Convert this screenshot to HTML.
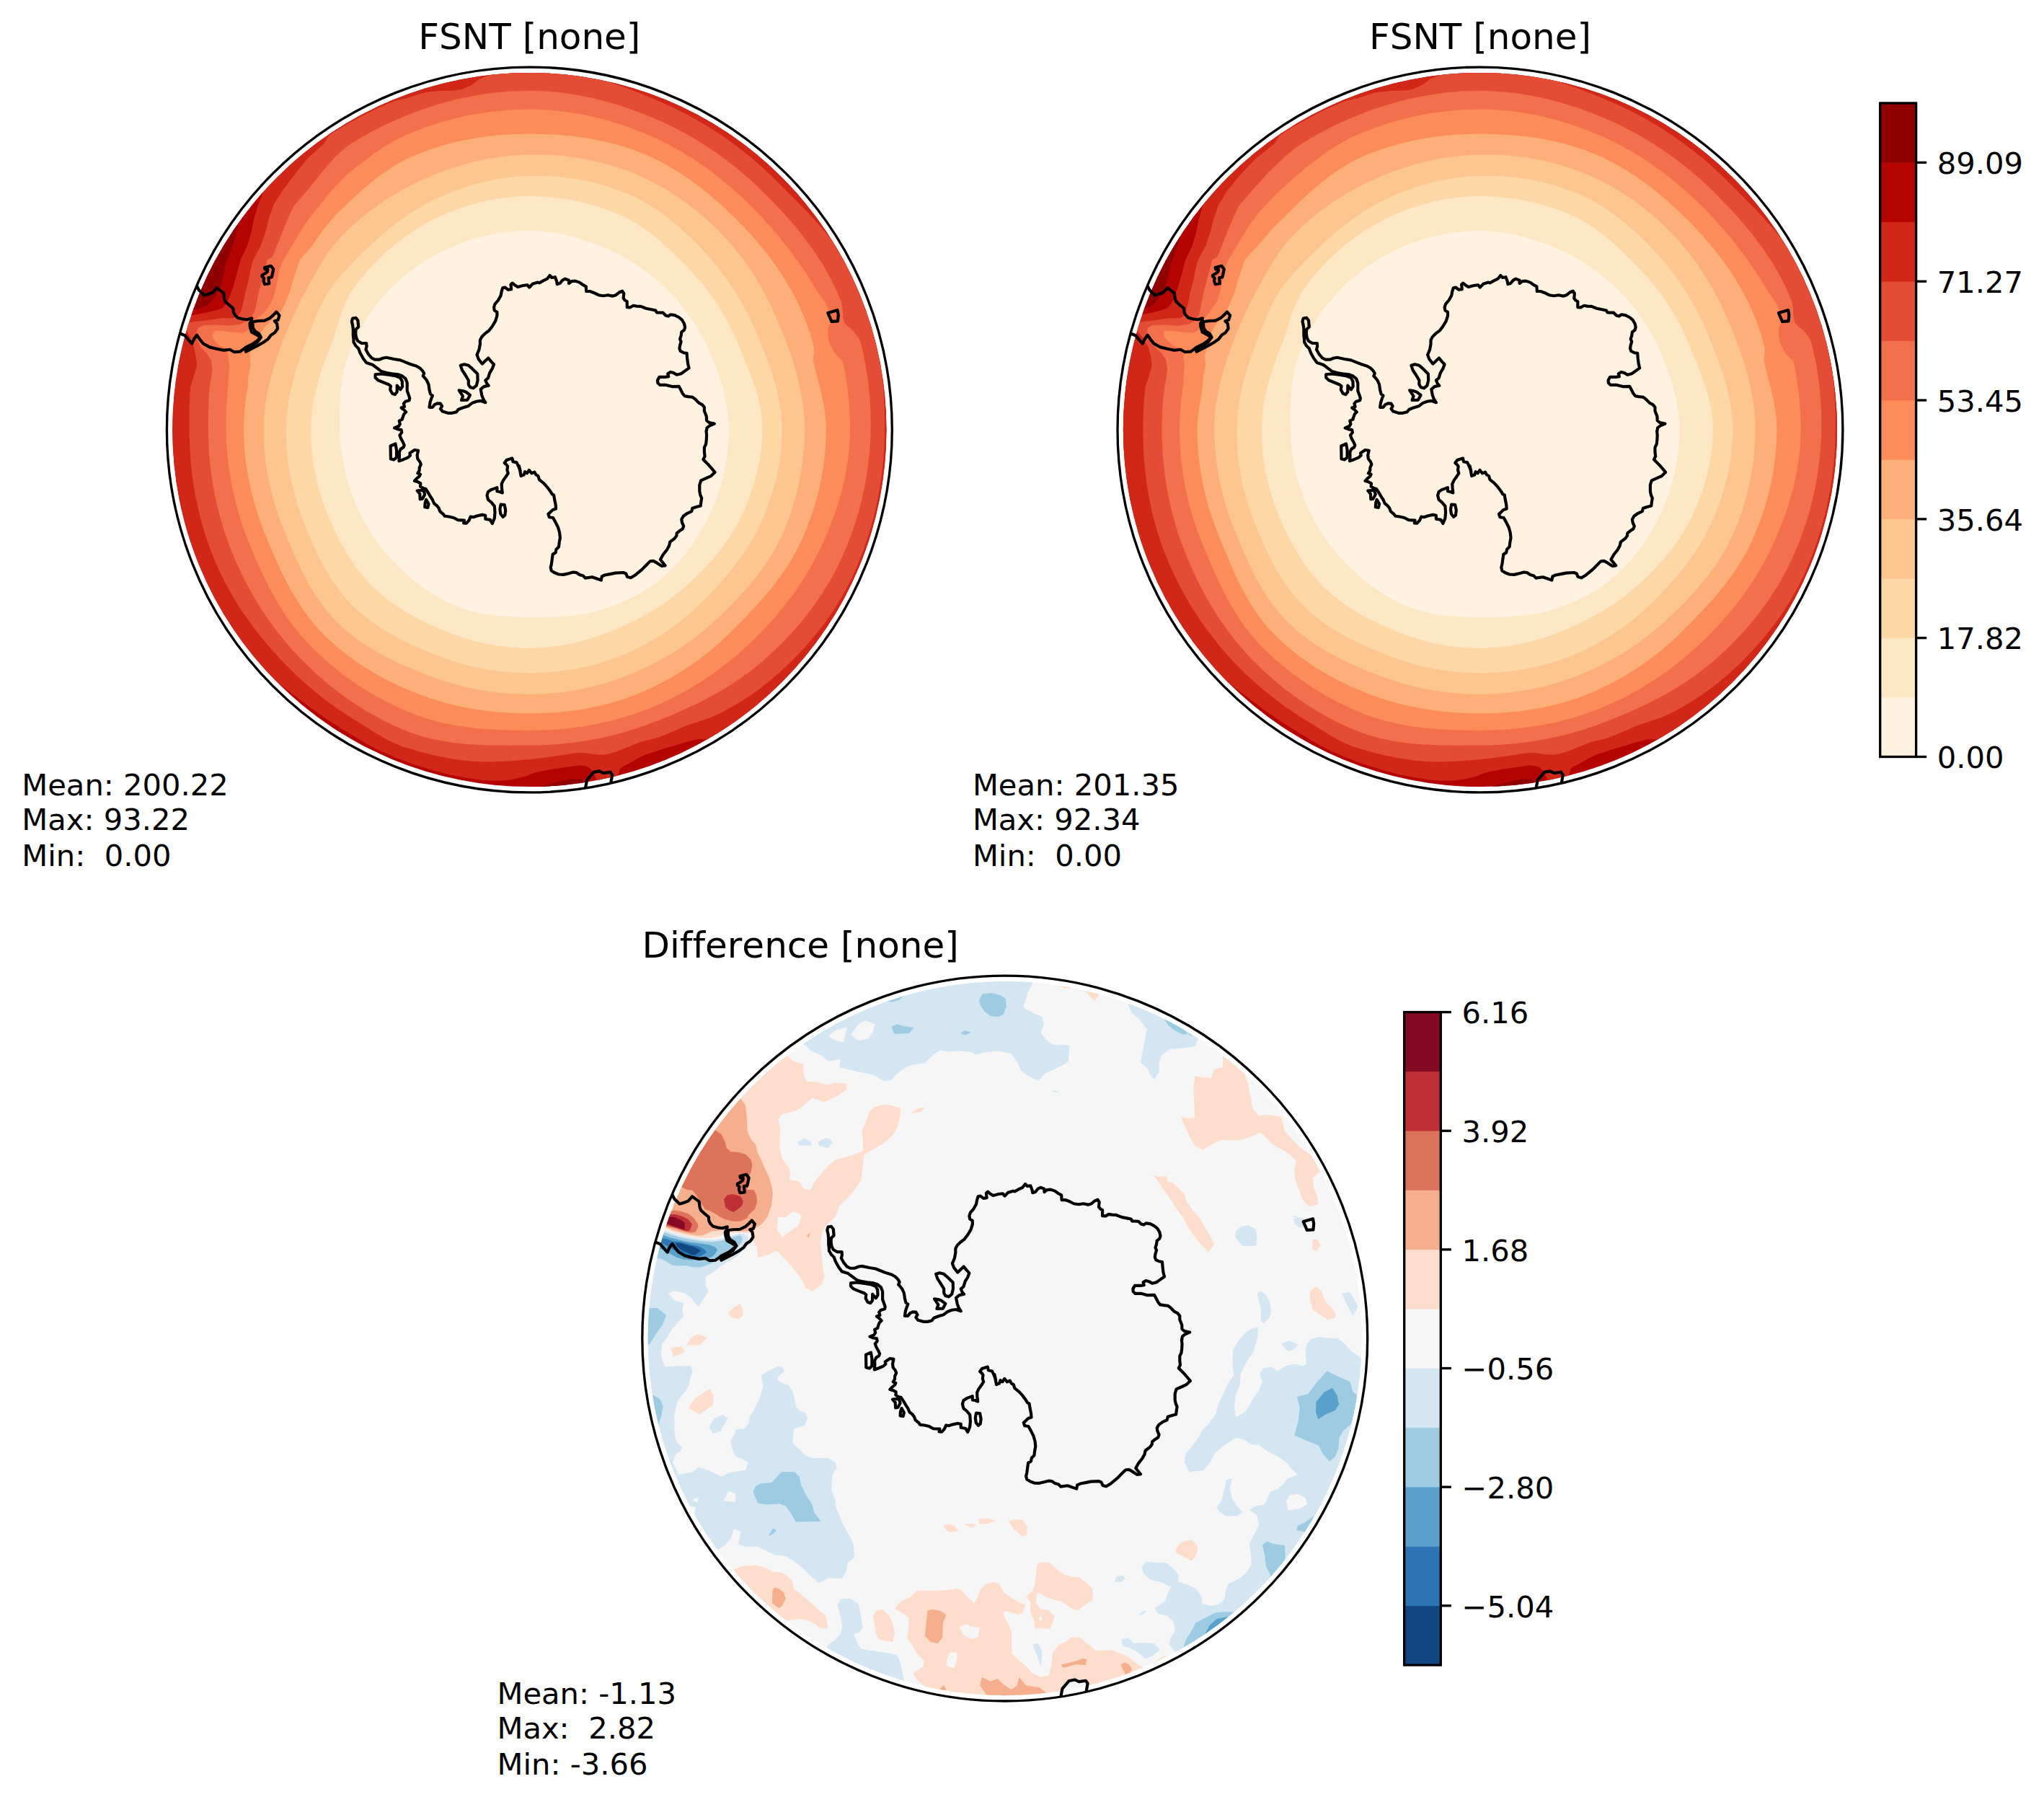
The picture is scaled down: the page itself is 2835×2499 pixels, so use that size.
<!DOCTYPE html>
<html><head><meta charset="utf-8"><title>FSNT polar</title>
<style>
html,body{margin:0;padding:0;background:#fff;}
svg{display:block}
text{font-family:"DejaVu Sans","Liberation Sans",sans-serif;fill:#000;font-variant-ligatures:none;font-feature-settings:"liga" 0,"clig" 0;font-kerning:none}
.t12{font-size:50px}
.t10{font-size:41.67px}
</style></head><body>
<svg width="2835" height="2499" viewBox="0 0 2835 2499">
<rect width="2835" height="2499" fill="#fff"/>
<defs>

<clipPath id="cp1"><circle cx="734.35" cy="596.0" r="502.95"/></clipPath>
<clipPath id="cd1"><circle cx="734.35" cy="596.0" r="495.1"/></clipPath>
<clipPath id="cp2"><circle cx="2052.95" cy="596.0" r="502.95"/></clipPath>
<clipPath id="cd2"><circle cx="2052.95" cy="596.0" r="495.1"/></clipPath>
<clipPath id="cp3"><circle cx="1393.75" cy="1856.05" r="502.95"/></clipPath>
<clipPath id="cd3"><circle cx="1393.75" cy="1856.05" r="495.1"/></clipPath>
<g id="coast" fill="none" stroke="#000" stroke-width="4.17" stroke-linejoin="round" stroke-linecap="round"><path d="M13.9,-203.0 L19.8,-206.2 L24.9,-208.6 L28.6,-213.3 L31.5,-210.3 L35.9,-211.1 L38.1,-205.2 L38.8,-201.2 L42.5,-202.3 L46.2,-206.7 L49.8,-208.6 L55.0,-206.7 L55.0,-202.3 L58.7,-205.2 L63.8,-205.7 L69.7,-203.7 L74.8,-200.1 L78.8,-197.9 L79.2,-191.3 L84.3,-191.3 L90.2,-189.1 L96.1,-186.1 L102.7,-185.1 L109.3,-186.1 L115.9,-184.7 L120.3,-186.1 L124.7,-189.8 L129.1,-191.6 L131.3,-188.3 L130.6,-181.7 L132.8,-178.8 L135.7,-177.3 L135.7,-169.2 L140.1,-169.0 L144.5,-171.5 L148.9,-170.7 L154.8,-170.4 L162.1,-167.5 L169.5,-166.0 L175.3,-164.8 L176.8,-161.9 L185.6,-161.6 L189.3,-157.8 L193.0,-156.8 L195.9,-159.0 L201.8,-158.2 L207.6,-155.3 L212.0,-151.6 L215.0,-146.5 L216.1,-141.4 L215.0,-137.7 L211.3,-134.8 L210.6,-129.6 L209.1,-125.2 L210.6,-121.5 L209.1,-116.4 L208.4,-112.0 L209.8,-108.3 L214.2,-106.1 L218.6,-105.4 L219.1,-98.8 L220.1,-90.7 L221.6,-84.9 L216.4,-81.2 L210.6,-77.1 L204.7,-75.6 L200.3,-78.2 L195.9,-79.4 L192.2,-77.1 L193.3,-73.1 L188.6,-72.4 L180.5,-72.4 L178.0,-68.0 L178.3,-64.3 L181.2,-61.4 L190.0,-61.4 L198.1,-59.2 L207.6,-59.5 L209.8,-55.5 L212.8,-49.6 L215.7,-46.0 L220.8,-45.2 L226.7,-44.5 L230.4,-41.6 L235.5,-36.4 L239.9,-34.2 L242.9,-30.5 L242.9,-25.4 L245.8,-18.1 L246.1,-12.2 L249.5,-9.3 L256.8,-7.8 L250.2,-4.9 L246.5,-1.9 L245.8,2.5 L245.5,2.3 L246.1,8.2 L245.8,14.8 L245.1,20.7 L242.9,25.1 L242.9,31.7 L243.6,37.5 L241.4,41.9 L244.3,44.9 L248.7,49.3 L253.1,54.4 L257.5,59.6 L251.7,65.1 L244.3,68.4 L238.2,71.0 L236.3,77.2 L236.3,86.0 L237.3,91.1 L239.2,95.5 L238.5,99.9 L237.7,106.2 L231.9,107.7 L226.4,109.5 L225.2,113.9 L219.4,116.5 L213.8,120.5 L211.3,124.9 L212.0,129.3 L214.2,134.4 L212.8,138.1 L208.4,141.0 L204.7,144.0 L204.4,147.6 L201.8,151.3 L195.2,156.4 L194.1,161.6 L190.8,167.4 L185.6,174.0 L181.9,180.6 L184.2,183.6 L188.6,189.0 L183.4,189.5 L176.8,185.1 L172.1,182.6 L167.7,183.1 L162.1,188.7 L156.3,194.6 L147.5,201.9 L140.9,206.0 L136.0,204.6 L134.2,200.2 L130.6,198.7 L119.6,199.3 L112.2,200.8 L104.9,202.2 L100.8,204.1 L99.8,209.3 L94.6,207.5 L87.3,204.9 L77.7,206.3 L74.8,203.1 L69.7,201.6 L65.3,198.7 L60.9,198.3 L55.7,199.7 L47.6,201.6 L41.0,201.2 L35.2,199.0 L30.8,196.1 L29.7,191.7 L30.8,187.3 L31.8,179.9 L32.7,173.3 L36.6,171.1 L37.4,166.7 L41.0,163.0 L41.8,156.4 L42.9,150.6 L42.1,143.2 L40.0,135.9 L35.9,127.8 L33.0,122.7 L27.8,121.9 L26.4,117.5 L29.3,115.0 L32.7,111.7 L37.1,110.2 L36.6,104.3 L35.2,97.7 L34.1,91.1 L31.8,90.1 L29.3,86.0 L24.9,80.1 L19.8,74.5 L13.9,69.8 L12.4,64.7 L9.5,63.2 L7.3,59.3 L3.3,61.0 L-0.1,56.6 L-3.0,61.0 L-5.9,58.8 L-7.4,63.2 L-11.4,64.7 L-14.0,50.8 L-12.3,58.1 L-14.5,52.2 L-17.4,46.1 L-22.5,44.9 L-23.6,40.2 L-31.4,42.7 L-34.3,46.6 L-32.1,48.5 L-29.9,51.5 L-30.6,56.6 L-29.2,61.0 L-32.1,65.4 L-35.8,70.6 L-38.3,75.7 L-38.0,81.6 L-37.2,88.2 L-40.9,86.7 L-44.6,86.0 L-44.6,80.8 L-52.6,83.8 L-57.0,86.7 L-58.5,91.8 L-57.0,97.7 L-52.6,101.4 L-48.2,106.5 L-47.5,115.3 L-48.2,123.4 L-51.2,130.7 L-54.1,125.6 L-60.7,124.4 L-60.7,119.4 L-65.1,118.6 L-71.7,120.0 L-77.6,121.9 L-81.3,121.2 L-83.5,126.3 L-87.1,130.3 L-90.8,130.0 L-90.1,126.3 L-98.9,125.9 L-104.7,122.7 L-111.4,121.2 L-117.2,120.5 L-119.4,117.5 L-123.8,113.9 L-125.3,109.5 L-128.2,105.8 L-131.9,102.9 L-134.1,97.7 L-137.0,93.3 L-140.0,88.2 L-143.6,82.7 L-147.3,81.6 L-151.0,79.4 L-150.7,75.0 L-154.7,72.8 L-159.1,71.6 L-156.1,68.4 L-152.4,65.4 L-151.0,62.5 L-154.7,61.0 L-152.4,57.4 L-152.2,53.0 L-150.2,48.5 L-151.7,44.9 L-154.7,41.2 L-155.4,36.1 L-153.9,29.5 L-159.1,28.7 L-165.7,33.1 L-164.9,36.1 L-167.9,39.0 L-174.5,41.9 L-180.6,44.1 L-180.0,37.5 L-180.3,31.7 L-178.1,27.3 L-174.5,25.1 L-173.3,22.1 L-175.2,17.7 L-178.1,12.6 L-179.6,8.2 L-176.7,4.5 L-177.4,0.8 L-181.8,0.1 L-186.9,-1.8 L-181.1,-4.3 L-179.2,-7.2 L-180.3,-11.6 L-175.9,-13.8 L-175.9,-15.1 L-173.7,-21.0 L-170.8,-23.9 L-173.7,-26.9 L-177.4,-29.8 L-173.0,-31.3 L-174.2,-35.7 L-171.5,-38.6 L-166.4,-40.1 L-165.7,-43.0 L-167.1,-47.4 L-169.3,-53.3 L-169.3,-64.3 L-171.5,-70.2 L-175.9,-73.8 L-181.8,-76.0 L-190.6,-77.1 L-197.9,-78.2 L-205.3,-80.4 L-211.2,-84.9 L-217.0,-89.3 L-225.8,-92.2 L-230.2,-98.1 L-234.6,-106.1 L-236.8,-112.0 L-240.5,-115.7 L-243.5,-120.8 L-243.5,-124.5 L-244.2,-129.6 L-244.2,-138.4 L-244.9,-144.3 L-246.1,-149.4 L-244.9,-153.8 L-240.5,-154.6 L-237.6,-150.9 L-236.8,-142.1 L-240.5,-138.4 L-240.8,-132.6 L-239.8,-126.7 L-237.6,-122.3 L-232.4,-119.3 L-225.8,-119.3 L-225.5,-114.9 L-226.6,-110.5 L-222.9,-103.9 L-218.5,-98.8 L-214.1,-96.6 L-208.2,-96.6 L-202.4,-98.8 L-197.9,-99.5 L-187.7,-97.3 L-178.9,-95.9 L-171.5,-92.9 L-164.2,-90.0 L-156.9,-87.8 L-151.7,-84.9 L-148.0,-81.2 L-145.8,-77.5 L-147.3,-73.8 L-145.8,-72.4 L-142.2,-68.0 L-139.5,-62.1 L-138.5,-54.8 L-137.0,-48.9 L-134.1,-46.7 L-135.6,-43.0 L-137.5,-37.1 L-138.5,-30.5 L-134.1,-30.5 L-131.2,-34.2 L-127.5,-36.0 L-123.1,-35.7 L-120.9,-32.0 L-123.1,-28.3 L-120.2,-24.7 L-112.8,-22.5 L-106.9,-22.5 L-101.1,-23.9 L-98.1,-27.6 L-92.3,-29.8 L-84.9,-32.0 L-79.1,-36.4 L-73.2,-38.6 L-67.3,-39.4 L-60.7,-37.1 L-63.6,-41.6 L-65.8,-47.4 L-67.3,-55.5 L-62.9,-59.2 L-56.3,-60.6 L-58.5,-62.8 L-60.7,-68.0 L-57.0,-70.9 L-54.8,-78.2 L-51.2,-84.1 L-49.0,-90.0 L-52.6,-93.7 L-56.7,-98.8 L-60.7,-95.1 L-65.1,-90.7 L-70.3,-97.3 L-72.5,-103.2 L-69.5,-110.5 L-68.1,-117.9 L-68.1,-123.7 L-65.8,-128.2 L-61.4,-132.6 L-55.6,-137.0 L-51.2,-142.8 L-46.8,-150.2 L-44.6,-157.5 L-44.6,-162.6 L-48.2,-164.8 L-49.0,-169.2 L-47.5,-173.7 L-43.1,-178.8 L-39.4,-185.4 L-38.3,-191.3 L-36.8,-196.0 L-33.6,-196.8 L-29.2,-193.5 L-24.8,-194.2 L-25.5,-200.8 L-23.3,-202.7 L-20.3,-200.1 L-15.9,-197.4 L-8.6,-199.3 L-2.7,-200.1 L0.2,-196.8 L4.6,-201.5 L11.9,-203.7Z"/>
<path d="M-213.4,-76.0 L-205.3,-76.8 L-193.5,-75.3 L-184.7,-73.8 L-178.9,-71.6 L-176.2,-66.5 L-175.9,-59.2 L-178.6,-55.1 L-181.5,-58.4 L-183.3,-60.6 L-183.3,-51.8 L-186.2,-48.2 L-189.9,-49.6 L-192.8,-54.8 L-192.1,-59.9 L-195.0,-62.1 L-202.4,-65.0 L-209.7,-68.0 L-213.4,-71.6Z"/>
<path d="M-95.2,-88.5 L-90.1,-90.0 L-84.2,-88.5 L-79.1,-84.1 L-71.7,-76.8 L-71.4,-68.0 L-73.2,-60.6 L-77.6,-57.0 L-82.0,-58.4 L-84.2,-62.1 L-84.2,-68.0 L-88.6,-75.3 L-93.0,-81.9Z"/>
<path d="M-97.4,-54.0 L-92.3,-53.3 L-87.9,-51.8 L-82.0,-47.4 L-85.7,-40.7 L-94.0,-40.4 L-92.0,-46.0Z"/>
<path d="M-192.4,23.2 L-185.5,20.2 L-184.0,28.7 L-184.0,39.0 L-187.7,42.2 L-192.1,41.2Z"/>
<path d="M-155.4,85.2 L-146.6,84.5 L-144.8,90.4 L-148.0,96.3 L-151.3,97.0 L-151.7,89.6Z"/>
<path d="M-142.9,97.7 L-139.5,103.6 L-140.7,108.7 L-144.8,108.0 L-144.4,102.1Z"/>
<path d="M-39.4,104.3 L-34.3,104.8 L-32.8,112.4 L-33.6,119.0 L-36.5,121.5 L-39.7,117.5 L-40.6,110.9Z"/>
<path d="M-367.0,-224.3 L-358.2,-226.5 L-354.8,-222.1 L-355.8,-216.7 L-357.2,-210.8 L-361.6,-210.3 L-360.7,-202.0 L-367.0,-201.1 L-368.5,-205.9 L-367.8,-209.4 L-370.7,-212.0 L-370.4,-213.8 L-366.0,-216.2 L-363.1,-218.7 L-362.6,-221.6 L-366.5,-221.9Z"/>
<path d="M414.3,-161.3 L427.6,-165.2 L428.8,-158.2 L428.0,-149.9 L419.4,-149.5Z"/>
<path d="M-461.9,-200.5 L-458.0,-192.7 L-450.7,-185.8 L-445.3,-187.3 L-438.9,-189.7 L-433.4,-196.1 L-428.7,-192.7 L-423.8,-189.0 L-422.8,-180.9 L-421.3,-177.0 L-415.9,-172.1 L-410.6,-167.7 L-410.1,-162.3 L-408.1,-158.4 L-404.2,-154.5 L-398.3,-153.0 L-391.5,-152.1 L-384.6,-154.0 L-385.6,-150.1 L-387.6,-146.7 L-387.1,-141.8 L-385.1,-134.9 L-378.8,-131.5 L-372.9,-127.6 L-376.8,-123.2 L-382.7,-118.8 L-388.5,-115.9 L-393.4,-113.4 L-396.4,-111.0 L-401.3,-107.6 L-409.1,-107.1 L-415.0,-110.5 L-423.8,-109.5 L-433.5,-111.5 L-443.3,-113.9 L-452.1,-118.8 L-456.5,-124.2 L-460.9,-130.5 L-464.9,-125.2 L-467.8,-118.8 L-472.7,-124.2 L-477.6,-130.1 L-484.9,-133.0"/>
<path d="M-384.6,-149.1 L-376.8,-150.1 L-367.0,-150.6 L-359.2,-154.5 L-354.3,-158.9 L-350.6,-162.8 L-346.5,-157.9 L-348.4,-151.6 L-353.3,-150.1 L-349.9,-146.7 L-348.9,-139.8 L-352.8,-134.0 L-358.2,-130.5 L-362.1,-125.2 L-369.0,-120.3 L-377.8,-115.4 L-386.6,-111.0 L-392.9,-107.6 L-393.4,-110.0"/>
<path d="M-383.6,-147.7 L-383.2,-140.8 L-380.7,-136.4 L-374.8,-132.5 L-371.9,-127.6 L-376.8,-121.2 L-384.6,-115.4 L-392.5,-109.5"/>
<path d="M77.7,499.5 L80.0,486.6 L89.4,475.6 L97.2,474.1 L103.1,476.8 L112.5,475.4 L115.2,479.1 L112.9,492.4"/></g>
</defs>
<g clip-path="url(#cd1)">
<g transform="translate(734.0,595.3)"><circle r="500" fill="#b50302"/>
<path d="M500.0,-0.0 L500.0,-4.4 L499.9,-8.7 L499.8,-13.1 L499.7,-17.4 L499.5,-21.8 L499.3,-26.2 L499.1,-30.5 L498.8,-34.9 L498.5,-39.2 L498.1,-43.6 L497.7,-47.9 L497.3,-52.3 L496.8,-56.6 L496.3,-60.9 L495.7,-65.3 L495.1,-69.6 L494.5,-73.9 L493.8,-78.2 L493.1,-82.5 L492.4,-86.8 L491.6,-91.1 L490.8,-95.4 L490.0,-99.7 L489.1,-104.0 L488.1,-108.2 L487.2,-112.5 L486.2,-116.7 L485.1,-121.0 L484.1,-125.2 L483.0,-129.4 L481.8,-133.6 L480.6,-137.8 L479.4,-142.0 L478.2,-146.2 L476.9,-150.4 L475.5,-154.5 L474.2,-158.7 L472.8,-162.8 L471.3,-166.9 L469.8,-171.0 L468.3,-175.1 L466.8,-179.2 L465.2,-183.3 L463.6,-187.3 L461.9,-191.3 L460.3,-195.4 L458.5,-199.4 L456.8,-203.4 L455.0,-207.3 L453.2,-211.3 L451.3,-215.3 L449.4,-219.2 L447.5,-223.1 L445.5,-227.0 L443.5,-230.9 L441.5,-234.7 L439.4,-238.6 L437.3,-242.4 L435.2,-246.2 L433.0,-250.0 L430.8,-253.8 L428.6,-257.5 L426.3,-261.2 L424.0,-265.0 L421.7,-268.6 L419.3,-272.3 L416.9,-276.0 L414.5,-279.6 L412.1,-283.2 L409.6,-286.8 L407.1,-290.4 L404.5,-293.9 L401.9,-297.4 L399.3,-300.9 L396.7,-304.4 L394.0,-307.8 L391.3,-311.3 L388.6,-314.7 L385.8,-318.0 L383.0,-321.4 L380.2,-324.7 L377.4,-328.0 L374.5,-331.3 L371.6,-334.6 L368.6,-337.8 L365.7,-341.0 L362.7,-344.2 L359.7,-347.3 L356.6,-350.5 L353.6,-353.6 L350.5,-356.6 L347.3,-359.7 L344.2,-362.7 L341.0,-365.7 L337.8,-368.6 L334.6,-371.6 L331.3,-374.5 L328.0,-377.4 L324.7,-380.2 L321.4,-383.0 L318.0,-385.8 L314.7,-388.6 L311.3,-391.3 L307.8,-394.0 L304.4,-396.7 L300.9,-399.3 L297.4,-401.9 L293.9,-404.5 L290.4,-407.1 L286.8,-409.6 L283.2,-412.1 L279.6,-414.5 L276.0,-416.9 L272.3,-419.3 L268.6,-421.7 L265.0,-424.0 L261.2,-426.3 L257.5,-428.6 L253.8,-430.8 L250.0,-433.0 L246.2,-435.2 L242.4,-437.3 L238.6,-439.4 L234.7,-441.5 L230.9,-443.5 L227.0,-445.5 L223.1,-447.5 L219.2,-449.4 L215.3,-451.3 L211.3,-453.2 L207.3,-455.0 L203.4,-456.8 L199.4,-458.5 L195.4,-460.3 L191.3,-461.9 L187.3,-463.6 L183.3,-465.2 L179.2,-466.8 L175.1,-468.3 L171.0,-469.8 L166.9,-471.3 L162.8,-472.8 L158.7,-474.2 L154.5,-475.5 L150.4,-476.9 L146.2,-478.2 L142.0,-479.4 L137.8,-480.6 L133.6,-481.8 L129.4,-483.0 L125.2,-484.1 L121.0,-485.1 L116.7,-486.2 L112.5,-487.2 L108.2,-488.1 L104.0,-489.1 L99.7,-490.0 L95.4,-490.8 L91.1,-491.6 L86.8,-492.4 L82.5,-493.1 L78.2,-493.8 L73.9,-494.5 L69.6,-495.1 L65.3,-495.7 L60.9,-496.3 L56.6,-496.8 L52.3,-497.3 L47.9,-497.7 L43.6,-498.1 L39.2,-498.5 L34.9,-498.8 L30.5,-499.1 L26.2,-499.3 L21.8,-499.5 L17.4,-499.7 L13.1,-499.8 L8.7,-499.9 L4.4,-500.0 L0.0,-500.0 L-4.4,-500.0 L-8.7,-499.9 L-13.1,-499.8 L-17.4,-499.7 L-21.8,-499.5 L-26.2,-499.3 L-30.5,-499.1 L-34.9,-498.8 L-39.2,-498.5 L-43.6,-498.1 L-47.9,-497.7 L-52.3,-497.3 L-56.6,-496.8 L-60.9,-496.3 L-65.3,-495.7 L-69.6,-495.1 L-73.9,-494.5 L-78.2,-493.8 L-82.5,-493.1 L-86.8,-492.4 L-91.1,-491.6 L-95.4,-490.8 L-99.7,-490.0 L-104.0,-489.1 L-108.2,-488.1 L-112.5,-487.2 L-116.7,-486.2 L-121.0,-485.1 L-125.2,-484.1 L-129.4,-483.0 L-133.6,-481.8 L-137.8,-480.6 L-142.0,-479.4 L-146.2,-478.2 L-150.4,-476.9 L-154.5,-475.5 L-158.7,-474.2 L-162.8,-472.8 L-166.9,-471.3 L-171.0,-469.8 L-175.1,-468.3 L-179.2,-466.8 L-183.3,-465.2 L-187.3,-463.6 L-191.3,-461.9 L-195.4,-460.3 L-199.4,-458.5 L-203.4,-456.8 L-207.3,-455.0 L-211.3,-453.2 L-215.3,-451.3 L-219.2,-449.4 L-223.1,-447.5 L-227.0,-445.5 L-230.9,-443.5 L-234.7,-441.5 L-238.6,-439.4 L-242.4,-437.3 L-246.2,-435.2 L-250.0,-433.0 L-253.8,-430.8 L-257.5,-428.6 L-261.2,-426.3 L-265.0,-424.0 L-268.6,-421.7 L-272.3,-419.3 L-276.0,-416.9 L-279.6,-414.5 L-283.2,-412.1 L-286.8,-409.6 L-290.4,-407.1 L-293.9,-404.5 L-297.4,-401.9 L-300.9,-399.3 L-304.4,-396.7 L-307.8,-394.0 L-311.3,-391.3 L-314.7,-388.6 L-318.0,-385.8 L-321.4,-383.0 L-324.7,-380.2 L-328.0,-377.4 L-331.3,-374.5 L-334.6,-371.6 L-337.8,-368.6 L-341.0,-365.7 L-344.2,-362.7 L-347.3,-359.7 L-350.5,-356.6 L-353.6,-353.6 L-356.6,-350.5 L-359.7,-347.3 L-362.7,-344.2 L-365.7,-341.0 L-368.6,-337.8 L-371.6,-334.6 L-374.5,-331.3 L-377.4,-328.0 L-380.2,-324.7 L-383.0,-321.4 L-385.8,-318.0 L-388.6,-314.7 L-391.3,-311.3 L-394.0,-307.8 L-396.7,-304.4 L-399.3,-300.9 L-401.9,-297.4 L-404.5,-293.9 L-407.1,-290.4 L-409.6,-286.8 L-412.1,-283.2 L-414.5,-279.6 L-416.9,-276.0 L-419.3,-272.3 L-421.7,-268.6 L-424.0,-265.0 L-426.3,-261.2 L-428.6,-257.5 L-430.8,-253.8 L-433.0,-250.0 L-435.2,-246.2 L-437.3,-242.4 L-439.4,-238.6 L-441.5,-234.7 L-443.5,-230.9 L-445.5,-227.0 L-447.5,-223.1 L-449.4,-219.2 L-451.3,-215.3 L-453.2,-211.3 L-455.0,-207.3 L-456.8,-203.4 L-458.5,-199.4 L-460.3,-195.4 L-461.9,-191.3 L-463.6,-187.3 L-465.2,-183.3 L-466.8,-179.2 L-468.3,-175.1 L-469.8,-171.0 L-471.3,-166.9 L-472.8,-162.8 L-474.2,-158.7 L-475.5,-154.5 L-476.9,-150.4 L-478.2,-146.2 L-479.4,-142.0 L-480.6,-137.8 L-481.8,-133.6 L-483.0,-129.4 L-484.1,-125.2 L-485.1,-121.0 L-486.2,-116.7 L-487.2,-112.5 L-488.1,-108.2 L-489.1,-104.0 L-490.0,-99.7 L-490.8,-95.4 L-491.6,-91.1 L-492.4,-86.8 L-493.1,-82.5 L-493.8,-78.2 L-494.5,-73.9 L-495.1,-69.6 L-495.7,-65.3 L-496.3,-60.9 L-496.8,-56.6 L-497.3,-52.3 L-497.7,-47.9 L-498.1,-43.6 L-498.5,-39.2 L-498.8,-34.9 L-499.1,-30.5 L-499.3,-26.2 L-499.5,-21.8 L-499.7,-17.4 L-499.8,-13.1 L-499.9,-8.7 L-500.0,-4.4 L-500.0,-0.0 L-500.0,4.4 L-499.9,8.7 L-499.8,13.1 L-499.7,17.4 L-499.5,21.8 L-499.3,26.2 L-499.1,30.5 L-498.8,34.9 L-498.5,39.2 L-498.1,43.6 L-497.7,47.9 L-497.3,52.3 L-496.8,56.6 L-496.3,60.9 L-495.7,65.3 L-495.1,69.6 L-494.5,73.9 L-493.8,78.2 L-493.1,82.5 L-492.4,86.8 L-491.6,91.1 L-490.8,95.4 L-490.0,99.7 L-489.1,104.0 L-488.1,108.2 L-487.2,112.5 L-486.2,116.7 L-485.1,121.0 L-484.1,125.2 L-483.0,129.4 L-481.8,133.6 L-480.6,137.8 L-479.4,142.0 L-478.2,146.2 L-476.9,150.4 L-475.5,154.5 L-474.2,158.7 L-472.8,162.8 L-471.3,166.9 L-469.8,171.0 L-468.3,175.1 L-466.8,179.2 L-465.2,183.2 L-463.6,187.3 L-461.9,191.3 L-460.2,195.3 L-458.5,199.3 L-456.7,203.3 L-454.9,207.3 L-453.0,211.2 L-451.1,215.2 L-449.2,219.1 L-447.2,223.0 L-445.2,226.8 L-443.2,230.7 L-441.1,234.5 L-439.0,238.3 L-436.8,242.1 L-434.7,245.9 L-432.4,249.7 L-430.2,253.4 L-427.9,257.1 L-425.6,260.8 L-423.2,264.5 L-420.8,268.1 L-418.4,271.7 L-416.0,275.3 L-413.5,278.9 L-410.9,282.4 L-408.4,286.0 L-405.8,289.5 L-403.2,292.9 L-400.5,296.4 L-397.8,299.8 L-395.1,303.2 L-392.4,306.6 L-389.6,309.9 L-386.8,313.2 L-384.0,316.5 L-381.1,319.8 L-378.2,323.0 L-375.3,326.2 L-372.3,329.4 L-369.3,332.6 L-366.3,335.7 L-363.2,338.7 L-360.0,341.6 L-356.8,344.5 L-353.5,347.4 L-350.1,350.1 L-346.8,352.9 L-343.3,355.5 L-339.9,358.2 L-336.5,360.8 L-333.0,363.5 L-329.6,366.1 L-326.2,368.7 L-322.7,371.3 L-319.3,373.9 L-315.9,376.5 L-312.5,379.1 L-309.1,381.8 L-305.7,384.3 L-302.3,386.9 L-298.8,389.4 L-295.3,391.9 L-291.8,394.4 L-288.3,396.8 L-284.8,399.3 L-281.3,401.7 L-277.7,404.0 L-274.1,406.4 L-270.5,408.7 L-266.9,411.0 L-263.3,413.3 L-259.7,415.6 L-256.0,417.8 L-252.4,420.0 L-248.7,422.2 L-245.1,424.5 L-241.4,426.7 L-237.8,428.9 L-234.1,431.1 L-230.4,433.3 L-226.7,435.5 L-223.0,437.6 L-219.2,439.7 L-215.4,441.7 L-211.6,443.6 L-207.7,445.5 L-203.8,447.2 L-199.9,449.0 L-196.0,450.7 L-192.0,452.4 L-188.1,454.1 L-184.1,455.7 L-180.1,457.3 L-176.1,458.9 L-172.1,460.4 L-168.1,461.9 L-164.1,463.3 L-160.0,464.7 L-156.0,466.1 L-151.9,467.4 L-147.8,468.8 L-143.7,470.0 L-139.6,471.3 L-135.5,472.5 L-131.3,473.6 L-127.2,474.8 L-123.1,475.8 L-118.9,476.9 L-114.7,477.9 L-110.6,478.9 L-106.4,479.8 L-102.2,480.7 L-98.0,481.5 L-93.8,482.3 L-89.5,483.1 L-85.3,483.8 L-81.1,484.5 L-76.8,485.1 L-72.6,485.7 L-68.3,486.2 L-64.1,486.7 L-59.8,487.0 L-55.5,487.2 L-51.2,487.3 L-46.9,487.4 L-42.6,487.3 L-38.3,487.2 L-34.0,486.9 L-29.8,486.5 L-25.5,485.9 L-21.2,485.1 L-16.9,484.3 L-12.7,483.3 L-8.4,482.2 L-4.2,481.0 L-0.0,479.3 L4.2,477.4 L8.3,476.2 L12.4,475.3 L16.6,474.3 L20.7,473.5 L24.8,472.7 L28.9,472.0 L33.0,471.3 L37.0,470.7 L41.1,470.1 L45.2,469.5 L49.3,468.9 L53.4,468.3 L57.4,467.7 L61.5,467.1 L65.6,466.5 L69.7,466.3 L73.9,466.6 L78.2,467.3 L82.7,468.9 L87.8,473.9 L94.8,487.9 L99.1,487.0 L103.3,486.1 L107.6,485.2 L111.8,484.3 L116.0,483.3 L120.2,482.2 L123.7,478.4 L126.1,470.5 L129.7,467.9 L133.6,465.9 L137.5,464.0 L141.2,461.9 L144.9,459.7 L148.6,457.5 L152.4,455.4 L156.1,453.5 L160.0,451.9 L164.0,450.5 L167.9,449.2 L171.9,447.9 L175.9,446.6 L179.9,445.3 L183.9,443.9 L187.9,442.7 L191.9,441.4 L196.0,440.2 L200.1,439.1 L204.2,437.9 L208.3,436.7 L212.4,435.5 L216.5,434.3 L220.7,433.1 L224.8,431.9 L229.1,430.8 L233.4,429.9 L238.3,429.8 L243.4,430.2 L248.0,429.5 L252.0,427.8 L255.9,425.9 L259.8,424.0 L263.7,422.0 L267.5,419.9 L271.4,417.8 L275.1,415.7 L278.9,413.5 L282.6,411.2 L286.3,408.9 L290.0,406.5 L293.6,404.1 L297.2,401.6 L300.7,399.1 L304.3,396.5 L307.8,393.9 L311.2,391.3 L314.6,388.6 L318.0,385.8 L321.4,383.0 L324.7,380.2 L328.0,377.4 L331.3,374.5 L334.6,371.6 L337.8,368.6 L341.0,365.7 L344.2,362.7 L347.3,359.7 L350.5,356.6 L353.6,353.6 L356.6,350.5 L359.7,347.3 L362.7,344.2 L365.7,341.0 L368.6,337.8 L371.6,334.6 L374.5,331.3 L377.4,328.0 L380.2,324.7 L383.0,321.4 L385.8,318.0 L388.6,314.7 L391.3,311.3 L394.0,307.8 L396.7,304.4 L399.3,300.9 L401.9,297.4 L404.5,293.9 L407.1,290.4 L409.6,286.8 L412.1,283.2 L414.5,279.6 L416.9,276.0 L419.3,272.3 L421.7,268.6 L424.0,265.0 L426.3,261.2 L428.6,257.5 L430.8,253.8 L433.0,250.0 L435.2,246.2 L437.3,242.4 L439.4,238.6 L441.5,234.7 L443.5,230.9 L445.5,227.0 L447.5,223.1 L449.4,219.2 L451.3,215.3 L453.2,211.3 L455.0,207.3 L456.8,203.4 L458.5,199.4 L460.3,195.4 L461.9,191.3 L463.6,187.3 L465.2,183.3 L466.8,179.2 L468.3,175.1 L469.8,171.0 L471.3,166.9 L472.8,162.8 L474.2,158.7 L475.5,154.5 L476.9,150.4 L478.2,146.2 L479.4,142.0 L480.6,137.8 L481.8,133.6 L483.0,129.4 L484.1,125.2 L485.1,121.0 L486.2,116.7 L487.2,112.5 L488.1,108.2 L489.1,104.0 L490.0,99.7 L490.8,95.4 L491.6,91.1 L492.4,86.8 L493.1,82.5 L493.8,78.2 L494.5,73.9 L495.1,69.6 L495.7,65.3 L496.3,60.9 L496.8,56.6 L497.3,52.3 L497.7,47.9 L498.1,43.6 L498.5,39.2 L498.8,34.9 L499.1,30.5 L499.3,26.2 L499.5,21.8 L499.7,17.4 L499.8,13.1 L499.9,8.7 L500.0,4.4Z" fill="#d12719"/>
<path d="M-469.8,-59.3 L-470.1,-55.2 L-470.4,-51.1 L-470.7,-46.9 L-470.8,-42.8 L-471.0,-38.7 L-471.1,-34.5 L-471.2,-30.4 L-471.3,-26.3 L-471.3,-22.2 L-471.3,-18.1 L-471.3,-13.9 L-471.3,-9.8 L-471.3,-5.7 L-471.3,-1.6 L-471.3,2.5 L-471.3,6.6 L-471.2,10.7 L-471.1,14.9 L-471.0,19.0 L-470.8,23.1 L-470.6,27.2 L-470.4,31.3 L-470.1,35.4 L-469.8,39.5 L-469.5,43.6 L-469.1,47.7 L-468.7,51.8 L-468.3,55.9 L-467.8,60.0 L-467.3,64.1 L-466.8,68.1 L-466.2,72.2 L-465.6,76.3 L-464.9,80.4 L-464.3,84.4 L-463.5,88.5 L-462.8,92.5 L-462.0,96.6 L-461.2,100.6 L-460.3,104.6 L-459.5,108.7 L-458.5,112.7 L-457.6,116.7 L-456.6,120.7 L-455.5,124.7 L-454.5,128.7 L-453.4,132.6 L-452.2,136.6 L-451.0,140.5 L-449.8,144.5 L-448.6,148.4 L-447.3,152.3 L-446.0,156.2 L-444.6,160.1 L-443.2,164.0 L-441.8,167.9 L-440.3,171.7 L-438.8,175.6 L-437.2,179.4 L-435.7,183.2 L-434.0,187.0 L-432.4,190.7 L-430.7,194.5 L-428.9,198.2 L-427.1,202.0 L-425.3,205.7 L-423.5,209.3 L-421.6,213.0 L-419.6,216.6 L-417.7,220.3 L-415.7,223.9 L-413.6,227.5 L-411.6,231.0 L-409.5,234.6 L-407.3,238.1 L-405.2,241.6 L-403.0,245.1 L-400.7,248.5 L-398.5,251.9 L-396.2,255.4 L-393.8,258.8 L-391.5,262.1 L-389.1,265.5 L-386.7,268.8 L-384.3,272.1 L-381.8,275.4 L-379.3,278.7 L-376.8,281.9 L-374.2,285.1 L-371.7,288.3 L-369.1,291.5 L-366.4,294.7 L-363.8,297.8 L-361.1,300.9 L-358.4,304.0 L-355.7,307.1 L-353.0,310.2 L-350.2,313.2 L-347.5,316.2 L-344.7,319.2 L-341.8,322.2 L-339.0,325.2 L-336.1,328.1 L-333.3,331.0 L-330.3,333.9 L-327.4,336.8 L-324.5,339.6 L-321.5,342.4 L-318.5,345.2 L-315.5,348.0 L-312.4,350.7 L-309.4,353.5 L-306.3,356.2 L-303.2,358.8 L-300.0,361.5 L-296.9,364.1 L-293.7,366.7 L-290.5,369.2 L-287.3,371.8 L-284.0,374.3 L-280.8,376.8 L-277.5,379.2 L-274.2,381.6 L-270.8,384.0 L-267.5,386.4 L-264.1,388.7 L-260.7,391.1 L-257.3,393.3 L-253.9,395.6 L-250.5,397.8 L-247.0,400.0 L-243.5,402.2 L-240.0,404.3 L-236.5,406.5 L-233.0,408.6 L-229.5,410.8 L-226.0,413.0 L-222.6,415.2 L-219.1,417.4 L-215.6,419.6 L-212.0,421.7 L-208.5,423.8 L-204.9,425.9 L-201.3,428.0 L-197.7,430.0 L-194.1,431.9 L-190.4,433.8 L-186.6,435.5 L-182.8,437.2 L-179.0,438.8 L-175.1,440.1 L-171.1,441.4 L-167.2,442.6 L-163.2,443.8 L-159.3,445.0 L-155.3,446.1 L-151.3,447.2 L-147.3,448.3 L-143.4,449.3 L-139.4,450.3 L-135.3,451.3 L-131.3,452.2 L-127.3,453.1 L-123.3,454.0 L-119.3,454.8 L-115.2,455.5 L-111.2,456.3 L-107.1,456.9 L-103.1,457.6 L-99.0,458.2 L-94.9,458.7 L-90.9,459.2 L-86.8,459.6 L-82.7,460.0 L-78.6,460.4 L-74.6,460.7 L-70.5,460.9 L-66.4,461.1 L-62.3,461.1 L-58.2,461.1 L-54.1,461.1 L-50.0,461.0 L-46.0,460.9 L-41.9,460.8 L-37.8,460.6 L-33.8,460.5 L-29.7,460.2 L-25.7,460.0 L-21.6,459.7 L-17.6,459.4 L-13.6,459.0 L-9.6,458.7 L-5.6,458.3 L-1.6,457.9 L2.4,457.6 L6.4,457.2 L10.4,456.8 L14.4,456.3 L18.4,455.8 L22.3,455.3 L26.3,454.7 L30.2,454.2 L34.2,453.6 L38.1,453.0 L42.0,452.4 L45.9,451.8 L49.9,451.2 L53.8,450.6 L57.7,450.0 L61.6,449.4 L65.5,448.9 L69.5,448.6 L73.5,448.7 L77.6,449.0 L81.7,449.5 L85.9,450.1 L90.1,450.7 L94.3,451.1 L98.5,451.4 L102.6,451.3 L106.6,450.9 L110.6,450.0 L114.5,448.9 L118.3,447.7 L122.2,446.4 L126.0,444.9 L129.7,443.5 L133.5,441.9 L137.2,440.4 L141.0,438.9 L144.7,437.4 L148.4,435.9 L152.2,434.5 L156.0,433.3 L159.9,432.2 L163.9,431.3 L167.9,430.5 L171.9,429.5 L175.8,428.4 L179.6,427.1 L183.4,425.7 L187.2,424.2 L190.9,422.7 L194.6,421.1 L198.4,419.5 L202.1,417.9 L205.8,416.3 L209.5,414.6 L213.2,413.0 L217.0,411.5 L220.9,410.1 L224.7,408.7 L228.7,407.4 L232.6,406.1 L236.6,404.8 L240.6,403.4 L244.5,402.1 L248.5,400.7 L252.4,399.2 L256.3,397.6 L260.1,395.9 L263.9,394.1 L267.6,392.2 L271.3,390.3 L275.0,388.3 L278.7,386.3 L282.3,384.3 L286.0,382.2 L289.6,380.0 L293.2,377.8 L296.7,375.6 L300.2,373.4 L303.8,371.0 L307.2,368.7 L310.7,366.3 L314.1,363.9 L317.6,361.4 L320.9,358.9 L324.3,356.3 L327.6,353.7 L330.9,351.1 L334.2,348.4 L337.4,345.7 L340.6,343.0 L343.8,340.2 L347.0,337.4 L350.1,334.5 L353.2,331.7 L356.3,328.8 L359.4,325.8 L362.5,322.9 L365.5,319.9 L368.5,316.9 L371.4,313.8 L374.4,310.8 L377.3,307.7 L380.2,304.5 L383.1,301.4 L385.9,298.2 L388.7,295.0 L391.5,291.7 L394.2,288.5 L396.9,285.2 L399.6,281.8 L402.3,278.5 L404.9,275.1 L407.5,271.7 L410.0,268.2 L412.5,264.8 L415.0,261.3 L417.5,257.8 L419.9,254.2 L422.2,250.6 L424.6,247.0 L426.9,243.4 L429.1,239.8 L431.3,236.1 L433.5,232.4 L435.7,228.7 L437.7,224.9 L439.8,221.1 L441.8,217.3 L443.8,213.5 L445.7,209.7 L447.6,205.8 L449.4,201.9 L451.2,198.0 L452.9,194.1 L454.6,190.1 L456.3,186.2 L457.9,182.2 L459.5,178.2 L461.0,174.2 L462.5,170.1 L464.0,166.1 L465.4,162.0 L466.9,158.0 L468.2,153.9 L469.5,149.8 L470.8,145.7 L472.1,141.6 L473.3,137.5 L474.5,133.3 L475.7,129.2 L476.8,125.0 L477.8,120.9 L478.9,116.7 L479.9,112.5 L480.8,108.3 L481.8,104.1 L482.7,99.9 L483.5,95.7 L484.3,91.5 L485.1,87.2 L485.9,83.0 L486.6,78.8 L487.2,74.5 L487.9,70.3 L488.5,66.0 L489.0,61.7 L489.6,57.5 L490.1,53.2 L490.5,48.9 L490.9,44.6 L491.3,40.3 L491.6,36.1 L491.9,31.8 L492.2,27.5 L492.4,23.2 L492.6,18.9 L492.8,14.6 L492.9,10.3 L493.0,6.0 L493.0,1.7 L493.0,-2.6 L493.0,-6.9 L493.0,-11.2 L492.9,-15.5 L492.8,-19.8 L492.7,-24.2 L492.6,-28.5 L492.5,-32.8 L492.3,-37.1 L492.1,-41.4 L491.9,-45.7 L491.7,-50.0 L491.4,-54.3 L491.1,-58.6 L490.8,-62.9 L490.4,-67.2 L490.0,-71.5 L489.6,-75.8 L489.1,-80.2 L488.6,-84.5 L488.1,-88.8 L487.5,-93.1 L486.9,-97.4 L486.3,-101.6 L485.6,-105.9 L484.9,-110.2 L484.1,-114.5 L483.3,-118.8 L482.5,-123.0 L481.6,-127.3 L480.7,-131.5 L479.7,-135.8 L478.7,-140.0 L477.6,-144.2 L476.5,-148.5 L475.3,-152.7 L474.1,-156.8 L472.8,-161.0 L471.5,-165.2 L470.2,-169.3 L468.8,-173.5 L467.3,-177.6 L465.8,-181.7 L464.2,-185.7 L462.6,-189.8 L460.9,-193.8 L459.2,-197.8 L457.3,-201.8 L455.5,-205.7 L453.5,-209.6 L451.5,-213.5 L449.4,-217.3 L447.3,-221.1 L445.1,-224.9 L442.8,-228.6 L440.5,-232.3 L438.2,-236.0 L435.8,-239.6 L433.4,-243.3 L430.9,-246.8 L428.4,-250.4 L425.8,-253.9 L423.2,-257.4 L420.6,-260.8 L417.9,-264.2 L415.2,-267.6 L412.4,-271.0 L409.7,-274.3 L406.9,-277.6 L404.1,-280.9 L401.2,-284.2 L398.4,-287.4 L395.5,-290.6 L392.6,-293.8 L389.7,-296.9 L386.8,-300.1 L383.8,-303.2 L380.9,-306.3 L377.9,-309.4 L374.9,-312.5 L372.0,-315.5 L369.0,-318.6 L366.0,-321.6 L363.0,-324.6 L360.0,-327.6 L357.0,-330.6 L354.0,-333.6 L351.0,-336.6 L348.0,-339.6 L345.0,-342.6 L342.0,-345.6 L338.9,-348.6 L335.9,-351.6 L332.8,-354.5 L329.7,-357.4 L326.6,-360.3 L323.5,-363.1 L320.3,-365.9 L317.1,-368.7 L313.9,-371.5 L310.7,-374.3 L307.4,-377.0 L304.1,-379.7 L300.8,-382.4 L297.5,-385.0 L294.2,-387.6 L290.8,-390.2 L287.4,-392.8 L284.0,-395.3 L280.6,-397.9 L277.2,-400.3 L273.7,-402.8 L270.2,-405.2 L266.7,-407.6 L263.2,-410.0 L259.6,-412.3 L256.0,-414.7 L252.5,-416.9 L248.8,-419.2 L245.2,-421.4 L241.6,-423.6 L237.9,-425.8 L234.2,-427.9 L230.5,-430.0 L226.8,-432.1 L223.1,-434.1 L219.3,-436.2 L215.5,-438.1 L211.7,-440.1 L207.9,-442.0 L204.1,-443.9 L200.3,-445.7 L196.4,-447.6 L192.5,-449.4 L188.6,-451.1 L184.7,-452.8 L180.8,-454.5 L176.9,-456.2 L173.0,-457.9 L169.0,-459.6 L165.1,-461.2 L161.1,-462.9 L157.2,-464.5 L153.2,-466.1 L149.2,-467.7 L145.2,-469.2 L141.2,-470.7 L137.1,-472.2 L133.1,-473.7 L129.0,-475.2 L125.0,-476.6 L120.9,-478.0 L116.8,-479.4 L112.7,-480.7 L108.6,-482.0 L104.4,-483.3 L100.3,-484.5 L96.1,-485.7 L91.9,-486.8 L87.7,-487.9 L83.5,-489.0 L79.3,-490.1 L75.1,-491.0 L70.8,-492.0 L66.6,-492.9 L62.3,-493.7 L58.0,-494.5 L53.8,-495.3 L49.5,-496.0 L45.1,-496.6 L40.8,-497.2 L36.5,-497.8 L32.2,-498.3 L27.8,-498.7 L23.5,-499.1 L19.1,-499.4 L14.8,-499.6 L10.4,-499.8 L6.1,-499.9 L1.7,-500.0 L-2.7,-500.0 L-7.0,-499.9 L-11.4,-499.6 L-15.7,-499.3 L-20.1,-498.8 L-24.4,-498.2 L-28.7,-497.5 L-33.0,-496.7 L-37.3,-495.8 L-41.6,-494.8 L-45.9,-493.7 L-50.1,-492.5 L-54.3,-491.2 L-58.5,-489.8 L-62.6,-488.3 L-66.7,-486.6 L-70.8,-484.8 L-74.6,-481.4 L-78.4,-478.5 L-82.3,-476.4 L-86.3,-474.4 L-90.2,-472.7 L-94.2,-471.4 L-98.3,-470.5 L-102.5,-469.9 L-106.7,-469.6 L-111.0,-469.5 L-115.4,-469.4 L-119.7,-469.4 L-124.0,-469.2 L-128.3,-468.9 L-132.6,-468.5 L-136.9,-468.1 L-141.2,-467.5 L-145.4,-466.7 L-149.5,-465.6 L-153.6,-464.3 L-157.7,-463.0 L-161.7,-461.6 L-165.8,-460.2 L-169.8,-459.0 L-174.1,-458.1 L-178.3,-457.2 L-182.6,-456.3 L-186.7,-455.1 L-190.7,-453.6 L-194.7,-451.9 L-198.7,-450.3 L-202.6,-448.6 L-206.5,-446.8 L-210.4,-445.0 L-214.3,-443.2 L-218.2,-441.3 L-222.0,-439.4 L-225.9,-437.5 L-229.7,-435.5 L-233.5,-433.5 L-237.3,-431.5 L-241.0,-429.4 L-244.8,-427.3 L-248.5,-425.2 L-252.3,-423.1 L-256.0,-421.0 L-259.8,-418.8 L-263.5,-416.7 L-267.1,-414.4 L-270.8,-412.2 L-274.4,-409.8 L-277.8,-407.1 L-280.3,-403.3 L-282.7,-399.1 L-285.4,-395.6 L-285.7,-395.3 L-307.2,-375.7 L-326.8,-351.3 L-341.5,-331.7 L-354.2,-312.1 L-361.0,-292.6 L-365.9,-273.0 L-372.8,-253.4 L-382.7,-235.3 L-386.6,-220.6 L-389.5,-205.9 L-393.4,-191.3 L-396.4,-176.6 L-399.3,-164.8 L-403.2,-158.0 L-411.0,-154.1 L-425.7,-154.1 L-440.4,-152.1 L-453.1,-150.2 L-462.9,-149.2 L-470.2,-148.2 L-489.0,-145.3 L-491.0,-137.3 L-475.6,-137.5 L-474.6,-135.5 L-469.8,-127.7 L-464.9,-113.0 L-461.9,-98.3 L-460.9,-88.5 L-464.9,-73.9 L-469.8,-59.3Z" fill="#e44d35"/>
<path d="M-443.3,-59.3 L-443.6,-55.4 L-443.9,-51.5 L-444.2,-47.6 L-444.4,-43.7 L-444.6,-39.8 L-444.7,-35.9 L-444.8,-32.0 L-444.9,-28.1 L-445.0,-24.2 L-445.0,-20.4 L-445.1,-16.5 L-445.1,-12.6 L-445.1,-8.7 L-445.1,-4.8 L-445.1,-0.9 L-445.1,3.0 L-445.0,6.8 L-445.0,10.7 L-444.9,14.6 L-444.7,18.5 L-444.6,22.4 L-444.4,26.3 L-444.1,30.1 L-443.9,34.0 L-443.6,37.9 L-443.2,41.7 L-442.9,45.6 L-442.5,49.5 L-442.0,53.3 L-441.6,57.2 L-441.1,61.1 L-440.5,64.9 L-440.0,68.7 L-439.4,72.6 L-438.7,76.4 L-438.1,80.3 L-437.4,84.1 L-436.7,87.9 L-435.9,91.7 L-435.1,95.5 L-434.3,99.3 L-433.4,103.1 L-432.5,106.9 L-431.6,110.7 L-430.7,114.4 L-429.7,118.2 L-428.7,122.0 L-427.6,125.7 L-426.5,129.4 L-425.4,133.2 L-424.3,136.9 L-423.1,140.6 L-421.9,144.3 L-420.6,148.0 L-419.3,151.6 L-418.0,155.3 L-416.7,159.0 L-415.3,162.6 L-413.9,166.2 L-412.5,169.9 L-411.0,173.5 L-409.5,177.1 L-408.0,180.6 L-406.5,184.2 L-404.9,187.8 L-403.3,191.3 L-401.6,194.8 L-400.0,198.4 L-398.3,201.9 L-396.5,205.4 L-394.8,208.9 L-393.0,212.3 L-391.2,215.8 L-389.3,219.2 L-387.5,222.6 L-385.6,226.0 L-383.6,229.4 L-381.7,232.8 L-379.7,236.2 L-377.7,239.5 L-375.6,242.8 L-373.6,246.1 L-371.5,249.4 L-369.3,252.7 L-367.2,256.0 L-365.0,259.2 L-362.8,262.4 L-360.6,265.6 L-358.3,268.8 L-356.0,272.0 L-353.7,275.1 L-351.3,278.2 L-348.9,281.4 L-346.5,284.4 L-344.1,287.5 L-341.6,290.5 L-339.1,293.6 L-336.6,296.6 L-334.1,299.5 L-331.5,302.5 L-328.9,305.4 L-326.3,308.3 L-323.6,311.2 L-320.9,314.1 L-318.2,316.9 L-315.5,319.7 L-312.7,322.5 L-309.9,325.3 L-307.1,328.0 L-304.3,330.7 L-301.5,333.4 L-298.6,336.1 L-295.7,338.7 L-292.8,341.4 L-289.8,344.0 L-286.9,346.5 L-283.9,349.1 L-280.9,351.6 L-277.9,354.1 L-274.8,356.6 L-271.7,359.0 L-268.6,361.5 L-265.5,363.9 L-262.4,366.2 L-259.2,368.6 L-256.0,370.9 L-252.8,373.2 L-249.6,375.4 L-246.4,377.6 L-243.1,379.8 L-239.8,382.0 L-236.5,384.1 L-233.2,386.2 L-229.8,388.3 L-226.5,390.4 L-223.1,392.4 L-219.7,394.4 L-216.2,396.3 L-212.8,398.2 L-209.3,400.1 L-205.9,402.0 L-202.4,403.8 L-198.8,405.5 L-195.3,407.3 L-191.8,409.0 L-188.2,410.7 L-184.6,412.3 L-181.0,413.9 L-177.4,415.5 L-173.8,417.0 L-170.1,418.5 L-166.4,420.0 L-162.7,421.3 L-159.0,422.6 L-155.3,423.8 L-151.5,425.0 L-147.7,426.1 L-143.9,427.1 L-140.1,428.1 L-136.3,429.1 L-132.4,429.9 L-128.6,430.7 L-124.7,431.5 L-120.8,432.2 L-117.0,432.9 L-113.1,433.5 L-109.2,434.1 L-105.3,434.6 L-101.4,435.1 L-97.5,435.5 L-93.6,435.9 L-89.7,436.3 L-85.8,436.6 L-81.9,436.9 L-78.0,437.1 L-74.1,437.4 L-70.2,437.6 L-66.3,437.7 L-62.5,437.9 L-58.6,438.0 L-54.7,438.1 L-50.8,438.2 L-47.0,438.2 L-43.1,438.3 L-39.3,438.3 L-35.4,438.3 L-31.6,438.4 L-27.7,438.4 L-23.9,438.4 L-20.1,438.3 L-16.2,438.3 L-12.4,438.3 L-8.6,438.3 L-4.7,438.3 L-0.9,438.3 L2.9,438.3 L6.7,438.3 L10.6,438.2 L14.4,438.1 L18.2,438.0 L22.0,437.8 L25.9,437.6 L29.7,437.4 L33.5,437.2 L37.3,436.9 L41.1,436.6 L44.9,436.2 L48.7,435.9 L52.6,435.5 L56.4,435.1 L60.2,434.6 L64.0,434.1 L67.8,433.6 L71.5,433.1 L75.3,432.5 L79.1,431.9 L82.9,431.2 L86.7,430.6 L90.4,429.9 L94.2,429.1 L98.0,428.4 L101.7,427.6 L105.5,426.8 L109.2,425.9 L112.9,425.0 L116.7,424.1 L120.4,423.2 L124.1,422.2 L127.8,421.2 L131.5,420.1 L135.2,419.1 L138.9,418.0 L142.6,416.8 L146.2,415.7 L149.9,414.5 L153.5,413.2 L157.2,412.0 L160.8,410.7 L164.4,409.4 L168.0,408.0 L171.6,406.7 L175.2,405.3 L178.8,403.9 L182.4,402.5 L186.0,401.0 L189.6,399.6 L193.1,398.1 L196.7,396.6 L200.3,395.1 L203.9,393.6 L207.4,392.1 L211.0,390.5 L214.5,388.9 L218.1,387.3 L221.6,385.7 L225.1,384.0 L228.7,382.4 L232.2,380.7 L235.7,378.9 L239.2,377.2 L242.7,375.4 L246.2,373.6 L249.6,371.7 L253.1,369.9 L256.5,368.0 L260.0,366.1 L263.4,364.1 L266.8,362.1 L270.2,360.1 L273.6,358.1 L276.9,356.0 L280.3,353.9 L283.6,351.7 L286.9,349.5 L290.2,347.3 L293.5,345.1 L296.7,342.8 L299.9,340.5 L303.2,338.1 L306.3,335.7 L309.5,333.3 L312.6,330.8 L315.7,328.3 L318.8,325.8 L321.9,323.2 L324.9,320.6 L327.9,318.0 L330.9,315.3 L333.8,312.6 L336.8,309.9 L339.7,307.2 L342.6,304.4 L345.5,301.6 L348.4,298.8 L351.2,295.9 L354.0,293.1 L356.8,290.2 L359.6,287.2 L362.3,284.3 L365.0,281.3 L367.7,278.3 L370.4,275.3 L373.0,272.2 L375.7,269.1 L378.2,266.0 L380.8,262.9 L383.3,259.7 L385.8,256.5 L388.3,253.3 L390.8,250.1 L393.2,246.8 L395.6,243.5 L397.9,240.2 L400.2,236.9 L402.5,233.5 L404.8,230.1 L407.0,226.7 L409.2,223.3 L411.3,219.8 L413.5,216.3 L415.5,212.8 L417.6,209.3 L419.6,205.7 L421.6,202.2 L423.5,198.6 L425.4,194.9 L427.3,191.3 L429.1,187.6 L430.9,184.0 L432.6,180.2 L434.3,176.5 L436.0,172.8 L437.6,169.0 L439.2,165.3 L440.8,161.5 L442.3,157.7 L443.8,153.8 L445.3,150.0 L446.7,146.2 L448.1,142.3 L449.4,138.4 L450.7,134.5 L452.0,130.6 L453.3,126.7 L454.5,122.8 L455.6,118.8 L456.8,114.9 L457.9,110.9 L458.9,107.0 L460.0,103.0 L461.0,99.0 L461.9,95.0 L462.8,91.0 L463.7,86.9 L464.5,82.9 L465.4,78.9 L466.1,74.8 L466.9,70.8 L467.6,66.7 L468.2,62.6 L468.8,58.6 L469.4,54.5 L470.0,50.4 L470.5,46.3 L470.9,42.2 L471.4,38.1 L471.8,34.0 L472.1,29.9 L472.4,25.7 L472.7,21.6 L473.0,17.5 L473.2,13.4 L473.4,9.2 L473.5,5.1 L473.6,1.0 L473.6,-3.1 L473.7,-7.3 L473.7,-11.4 L473.6,-15.6 L473.5,-19.7 L473.4,-23.8 L473.2,-28.0 L473.1,-32.1 L472.8,-36.2 L472.6,-40.4 L472.3,-44.5 L471.9,-48.6 L471.5,-52.7 L471.1,-56.9 L470.7,-61.0 L470.2,-65.1 L469.6,-69.2 L469.1,-73.3 L468.5,-77.4 L467.8,-81.5 L467.1,-85.6 L466.4,-89.7 L465.6,-93.7 L464.8,-97.8 L464.0,-101.9 L463.1,-105.9 L462.2,-109.9 L461.2,-114.0 L460.2,-118.0 L459.2,-122.0 L457.4,-125.8 L455.0,-129.4 L452.1,-132.9 L449.3,-136.3 L445.8,-139.5 L441.9,-142.6 L438.5,-145.7 L436.5,-149.3 L435.5,-153.2 L435.0,-157.3 L434.7,-161.5 L434.4,-165.7 L434.0,-169.9 L433.4,-174.0 L432.3,-178.0 L430.7,-181.8 L429.2,-185.5 L427.6,-189.3 L425.9,-193.0 L424.2,-196.7 L422.4,-200.4 L420.6,-204.1 L418.8,-207.7 L416.9,-211.3 L414.9,-214.9 L413.0,-218.5 L410.9,-222.0 L408.9,-225.5 L406.8,-229.0 L404.6,-232.5 L402.4,-235.9 L400.2,-239.3 L397.9,-242.7 L395.7,-246.1 L393.3,-249.4 L391.0,-252.8 L388.6,-256.1 L386.2,-259.3 L383.7,-262.6 L381.3,-265.8 L378.8,-269.0 L376.3,-272.2 L373.7,-275.3 L371.1,-278.5 L368.5,-281.6 L365.9,-284.7 L363.3,-287.7 L360.6,-290.8 L358.0,-293.8 L355.3,-296.8 L352.5,-299.8 L349.8,-302.8 L347.1,-305.8 L344.3,-308.7 L341.5,-311.6 L338.7,-314.6 L335.9,-317.5 L333.1,-320.3 L330.3,-323.2 L327.4,-326.1 L324.6,-328.9 L321.7,-331.7 L318.8,-334.5 L315.9,-337.3 L312.9,-340.1 L310.0,-342.8 L307.0,-345.5 L304.0,-348.2 L300.9,-350.9 L297.9,-353.5 L294.8,-356.1 L291.7,-358.7 L288.6,-361.3 L285.5,-363.8 L282.3,-366.3 L279.1,-368.8 L275.9,-371.3 L272.7,-373.7 L269.5,-376.1 L266.2,-378.5 L262.9,-380.9 L259.6,-383.2 L256.3,-385.5 L253.0,-387.8 L249.6,-390.0 L246.3,-392.3 L242.9,-394.5 L239.4,-396.6 L236.0,-398.8 L232.6,-400.9 L229.1,-403.0 L225.6,-405.0 L222.1,-407.0 L218.6,-409.0 L215.0,-411.0 L211.5,-412.9 L207.9,-414.8 L204.3,-416.7 L200.7,-418.5 L197.1,-420.3 L193.4,-422.1 L189.8,-423.8 L186.1,-425.5 L182.4,-427.2 L178.7,-428.8 L175.0,-430.5 L171.2,-432.0 L167.5,-433.6 L163.7,-435.1 L160.0,-436.7 L156.2,-438.1 L152.4,-439.6 L148.6,-441.0 L144.8,-442.4 L140.9,-443.8 L137.1,-445.1 L133.2,-446.4 L129.4,-447.7 L125.5,-448.9 L121.6,-450.2 L117.7,-451.3 L113.8,-452.5 L109.9,-453.6 L106.0,-454.7 L102.0,-455.7 L98.1,-456.8 L94.1,-457.7 L90.1,-458.7 L86.2,-459.6 L82.2,-460.5 L78.2,-461.3 L74.2,-462.1 L70.2,-462.8 L66.1,-463.6 L62.1,-464.2 L58.1,-464.9 L54.0,-465.5 L50.0,-466.0 L45.9,-466.6 L41.8,-467.0 L37.8,-467.5 L33.7,-467.9 L29.6,-468.2 L25.5,-468.5 L21.4,-468.8 L17.4,-469.0 L13.3,-469.2 L9.2,-469.3 L5.1,-469.4 L1.0,-469.4 L-3.1,-469.4 L-7.2,-469.3 L-11.3,-469.2 L-15.4,-469.1 L-19.5,-468.9 L-23.6,-468.7 L-27.7,-468.5 L-31.8,-468.2 L-35.8,-467.9 L-39.9,-467.5 L-44.0,-467.1 L-48.1,-466.6 L-52.1,-466.2 L-56.2,-465.6 L-60.2,-465.1 L-64.3,-464.5 L-68.3,-463.8 L-72.4,-463.2 L-76.4,-462.5 L-80.4,-461.7 L-84.4,-460.9 L-88.4,-460.1 L-92.4,-459.3 L-96.4,-458.4 L-100.4,-457.5 L-104.4,-456.5 L-108.4,-455.5 L-112.3,-454.5 L-116.3,-453.4 L-120.2,-452.3 L-124.1,-451.2 L-128.0,-450.0 L-131.9,-448.8 L-135.8,-447.6 L-139.7,-446.3 L-143.6,-445.1 L-147.4,-443.7 L-151.3,-442.4 L-155.1,-441.0 L-159.0,-439.6 L-162.8,-438.1 L-166.6,-436.6 L-170.4,-435.1 L-174.1,-433.6 L-177.9,-432.0 L-181.6,-430.4 L-185.4,-428.8 L-189.1,-427.1 L-192.8,-425.4 L-196.5,-423.7 L-200.2,-422.0 L-203.8,-420.2 L-207.5,-418.4 L-211.1,-416.5 L-214.7,-414.6 L-218.3,-412.7 L-221.9,-410.8 L-225.5,-408.8 L-229.0,-406.8 L-232.6,-404.8 L-236.1,-402.7 L-239.6,-400.6 L-243.0,-398.4 L-246.5,-396.3 L-249.9,-394.1 L-253.3,-391.9 L-254.0,-391.4 L-268.1,-378.7 L-287.7,-356.2 L-307.2,-331.7 L-326.8,-309.2 L-336.6,-287.7 L-346.4,-263.2 L-356.2,-238.7 L-363.1,-235.3 L-367.0,-220.6 L-370.9,-205.9 L-374.8,-191.3 L-377.8,-176.6 L-379.7,-166.8 L-383.6,-158.0 L-391.5,-150.2 L-401.3,-145.3 L-415.9,-143.8 L-435.5,-144.8 L-451.2,-144.3 L-458.0,-141.4 L-460.9,-136.5 L-461.9,-129.6 L-460.0,-122.8 L-455.1,-113.0 L-447.2,-105.2 L-441.4,-96.4 L-439.4,-83.6 L-441.4,-69.0 L-443.3,-59.3Z" fill="#f2704c"/>
<path d="M-417.9,-59.3 L-418.3,-55.6 L-418.6,-52.0 L-419.0,-48.3 L-419.3,-44.6 L-419.5,-41.0 L-419.7,-37.3 L-419.9,-33.6 L-420.1,-29.9 L-420.2,-26.3 L-420.4,-22.6 L-420.4,-18.9 L-420.5,-15.2 L-420.5,-11.6 L-420.5,-7.9 L-420.5,-4.2 L-420.5,-0.6 L-420.5,3.1 L-420.4,6.8 L-420.2,10.4 L-420.1,14.1 L-419.9,17.8 L-419.7,21.4 L-419.5,25.1 L-419.2,28.8 L-418.9,32.4 L-418.6,36.1 L-418.2,39.7 L-417.8,43.3 L-417.4,47.0 L-416.9,50.6 L-416.4,54.3 L-415.9,57.9 L-415.3,61.5 L-414.8,65.1 L-414.1,68.7 L-413.5,72.3 L-412.8,75.9 L-412.1,79.5 L-411.4,83.1 L-410.6,86.7 L-409.8,90.3 L-409.0,93.9 L-408.1,97.4 L-407.3,101.0 L-406.3,104.5 L-405.4,108.0 L-404.4,111.6 L-403.4,115.1 L-402.4,118.6 L-401.3,122.1 L-400.2,125.6 L-399.1,129.1 L-397.9,132.6 L-396.8,136.0 L-395.6,139.5 L-394.3,142.9 L-393.0,146.4 L-391.7,149.8 L-390.4,153.2 L-389.1,156.6 L-387.7,160.0 L-386.3,163.4 L-384.9,166.7 L-383.4,170.1 L-382.0,173.5 L-380.6,176.8 L-379.1,180.2 L-377.6,183.6 L-376.1,186.9 L-374.6,190.3 L-373.1,193.6 L-371.6,196.9 L-370.0,200.3 L-368.4,203.6 L-366.8,206.9 L-365.2,210.2 L-363.5,213.5 L-361.9,216.8 L-360.2,220.1 L-358.4,223.3 L-356.7,226.6 L-354.9,229.8 L-353.1,233.0 L-351.3,236.3 L-349.4,239.5 L-347.5,242.6 L-345.6,245.8 L-343.6,249.0 L-341.7,252.1 L-339.6,255.2 L-337.6,258.3 L-335.5,261.4 L-333.4,264.4 L-331.2,267.5 L-329.0,270.5 L-326.8,273.5 L-324.5,276.4 L-322.2,279.3 L-319.9,282.2 L-317.5,285.1 L-315.1,287.9 L-312.6,290.7 L-310.1,293.5 L-307.6,296.2 L-305.0,298.9 L-302.4,301.6 L-299.8,304.2 L-297.1,306.8 L-294.4,309.4 L-291.7,312.0 L-289.0,314.5 L-286.2,317.0 L-283.4,319.5 L-280.6,321.9 L-277.8,324.4 L-274.9,326.8 L-272.1,329.2 L-269.2,331.5 L-266.3,333.8 L-263.3,336.1 L-260.4,338.4 L-257.4,340.7 L-254.4,342.9 L-251.4,345.1 L-248.4,347.2 L-245.3,349.4 L-242.3,351.5 L-239.2,353.6 L-236.1,355.6 L-232.9,357.7 L-229.8,359.7 L-226.6,361.6 L-223.5,363.6 L-220.3,365.5 L-217.1,367.4 L-213.8,369.2 L-210.6,371.1 L-207.3,372.9 L-204.1,374.6 L-200.8,376.4 L-197.5,378.1 L-194.1,379.8 L-190.8,381.4 L-187.5,383.0 L-184.1,384.6 L-180.7,386.2 L-177.3,387.7 L-173.9,389.2 L-170.5,390.7 L-167.1,392.1 L-163.6,393.5 L-160.2,394.9 L-156.7,396.2 L-153.2,397.5 L-149.7,398.7 L-146.2,399.9 L-142.6,401.0 L-139.1,402.1 L-135.5,403.2 L-131.9,404.1 L-128.3,405.1 L-124.7,406.0 L-121.1,406.9 L-117.5,407.7 L-113.9,408.4 L-110.2,409.2 L-106.6,409.9 L-102.9,410.5 L-99.3,411.2 L-95.6,411.7 L-92.0,412.3 L-88.3,412.8 L-84.7,413.3 L-81.0,413.7 L-77.3,414.2 L-73.7,414.6 L-70.0,414.9 L-66.3,415.2 L-62.7,415.6 L-59.0,415.8 L-55.3,416.1 L-51.7,416.3 L-48.0,416.5 L-44.4,416.7 L-40.7,416.9 L-37.0,417.0 L-33.4,417.1 L-29.7,417.2 L-26.1,417.3 L-22.4,417.4 L-18.8,417.5 L-15.1,417.5 L-11.5,417.6 L-7.8,417.6 L-4.2,417.6 L-0.6,417.6 L3.1,417.6 L6.7,417.6 L10.4,417.5 L14.0,417.4 L17.7,417.3 L21.3,417.2 L24.9,417.0 L28.6,416.8 L32.2,416.6 L35.9,416.4 L39.5,416.1 L43.1,415.8 L46.8,415.5 L50.4,415.1 L54.0,414.7 L57.7,414.3 L61.3,413.9 L64.9,413.4 L68.5,412.9 L72.2,412.4 L75.8,411.9 L79.4,411.3 L83.0,410.7 L86.6,410.0 L90.2,409.4 L93.8,408.7 L97.4,407.9 L100.9,407.2 L104.5,406.4 L108.1,405.5 L111.7,404.7 L115.2,403.8 L118.8,402.9 L122.3,401.9 L125.8,401.0 L129.4,400.0 L132.9,398.9 L136.4,397.8 L139.9,396.7 L143.4,395.6 L146.9,394.4 L150.3,393.2 L153.8,392.0 L157.3,390.7 L160.7,389.4 L164.1,388.1 L167.5,386.7 L171.0,385.3 L174.3,383.9 L177.7,382.5 L181.1,381.0 L184.5,379.5 L187.8,377.9 L191.1,376.4 L194.5,374.8 L197.8,373.1 L201.1,371.5 L204.3,369.8 L207.6,368.1 L210.8,366.3 L214.1,364.5 L217.3,362.7 L220.5,360.9 L223.7,359.1 L226.9,357.2 L230.0,355.3 L233.2,353.3 L236.3,351.4 L239.4,349.4 L242.5,347.4 L245.6,345.3 L248.7,343.2 L251.7,341.1 L254.8,339.0 L257.8,336.9 L260.8,334.7 L263.8,332.5 L266.7,330.3 L269.7,328.0 L272.6,325.7 L275.5,323.4 L278.4,321.1 L281.3,318.8 L284.1,316.4 L287.0,314.0 L289.8,311.6 L292.6,309.2 L295.4,306.7 L298.1,304.2 L300.9,301.7 L303.6,299.2 L306.3,296.6 L309.0,294.0 L311.7,291.4 L314.4,288.8 L317.0,286.2 L319.6,283.5 L322.2,280.9 L324.8,278.2 L327.4,275.5 L330.0,272.7 L332.5,270.0 L335.0,267.2 L337.5,264.4 L340.0,261.6 L342.4,258.8 L344.9,255.9 L347.3,253.0 L349.7,250.1 L352.1,247.2 L354.4,244.3 L356.7,241.3 L359.0,238.3 L361.3,235.3 L363.6,232.3 L365.8,229.2 L368.0,226.2 L370.2,223.1 L372.3,220.0 L374.4,216.9 L376.5,213.7 L378.6,210.5 L380.7,207.3 L382.7,204.1 L384.7,200.9 L386.6,197.6 L388.5,194.4 L390.4,191.1 L392.3,187.8 L394.1,184.4 L395.9,181.1 L397.7,177.7 L399.5,174.3 L401.2,170.9 L402.8,167.5 L404.5,164.0 L406.1,160.6 L407.7,157.1 L409.3,153.6 L410.8,150.1 L412.3,146.6 L413.8,143.1 L415.3,139.6 L416.7,136.0 L418.1,132.5 L419.5,128.9 L420.9,125.3 L422.2,121.7 L423.5,118.1 L424.8,114.4 L426.0,110.8 L427.2,107.1 L428.4,103.4 L429.5,99.8 L430.6,96.1 L431.7,92.4 L432.7,88.6 L433.7,84.9 L434.6,81.2 L435.5,77.4 L436.4,73.6 L437.3,69.9 L438.1,66.1 L438.8,62.3 L439.5,58.5 L440.2,54.6 L440.9,50.8 L441.4,47.0 L442.0,43.2 L442.5,39.3 L443.0,35.5 L443.4,31.6 L443.7,27.7 L444.1,23.9 L444.3,20.0 L444.6,16.1 L444.8,12.2 L444.9,8.4 L445.0,4.5 L445.0,0.6 L445.0,-3.3 L444.9,-7.2 L444.9,-11.1 L444.7,-14.9 L444.6,-18.8 L444.4,-22.7 L444.2,-26.6 L444.0,-30.5 L443.7,-34.3 L443.4,-38.2 L443.0,-42.1 L442.6,-45.9 L442.2,-49.8 L441.8,-53.6 L441.3,-57.5 L440.8,-61.3 L440.2,-65.2 L439.6,-69.0 L439.0,-72.9 L438.3,-76.7 L437.7,-80.5 L436.9,-84.3 L436.2,-88.1 L435.4,-91.9 L433.7,-95.5 L430.3,-98.7 L426.7,-101.8 L424.2,-105.2 L422.2,-108.6 L420.2,-112.0 L418.5,-115.5 L417.0,-119.0 L415.8,-122.6 L415.0,-126.3 L414.6,-130.1 L414.4,-134.0 L414.5,-138.1 L414.9,-142.2 L417.9,-147.4 L418.3,-151.6 L417.6,-155.5 L416.8,-159.4 L415.7,-163.1 L414.5,-166.8 L413.1,-170.5 L411.5,-174.0 L409.5,-177.4 L407.2,-180.6 L404.8,-183.8 L402.4,-187.0 L400.1,-190.2 L398.1,-193.5 L396.1,-196.8 L394.1,-200.1 L392.1,-203.4 L390.0,-206.7 L388.0,-210.0 L385.9,-213.2 L383.8,-216.5 L381.7,-219.7 L379.5,-222.9 L377.4,-226.1 L375.2,-229.2 L373.0,-232.4 L370.8,-235.5 L368.5,-238.6 L366.2,-241.7 L364.0,-244.8 L361.7,-247.8 L359.3,-250.9 L357.0,-253.9 L354.6,-256.9 L352.2,-259.9 L349.8,-262.9 L347.4,-265.9 L345.0,-268.8 L342.5,-271.7 L340.1,-274.6 L337.6,-277.5 L335.0,-280.4 L332.5,-283.2 L330.0,-286.1 L327.4,-288.9 L324.8,-291.7 L322.2,-294.5 L319.6,-297.3 L317.0,-300.0 L314.3,-302.7 L311.7,-305.5 L309.0,-308.2 L306.3,-310.9 L303.6,-313.5 L300.8,-316.2 L298.1,-318.8 L295.3,-321.4 L292.5,-324.0 L289.7,-326.6 L286.9,-329.1 L284.0,-331.7 L281.2,-334.2 L278.3,-336.7 L275.4,-339.1 L272.5,-341.6 L269.5,-344.0 L266.6,-346.4 L263.6,-348.8 L260.6,-351.2 L257.6,-353.5 L254.5,-355.8 L251.5,-358.1 L248.4,-360.4 L245.3,-362.6 L242.2,-364.8 L239.0,-367.0 L235.9,-369.2 L232.7,-371.3 L229.5,-373.4 L226.3,-375.5 L223.1,-377.6 L219.8,-379.6 L216.6,-381.6 L213.3,-383.6 L210.0,-385.5 L206.7,-387.4 L203.3,-389.3 L200.0,-391.2 L196.6,-393.0 L193.2,-394.8 L189.8,-396.6 L186.4,-398.3 L182.9,-400.0 L179.5,-401.7 L176.0,-403.3 L172.5,-404.9 L169.0,-406.5 L165.5,-408.0 L161.9,-409.5 L158.4,-411.0 L154.8,-412.4 L151.3,-413.8 L147.7,-415.2 L144.1,-416.6 L140.5,-417.9 L136.8,-419.2 L133.2,-420.5 L129.6,-421.7 L125.9,-423.0 L122.2,-424.1 L118.6,-425.3 L114.9,-426.4 L111.2,-427.5 L107.5,-428.5 L103.7,-429.6 L100.0,-430.5 L96.3,-431.5 L92.5,-432.4 L88.8,-433.3 L85.0,-434.1 L81.2,-435.0 L77.4,-435.7 L73.6,-436.5 L69.8,-437.2 L66.0,-437.9 L62.2,-438.5 L58.4,-439.1 L54.6,-439.7 L50.7,-440.2 L46.9,-440.7 L43.1,-441.1 L39.2,-441.6 L35.4,-441.9 L31.5,-442.3 L27.7,-442.6 L23.8,-442.8 L19.9,-443.1 L16.1,-443.3 L12.2,-443.4 L8.3,-443.5 L4.5,-443.6 L0.6,-443.6 L-3.3,-443.6 L-7.2,-443.5 L-11.0,-443.5 L-14.9,-443.3 L-18.8,-443.2 L-22.6,-443.0 L-26.5,-442.8 L-30.4,-442.5 L-34.2,-442.2 L-38.1,-441.9 L-41.9,-441.5 L-45.8,-441.1 L-49.6,-440.7 L-53.5,-440.3 L-57.3,-439.8 L-61.1,-439.2 L-65.0,-438.6 L-68.8,-438.0 L-72.6,-437.4 L-76.4,-436.7 L-80.2,-436.0 L-84.0,-435.3 L-87.8,-434.5 L-91.6,-433.7 L-95.4,-432.9 L-99.1,-432.0 L-102.9,-431.1 L-106.6,-430.1 L-110.4,-429.1 L-114.1,-428.1 L-117.8,-427.1 L-121.5,-426.0 L-125.2,-424.9 L-128.9,-423.7 L-132.6,-422.6 L-136.3,-421.3 L-139.9,-420.1 L-143.6,-418.8 L-147.2,-417.5 L-150.8,-416.2 L-154.5,-414.8 L-158.0,-413.4 L-161.6,-411.9 L-165.2,-410.5 L-168.8,-409.0 L-172.3,-407.4 L-175.8,-405.8 L-179.3,-404.1 L-182.7,-402.3 L-186.1,-400.5 L-189.5,-398.7 L-192.8,-396.7 L-196.2,-394.8 L-199.4,-392.7 L-202.7,-390.7 L-205.9,-388.6 L-209.1,-386.4 L-212.3,-384.2 L-215.5,-382.0 L-218.6,-379.8 L-221.7,-377.5 L-224.8,-375.2 L-227.8,-372.9 L-230.9,-370.6 L-233.9,-368.2 L-236.9,-365.9 L-239.9,-363.5 L-242.9,-361.1 L-245.9,-358.7 L-248.8,-356.4 L-251.8,-354.0 L-254.0,-352.2 L-277.9,-326.8 L-297.4,-302.3 L-312.1,-282.8 L-326.8,-258.3 L-341.5,-233.9 L-346.5,-220.6 L-349.4,-205.9 L-352.3,-191.3 L-357.2,-176.6 L-363.1,-167.8 L-369.0,-160.9 L-376.8,-154.1 L-381.7,-150.2 L-388.5,-138.4 L-396.4,-133.5 L-411.0,-134.5 L-425.7,-136.5 L-436.5,-136.5 L-439.4,-131.6 L-439.4,-127.7 L-435.5,-121.8 L-429.6,-115.9 L-419.9,-112.0 L-417.9,-103.2 L-415.9,-88.5 L-416.9,-73.9 L-417.9,-59.3Z" fill="#fc8c59"/>
<path d="M-390.5,-59.3 L-391.0,-55.9 L-391.5,-52.5 L-392.0,-49.1 L-392.5,-45.7 L-392.9,-42.2 L-393.4,-38.8 L-393.8,-35.4 L-394.1,-32.0 L-394.5,-28.5 L-394.8,-25.1 L-395.1,-21.6 L-395.4,-18.2 L-395.6,-14.7 L-395.7,-11.3 L-395.9,-7.8 L-396.0,-4.4 L-396.0,-0.9 L-396.0,2.5 L-395.9,6.0 L-395.9,9.4 L-395.8,12.9 L-395.6,16.3 L-395.4,19.8 L-395.2,23.2 L-395.0,26.7 L-394.7,30.1 L-394.4,33.6 L-394.0,37.0 L-393.6,40.4 L-393.2,43.9 L-392.8,47.3 L-392.3,50.7 L-391.8,54.1 L-391.2,57.5 L-390.7,60.9 L-390.1,64.3 L-389.4,67.7 L-388.8,71.1 L-388.1,74.5 L-387.3,77.9 L-386.6,81.2 L-385.8,84.6 L-385.0,87.9 L-384.2,91.3 L-383.3,94.6 L-382.4,97.9 L-381.5,101.3 L-380.5,104.6 L-379.5,107.9 L-378.5,111.2 L-377.5,114.4 L-376.5,117.7 L-375.4,121.0 L-374.3,124.3 L-373.1,127.5 L-372.0,130.7 L-370.8,134.0 L-369.6,137.2 L-368.4,140.4 L-367.1,143.6 L-365.8,146.8 L-364.5,150.0 L-363.2,153.2 L-361.9,156.4 L-360.6,159.5 L-359.2,162.7 L-357.9,165.9 L-356.5,169.0 L-355.2,172.2 L-353.8,175.4 L-352.4,178.5 L-351.0,181.7 L-349.6,184.8 L-348.1,188.0 L-346.7,191.1 L-345.2,194.2 L-343.7,197.4 L-342.2,200.5 L-340.7,203.6 L-339.1,206.7 L-337.5,209.8 L-335.9,212.9 L-334.3,216.0 L-332.6,219.0 L-330.9,222.1 L-329.2,225.1 L-327.5,228.2 L-325.7,231.2 L-323.9,234.2 L-322.1,237.2 L-320.2,240.1 L-318.3,243.1 L-316.4,246.0 L-314.4,248.9 L-312.4,251.8 L-310.4,254.6 L-308.3,257.5 L-306.2,260.3 L-304.0,263.0 L-301.9,265.8 L-299.6,268.5 L-297.4,271.2 L-295.1,273.9 L-292.7,276.5 L-290.4,279.1 L-287.9,281.6 L-285.5,284.2 L-283.0,286.6 L-280.5,289.1 L-277.9,291.5 L-275.4,293.9 L-272.8,296.3 L-270.1,298.6 L-267.5,300.9 L-264.8,303.2 L-262.1,305.4 L-259.4,307.6 L-256.6,309.8 L-253.9,312.0 L-251.1,314.1 L-248.2,316.2 L-245.4,318.3 L-242.6,320.3 L-239.7,322.3 L-236.8,324.3 L-233.9,326.3 L-231.0,328.2 L-228.0,330.1 L-225.0,332.0 L-222.1,333.8 L-219.1,335.6 L-216.1,337.4 L-213.0,339.1 L-210.0,340.9 L-206.9,342.6 L-203.9,344.2 L-200.8,345.9 L-197.7,347.5 L-194.6,349.1 L-191.5,350.6 L-188.3,352.2 L-185.2,353.7 L-182.0,355.2 L-178.9,356.6 L-175.7,358.1 L-172.5,359.5 L-169.3,360.8 L-166.1,362.2 L-162.9,363.5 L-159.7,364.8 L-156.4,366.1 L-153.2,367.4 L-149.9,368.6 L-146.7,369.8 L-143.4,371.0 L-140.1,372.1 L-136.8,373.2 L-133.5,374.3 L-130.2,375.3 L-126.9,376.4 L-123.6,377.3 L-120.3,378.3 L-116.9,379.2 L-113.6,380.1 L-110.2,381.0 L-106.8,381.8 L-103.5,382.6 L-100.1,383.4 L-96.7,384.1 L-93.3,384.8 L-90.0,385.5 L-86.6,386.2 L-83.2,386.8 L-79.8,387.4 L-76.4,388.0 L-73.0,388.5 L-69.5,389.1 L-66.1,389.5 L-62.7,390.0 L-59.3,390.4 L-55.9,390.9 L-52.4,391.2 L-49.0,391.6 L-45.6,391.9 L-42.2,392.2 L-38.7,392.5 L-35.3,392.8 L-31.9,393.0 L-28.4,393.2 L-25.0,393.4 L-21.6,393.5 L-18.1,393.7 L-14.7,393.8 L-11.2,393.9 L-7.8,393.9 L-4.4,394.0 L-0.9,394.0 L2.5,394.0 L5.9,394.0 L9.4,393.9 L12.8,393.8 L16.3,393.7 L19.7,393.6 L23.1,393.5 L26.6,393.3 L30.0,393.1 L33.4,392.9 L36.9,392.6 L40.3,392.4 L43.7,392.1 L47.2,391.7 L50.6,391.4 L54.0,391.0 L57.4,390.6 L60.9,390.2 L64.3,389.7 L67.7,389.2 L71.1,388.7 L74.5,388.1 L77.9,387.6 L81.3,387.0 L84.7,386.3 L88.1,385.6 L91.5,384.9 L94.8,384.2 L98.2,383.5 L101.6,382.7 L104.9,381.8 L108.3,381.0 L111.6,380.1 L114.9,379.2 L118.3,378.2 L121.6,377.2 L124.9,376.2 L128.2,375.1 L131.5,374.0 L134.7,372.9 L138.0,371.7 L141.2,370.6 L144.5,369.3 L147.7,368.1 L150.9,366.8 L154.1,365.4 L157.3,364.1 L160.5,362.7 L163.6,361.3 L166.8,359.8 L169.9,358.4 L173.0,356.9 L176.1,355.3 L179.2,353.8 L182.3,352.2 L185.4,350.6 L188.4,349.0 L191.5,347.3 L194.5,345.6 L197.5,343.9 L200.5,342.2 L203.5,340.4 L206.4,338.6 L209.4,336.8 L212.3,335.0 L215.2,333.1 L218.1,331.2 L221.0,329.3 L223.9,327.4 L226.7,325.4 L229.5,323.4 L232.4,321.4 L235.2,319.4 L237.9,317.3 L240.7,315.2 L243.4,313.1 L246.2,311.0 L248.9,308.8 L251.5,306.6 L254.2,304.4 L256.9,302.2 L259.5,299.9 L262.1,297.7 L264.7,295.4 L267.3,293.0 L269.8,290.7 L272.3,288.3 L274.8,285.9 L277.3,283.5 L279.8,281.1 L282.2,278.7 L284.7,276.2 L287.1,273.7 L289.5,271.3 L292.0,268.8 L294.4,266.3 L296.8,263.9 L299.3,261.4 L301.7,258.9 L304.1,256.4 L306.5,253.8 L308.9,251.3 L311.2,248.8 L313.6,246.2 L316.0,243.6 L318.3,241.0 L320.6,238.4 L323.0,235.8 L325.3,233.2 L327.6,230.5 L329.8,227.8 L332.1,225.1 L334.3,222.4 L336.5,219.7 L338.7,216.9 L340.9,214.1 L343.0,211.3 L345.2,208.5 L347.3,205.7 L349.3,202.8 L351.4,199.9 L353.4,197.0 L355.4,194.0 L357.3,191.1 L359.3,188.1 L361.1,185.1 L363.0,182.0 L364.8,179.0 L366.6,175.9 L368.3,172.8 L370.0,169.7 L371.7,166.5 L373.3,163.3 L374.8,160.2 L376.4,156.9 L377.8,153.7 L379.3,150.4 L380.7,147.2 L382.1,143.9 L383.5,140.6 L384.8,137.3 L386.1,134.0 L387.4,130.6 L388.6,127.3 L389.8,123.9 L391.0,120.6 L392.2,117.2 L393.3,113.8 L394.4,110.4 L395.5,107.0 L396.5,103.5 L397.5,100.1 L398.5,96.7 L399.4,93.2 L400.3,89.7 L401.2,86.3 L402.0,82.8 L402.8,79.3 L403.6,75.8 L404.3,72.3 L405.1,68.8 L405.7,65.2 L406.4,61.7 L407.0,58.2 L407.5,54.6 L408.1,51.1 L408.6,47.5 L409.0,44.0 L409.5,40.4 L409.9,36.8 L410.2,33.3 L410.5,29.7 L410.8,26.1 L411.1,22.5 L411.3,18.9 L411.5,15.3 L411.6,11.7 L411.7,8.2 L411.8,4.6 L411.8,1.0 L411.8,-2.6 L411.7,-6.2 L411.5,-9.8 L411.2,-13.4 L410.9,-17.0 L410.5,-20.5 L410.0,-24.1 L409.5,-27.7 L408.9,-31.2 L408.3,-34.8 L407.6,-38.3 L406.9,-41.8 L406.2,-45.3 L405.4,-48.8 L404.6,-52.3 L403.7,-55.8 L402.9,-59.2 L402.0,-62.7 L401.1,-66.2 L400.2,-69.6 L399.4,-73.0 L398.5,-76.5 L397.6,-79.9 L396.7,-83.4 L395.9,-86.8 L395.0,-90.2 L394.3,-93.7 L394.0,-97.3 L394.3,-101.0 L394.7,-104.8 L395.1,-108.6 L395.1,-112.3 L394.5,-115.8 L393.5,-119.3 L392.6,-122.8 L391.6,-126.2 L390.5,-129.7 L389.5,-133.1 L388.3,-136.5 L387.2,-139.9 L386.0,-143.3 L384.8,-146.7 L383.5,-150.0 L382.2,-153.4 L380.8,-156.7 L379.4,-160.0 L378.0,-163.3 L376.6,-166.6 L375.1,-169.9 L373.5,-173.1 L372.0,-176.4 L370.4,-179.6 L368.8,-182.8 L367.1,-186.0 L365.4,-189.1 L363.7,-192.3 L361.9,-195.4 L360.1,-198.5 L358.3,-201.6 L356.5,-204.7 L354.6,-207.8 L352.7,-210.8 L350.8,-213.8 L348.8,-216.8 L346.8,-219.8 L344.8,-222.8 L342.8,-225.7 L340.7,-228.7 L338.6,-231.6 L336.5,-234.5 L334.4,-237.3 L332.2,-240.2 L330.0,-243.0 L327.8,-245.8 L325.6,-248.6 L323.4,-251.4 L321.1,-254.2 L318.8,-256.9 L316.5,-259.6 L314.1,-262.3 L311.8,-265.0 L309.4,-267.7 L307.0,-270.4 L304.6,-273.0 L302.2,-275.6 L299.8,-278.2 L297.3,-280.8 L294.8,-283.4 L292.3,-285.9 L289.8,-288.5 L287.3,-291.0 L284.8,-293.5 L282.2,-296.0 L279.6,-298.5 L277.1,-300.9 L274.5,-303.4 L271.9,-305.8 L269.2,-308.2 L266.6,-310.7 L263.9,-313.0 L261.3,-315.4 L258.6,-317.8 L255.9,-320.1 L253.1,-322.4 L250.4,-324.8 L247.6,-327.0 L244.9,-329.3 L242.1,-331.5 L239.3,-333.8 L236.4,-336.0 L233.6,-338.1 L230.7,-340.3 L227.8,-342.4 L224.9,-344.5 L222.0,-346.6 L219.0,-348.7 L216.0,-350.7 L213.1,-352.7 L210.0,-354.7 L207.0,-356.6 L204.0,-358.5 L200.9,-360.4 L197.8,-362.3 L194.7,-364.1 L191.6,-365.9 L188.4,-367.6 L185.2,-369.3 L182.0,-371.0 L178.8,-372.7 L175.6,-374.3 L172.4,-375.8 L169.1,-377.4 L165.8,-378.9 L162.5,-380.3 L159.2,-381.7 L155.8,-383.1 L152.5,-384.4 L149.1,-385.7 L145.7,-387.0 L142.3,-388.2 L138.9,-389.4 L135.5,-390.5 L132.1,-391.6 L128.6,-392.7 L125.2,-393.7 L121.7,-394.7 L118.2,-395.6 L114.7,-396.6 L111.2,-397.4 L107.7,-398.3 L104.2,-399.1 L100.7,-399.9 L97.2,-400.6 L93.6,-401.3 L90.1,-402.0 L86.6,-402.6 L83.0,-403.2 L79.5,-403.8 L75.9,-404.4 L72.4,-404.9 L68.8,-405.4 L65.3,-405.8 L61.7,-406.3 L58.1,-406.7 L54.6,-407.0 L51.0,-407.4 L47.4,-407.7 L43.9,-408.0 L40.3,-408.2 L36.7,-408.5 L33.1,-408.7 L29.6,-408.9 L26.0,-409.1 L22.4,-409.2 L18.8,-409.3 L15.3,-409.4 L11.7,-409.5 L8.1,-409.5 L4.5,-409.6 L1.0,-409.6 L-2.6,-409.6 L-6.2,-409.6 L-9.8,-409.5 L-13.3,-409.4 L-16.9,-409.3 L-20.5,-409.2 L-24.1,-409.0 L-27.6,-408.8 L-31.2,-408.6 L-34.8,-408.4 L-38.3,-408.1 L-41.9,-407.8 L-45.5,-407.5 L-49.0,-407.1 L-52.6,-406.7 L-56.1,-406.3 L-59.7,-405.9 L-63.2,-405.4 L-66.8,-404.9 L-70.3,-404.4 L-73.9,-403.8 L-77.4,-403.2 L-80.9,-402.6 L-84.5,-402.0 L-88.0,-401.3 L-91.5,-400.6 L-95.0,-399.8 L-98.5,-399.0 L-102.0,-398.2 L-105.5,-397.4 L-109.0,-396.5 L-112.4,-395.6 L-115.9,-394.7 L-119.3,-393.7 L-122.8,-392.7 L-126.2,-391.6 L-129.7,-390.6 L-133.1,-389.4 L-136.5,-388.3 L-139.9,-387.1 L-143.3,-385.9 L-146.6,-384.7 L-150.0,-383.4 L-153.3,-382.1 L-156.7,-380.7 L-160.0,-379.3 L-163.3,-377.9 L-166.5,-376.4 L-169.7,-374.8 L-172.9,-373.2 L-176.1,-371.5 L-179.3,-369.8 L-182.4,-368.0 L-185.5,-366.2 L-188.5,-364.3 L-191.6,-362.4 L-194.6,-360.4 L-197.6,-358.4 L-200.5,-356.4 L-203.4,-354.3 L-206.3,-352.2 L-209.2,-350.0 L-212.0,-347.9 L-214.9,-345.7 L-217.7,-343.4 L-220.4,-341.2 L-223.2,-338.9 L-225.9,-336.6 L-228.6,-334.3 L-231.3,-332.0 L-233.9,-329.6 L-236.6,-327.3 L-239.2,-324.9 L-241.8,-322.5 L-244.4,-320.1 L-247.0,-317.7 L-249.6,-315.3 L-252.1,-312.9 L-254.7,-310.4 L-257.2,-308.0 L-259.7,-305.6 L-262.3,-303.1 L-264.8,-300.7 L-267.3,-298.3 L-268.1,-297.5 L-285.0,-277.9 L-302.0,-253.4 L-318.1,-235.3 L-323.0,-220.6 L-327.9,-205.9 L-331.8,-191.3 L-337.7,-176.6 L-343.5,-164.8 L-351.4,-158.0 L-359.2,-149.2 L-367.0,-141.4 L-372.9,-133.5 L-373.9,-125.7 L-378.8,-117.9 L-385.6,-110.1 L-387.6,-103.2 L-386.6,-88.5 L-389.5,-73.9 L-390.5,-59.3Z" fill="#fdaf79"/>
<path d="M381.9,-0.0 L381.9,-3.3 L381.8,-6.7 L381.7,-10.0 L381.5,-13.3 L381.3,-16.6 L381.1,-20.0 L380.8,-23.3 L380.5,-26.6 L380.1,-29.9 L379.7,-33.2 L379.2,-36.5 L378.8,-39.8 L378.2,-43.1 L377.7,-46.4 L377.1,-49.6 L376.5,-52.9 L375.8,-56.2 L375.1,-59.4 L374.4,-62.7 L373.6,-65.9 L372.8,-69.1 L372.0,-72.3 L371.2,-75.5 L370.3,-78.7 L369.4,-81.9 L368.5,-85.1 L367.6,-88.2 L366.6,-91.4 L365.6,-94.6 L364.6,-97.7 L363.6,-100.8 L362.5,-103.9 L361.4,-107.1 L360.3,-110.2 L359.2,-113.3 L358.1,-116.4 L357.0,-119.4 L355.8,-122.5 L354.6,-125.6 L353.4,-128.6 L352.2,-131.7 L351.0,-134.7 L349.8,-137.8 L348.5,-140.8 L347.3,-143.9 L346.0,-146.9 L344.7,-149.9 L343.4,-152.9 L342.1,-155.9 L340.8,-158.9 L339.4,-161.9 L338.0,-164.9 L336.6,-167.8 L335.2,-170.8 L333.8,-173.8 L332.3,-176.7 L330.8,-179.6 L329.3,-182.6 L327.8,-185.5 L326.3,-188.4 L324.7,-191.3 L323.1,-194.1 L321.5,-197.0 L319.9,-199.9 L318.2,-202.7 L316.5,-205.6 L314.8,-208.4 L313.1,-211.2 L311.3,-214.0 L309.6,-216.8 L307.8,-219.5 L305.9,-222.3 L304.1,-225.0 L302.2,-227.7 L300.3,-230.4 L298.4,-233.1 L296.5,-235.8 L294.5,-238.5 L292.5,-241.1 L290.5,-243.7 L288.4,-246.3 L286.3,-248.9 L284.2,-251.5 L282.1,-254.0 L280.0,-256.5 L277.8,-259.0 L275.6,-261.5 L273.4,-264.0 L271.1,-266.4 L268.8,-268.8 L266.5,-271.2 L264.2,-273.6 L261.9,-276.0 L259.5,-278.3 L257.1,-280.6 L254.7,-282.9 L252.3,-285.2 L249.9,-287.5 L247.4,-289.7 L245.0,-291.9 L242.5,-294.1 L239.9,-296.3 L237.4,-298.4 L234.8,-300.6 L232.3,-302.7 L229.7,-304.8 L227.1,-306.8 L224.4,-308.9 L221.8,-310.9 L219.1,-312.9 L216.4,-314.9 L213.7,-316.8 L211.0,-318.7 L208.2,-320.6 L205.5,-322.5 L202.7,-324.4 L199.9,-326.2 L197.1,-328.0 L194.2,-329.7 L191.4,-331.5 L188.5,-333.2 L185.6,-334.9 L182.7,-336.5 L179.8,-338.2 L176.9,-339.8 L173.9,-341.3 L171.0,-342.9 L168.0,-344.4 L165.0,-345.9 L162.0,-347.3 L158.9,-348.7 L155.9,-350.1 L152.8,-351.5 L149.8,-352.8 L146.7,-354.1 L143.6,-355.4 L140.5,-356.6 L137.4,-357.8 L134.2,-359.0 L131.1,-360.1 L127.9,-361.2 L124.8,-362.3 L121.6,-363.4 L118.4,-364.4 L115.2,-365.4 L112.0,-366.3 L108.8,-367.3 L105.6,-368.1 L102.3,-369.0 L99.1,-369.8 L95.9,-370.6 L92.6,-371.4 L89.3,-372.2 L86.1,-372.9 L82.8,-373.5 L79.5,-374.2 L76.3,-374.8 L73.0,-375.4 L69.7,-375.9 L66.4,-376.5 L63.1,-377.0 L59.8,-377.4 L56.5,-377.9 L53.2,-378.3 L49.9,-378.7 L46.5,-379.0 L43.2,-379.3 L39.9,-379.6 L36.6,-379.9 L33.3,-380.1 L29.9,-380.3 L26.6,-380.5 L23.3,-380.6 L20.0,-380.7 L16.6,-380.8 L13.3,-380.9 L10.0,-380.9 L6.6,-380.9 L3.3,-380.9 L0.0,-380.8 L-3.3,-380.7 L-6.6,-380.6 L-10.0,-380.4 L-13.3,-380.3 L-16.6,-380.0 L-19.9,-379.8 L-23.2,-379.5 L-26.5,-379.2 L-29.8,-378.9 L-33.1,-378.5 L-36.4,-378.1 L-39.7,-377.7 L-43.0,-377.2 L-46.3,-376.7 L-49.5,-376.2 L-52.8,-375.7 L-56.1,-375.1 L-59.3,-374.5 L-62.6,-373.9 L-65.8,-373.2 L-69.0,-372.5 L-72.3,-371.8 L-75.5,-371.0 L-78.7,-370.2 L-81.9,-369.4 L-85.1,-368.6 L-88.3,-367.7 L-91.5,-366.9 L-94.6,-365.9 L-97.8,-365.0 L-101.0,-364.0 L-104.1,-363.0 L-107.2,-362.0 L-110.4,-361.0 L-113.5,-359.9 L-116.6,-358.8 L-119.7,-357.7 L-122.8,-356.5 L-125.8,-355.3 L-128.9,-354.1 L-131.9,-352.9 L-135.0,-351.6 L-138.0,-350.4 L-141.0,-349.1 L-144.0,-347.7 L-147.0,-346.4 L-150.0,-345.0 L-153.0,-343.6 L-156.0,-342.2 L-158.9,-340.8 L-161.8,-339.3 L-164.8,-337.8 L-167.7,-336.3 L-170.6,-334.8 L-173.5,-333.2 L-176.3,-331.7 L-179.2,-330.0 L-182.0,-328.4 L-184.9,-326.8 L-187.7,-325.1 L-190.5,-323.4 L-193.3,-321.7 L-196.0,-319.9 L-198.8,-318.1 L-201.5,-316.4 L-204.3,-314.5 L-207.0,-312.7 L-209.7,-310.8 L-212.3,-308.9 L-215.0,-307.0 L-217.6,-305.1 L-220.2,-303.1 L-222.8,-301.1 L-225.4,-299.1 L-228.0,-297.1 L-230.5,-295.0 L-233.0,-292.9 L-235.5,-290.8 L-238.0,-288.7 L-240.4,-286.6 L-242.9,-284.4 L-245.3,-282.2 L-247.7,-280.0 L-250.0,-277.7 L-252.4,-275.4 L-254.7,-273.1 L-257.0,-270.8 L-259.3,-268.5 L-261.5,-266.1 L-263.8,-263.8 L-265.9,-261.3 L-268.1,-258.9 L-270.2,-256.4 L-272.2,-253.8 L-274.2,-251.2 L-276.1,-248.6 L-278.0,-246.0 L-279.9,-243.3 L-281.7,-240.6 L-283.5,-237.9 L-285.3,-235.2 L-287.0,-232.4 L-288.7,-229.6 L-290.4,-226.9 L-292.0,-224.1 L-293.6,-221.3 L-295.2,-218.5 L-296.8,-215.6 L-298.4,-212.8 L-299.9,-210.0 L-301.5,-207.2 L-303.0,-204.4 L-304.6,-201.6 L-306.1,-198.8 L-307.6,-196.0 L-309.2,-193.2 L-310.7,-190.4 L-312.3,-187.6 L-313.8,-184.8 L-315.2,-182.0 L-316.7,-179.2 L-318.1,-176.3 L-319.5,-173.5 L-320.9,-170.6 L-322.2,-167.8 L-323.6,-164.9 L-324.9,-162.0 L-326.2,-159.1 L-327.5,-156.2 L-328.8,-153.3 L-330.1,-150.4 L-331.3,-147.5 L-332.6,-144.6 L-333.8,-141.7 L-335.0,-138.8 L-336.2,-135.8 L-337.4,-132.9 L-338.6,-130.0 L-339.8,-127.0 L-340.9,-124.1 L-342.1,-121.1 L-343.2,-118.2 L-344.3,-115.2 L-345.4,-112.2 L-346.5,-109.3 L-347.6,-106.3 L-348.6,-103.3 L-349.7,-100.3 L-350.7,-97.3 L-351.7,-94.2 L-352.6,-91.2 L-353.6,-88.2 L-354.5,-85.1 L-355.4,-82.1 L-356.3,-79.0 L-357.2,-75.9 L-358.0,-72.8 L-358.8,-69.7 L-359.6,-66.6 L-360.4,-63.5 L-361.1,-60.4 L-361.8,-57.3 L-362.4,-54.2 L-363.1,-51.0 L-363.7,-47.9 L-364.3,-44.7 L-364.8,-41.6 L-365.3,-38.4 L-365.8,-35.2 L-366.2,-32.0 L-366.6,-28.8 L-366.9,-25.7 L-367.2,-22.5 L-367.5,-19.3 L-367.8,-16.1 L-367.9,-12.8 L-368.1,-9.6 L-368.2,-6.4 L-368.3,-3.2 L-368.3,-0.0 L-368.3,3.2 L-368.2,6.4 L-368.2,9.6 L-368.1,12.9 L-367.9,16.1 L-367.8,19.3 L-367.6,22.5 L-367.4,25.7 L-367.1,28.9 L-366.8,32.1 L-366.5,35.3 L-366.2,38.5 L-365.8,41.7 L-365.4,44.9 L-365.0,48.1 L-364.6,51.2 L-364.1,54.4 L-363.6,57.6 L-363.1,60.8 L-362.5,63.9 L-361.9,67.1 L-361.3,70.2 L-360.7,73.4 L-360.0,76.5 L-359.3,79.7 L-358.6,82.8 L-357.8,85.9 L-357.0,89.0 L-356.2,92.1 L-355.4,95.2 L-354.5,98.3 L-353.6,101.4 L-352.7,104.5 L-351.8,107.6 L-350.8,110.6 L-349.8,113.7 L-348.8,116.7 L-347.8,119.8 L-346.7,122.8 L-345.6,125.8 L-344.5,128.8 L-343.4,131.8 L-342.2,134.8 L-341.0,137.8 L-339.8,140.8 L-338.6,143.7 L-337.3,146.7 L-336.1,149.6 L-334.9,152.6 L-333.6,155.6 L-332.4,158.5 L-331.1,161.5 L-329.9,164.5 L-328.6,167.4 L-327.3,170.4 L-326.0,173.4 L-324.7,176.3 L-323.4,179.3 L-322.1,182.2 L-320.7,185.2 L-319.4,188.1 L-318.0,191.0 L-316.5,194.0 L-315.1,196.9 L-313.6,199.8 L-312.2,202.7 L-310.7,205.6 L-309.1,208.5 L-307.6,211.4 L-306.0,214.2 L-304.3,217.1 L-302.7,219.9 L-301.0,222.7 L-299.3,225.5 L-297.6,228.3 L-295.8,231.1 L-294.0,233.8 L-292.1,236.5 L-290.2,239.2 L-288.3,241.9 L-286.4,244.6 L-284.4,247.2 L-282.3,249.8 L-280.3,252.3 L-278.1,254.9 L-276.0,257.4 L-273.8,259.8 L-271.6,262.3 L-269.3,264.7 L-267.0,267.0 L-264.7,269.3 L-262.3,271.6 L-259.9,273.8 L-257.4,276.0 L-254.9,278.2 L-252.4,280.3 L-249.9,282.4 L-247.3,284.5 L-244.7,286.5 L-242.1,288.5 L-239.4,290.5 L-236.8,292.4 L-234.1,294.3 L-231.4,296.1 L-228.6,298.0 L-225.9,299.8 L-223.1,301.5 L-220.3,303.2 L-217.5,304.9 L-214.7,306.6 L-211.9,308.3 L-209.0,309.9 L-206.1,311.5 L-203.3,313.0 L-200.4,314.5 L-197.5,316.1 L-194.6,317.5 L-191.7,319.0 L-188.7,320.4 L-185.8,321.8 L-182.9,323.2 L-179.9,324.6 L-177.0,325.9 L-174.0,327.3 L-171.1,328.6 L-168.1,329.9 L-165.1,331.2 L-162.1,332.4 L-159.2,333.7 L-156.2,334.9 L-153.2,336.1 L-150.2,337.3 L-147.2,338.5 L-144.2,339.7 L-141.2,340.9 L-138.2,342.1 L-135.2,343.2 L-132.2,344.3 L-129.1,345.4 L-126.1,346.5 L-123.1,347.5 L-120.0,348.5 L-116.9,349.5 L-113.9,350.5 L-110.8,351.4 L-107.7,352.3 L-104.6,353.2 L-101.5,354.0 L-98.4,354.8 L-95.3,355.6 L-92.2,356.4 L-89.0,357.2 L-85.9,357.9 L-82.8,358.6 L-79.6,359.2 L-76.5,359.9 L-73.3,360.5 L-70.2,361.1 L-67.0,361.6 L-63.9,362.2 L-60.7,362.7 L-57.5,363.2 L-54.3,363.6 L-51.2,364.1 L-48.0,364.5 L-44.8,364.8 L-41.6,365.2 L-38.4,365.5 L-35.2,365.8 L-32.0,366.1 L-28.8,366.3 L-25.6,366.6 L-22.4,366.8 L-19.2,366.9 L-16.0,367.1 L-12.8,367.2 L-9.6,367.3 L-6.4,367.3 L-3.2,367.4 L-0.0,367.4 L3.2,367.4 L6.4,367.3 L9.6,367.3 L12.8,367.2 L16.0,367.1 L19.2,366.9 L22.4,366.7 L25.6,366.5 L28.8,366.3 L32.0,366.0 L35.2,365.7 L38.4,365.4 L41.6,365.1 L44.8,364.7 L48.0,364.3 L51.1,363.9 L54.3,363.4 L57.5,362.9 L60.6,362.4 L63.8,361.9 L67.0,361.3 L70.1,360.7 L73.3,360.1 L76.4,359.4 L79.5,358.8 L82.7,358.1 L85.8,357.3 L88.9,356.6 L92.0,355.8 L95.1,355.0 L98.2,354.1 L101.3,353.3 L104.4,352.4 L107.5,351.5 L110.5,350.5 L113.6,349.5 L116.6,348.5 L119.7,347.5 L122.7,346.5 L125.7,345.4 L128.7,344.3 L131.7,343.2 L134.7,342.0 L137.7,340.8 L140.7,339.6 L143.6,338.4 L146.6,337.1 L149.5,335.9 L152.5,334.5 L155.4,333.2 L158.3,331.9 L161.2,330.5 L164.1,329.1 L167.0,327.7 L169.8,326.2 L172.7,324.8 L175.5,323.3 L178.4,321.8 L181.2,320.2 L184.0,318.7 L186.8,317.1 L189.6,315.5 L192.3,313.9 L195.1,312.2 L197.8,310.6 L200.6,308.9 L203.3,307.1 L206.0,305.4 L208.7,303.6 L211.4,301.9 L214.0,300.1 L216.7,298.2 L219.3,296.4 L221.9,294.5 L224.5,292.6 L227.1,290.7 L229.7,288.8 L232.2,286.8 L234.8,284.8 L237.3,282.8 L239.8,280.8 L242.3,278.7 L244.8,276.7 L247.2,274.6 L249.7,272.5 L252.1,270.4 L254.5,268.2 L256.9,266.0 L259.3,263.8 L261.6,261.6 L264.0,259.4 L266.3,257.2 L268.6,254.9 L271.0,252.7 L273.3,250.4 L275.6,248.1 L277.9,245.8 L280.2,243.5 L282.5,241.2 L284.7,238.9 L287.0,236.6 L289.2,234.2 L291.5,231.8 L293.7,229.5 L295.9,227.0 L298.1,224.6 L300.3,222.2 L302.4,219.7 L304.6,217.2 L306.7,214.8 L308.8,212.2 L310.9,209.7 L313.0,207.1 L315.0,204.6 L317.0,202.0 L319.0,199.3 L321.0,196.7 L322.9,194.0 L324.9,191.4 L326.8,188.7 L328.6,185.9 L330.5,183.2 L332.3,180.4 L334.0,177.6 L335.8,174.8 L337.5,172.0 L339.2,169.1 L340.8,166.2 L342.4,163.3 L344.0,160.4 L345.5,157.4 L347.0,154.5 L348.4,151.5 L349.8,148.5 L351.2,145.5 L352.5,142.4 L353.8,139.4 L355.0,136.3 L356.3,133.2 L357.5,130.1 L358.7,127.0 L359.8,123.9 L360.9,120.8 L362.0,117.6 L363.1,114.5 L364.2,111.3 L365.2,108.2 L366.2,105.0 L367.1,101.8 L368.0,98.6 L368.9,95.4 L369.8,92.2 L370.6,89.0 L371.5,85.8 L372.2,82.5 L373.0,79.3 L373.7,76.0 L374.4,72.8 L375.1,69.5 L375.7,66.2 L376.3,63.0 L376.9,59.7 L377.4,56.4 L377.9,53.1 L378.4,49.8 L378.8,46.5 L379.3,43.2 L379.7,39.9 L380.0,36.6 L380.3,33.3 L380.6,30.0 L380.9,26.6 L381.1,23.3 L381.3,20.0 L381.5,16.7 L381.6,13.3 L381.8,10.0 L381.8,6.7 L381.9,3.3Z" fill="#fdc690"/>
<path d="M350.6,-0.0 L350.6,-3.1 L350.5,-6.1 L350.4,-9.2 L350.2,-12.2 L350.0,-15.3 L349.7,-18.3 L349.4,-21.4 L349.1,-24.4 L348.7,-27.4 L348.2,-30.5 L347.7,-33.5 L347.2,-36.5 L346.7,-39.5 L346.1,-42.5 L345.5,-45.5 L344.8,-48.5 L344.1,-51.4 L343.4,-54.4 L342.6,-57.3 L341.9,-60.3 L341.1,-63.2 L340.2,-66.1 L339.4,-69.0 L338.5,-71.9 L337.6,-74.8 L336.6,-77.7 L335.7,-80.6 L334.7,-83.5 L333.7,-86.3 L332.7,-89.2 L331.7,-92.0 L330.7,-94.8 L329.6,-97.6 L328.5,-100.4 L327.5,-103.2 L326.4,-106.0 L325.3,-108.8 L324.2,-111.6 L323.0,-114.4 L321.9,-117.2 L320.8,-119.9 L319.7,-122.7 L318.5,-125.5 L317.4,-128.2 L316.2,-131.0 L315.1,-133.7 L313.9,-136.5 L312.7,-139.2 L311.5,-142.0 L310.3,-144.7 L309.0,-147.4 L307.8,-150.1 L306.5,-152.8 L305.2,-155.5 L303.8,-158.2 L302.5,-160.8 L301.1,-163.5 L299.7,-166.1 L298.3,-168.8 L296.9,-171.4 L295.4,-174.0 L294.0,-176.6 L292.5,-179.2 L291.0,-181.8 L289.4,-184.4 L287.9,-187.0 L286.3,-189.5 L284.7,-192.1 L283.1,-194.6 L281.5,-197.1 L279.8,-199.6 L278.2,-202.1 L276.5,-204.6 L274.7,-207.0 L273.0,-209.5 L271.2,-211.9 L269.5,-214.3 L267.7,-216.7 L265.8,-219.1 L264.0,-221.5 L262.1,-223.9 L260.3,-226.2 L258.4,-228.6 L256.4,-230.9 L254.5,-233.2 L252.5,-235.5 L250.5,-237.7 L248.5,-240.0 L246.5,-242.2 L244.4,-244.4 L242.4,-246.7 L240.3,-248.8 L238.2,-251.0 L236.1,-253.2 L234.0,-255.4 L231.9,-257.6 L229.8,-259.7 L227.6,-261.8 L225.5,-264.0 L223.3,-266.1 L221.1,-268.2 L218.9,-270.3 L216.7,-272.4 L214.4,-274.4 L212.2,-276.5 L209.9,-278.5 L207.6,-280.5 L205.3,-282.5 L202.9,-284.5 L200.6,-286.5 L198.2,-288.4 L195.8,-290.4 L193.4,-292.3 L191.0,-294.1 L188.6,-296.0 L186.1,-297.8 L183.6,-299.6 L181.1,-301.4 L178.6,-303.2 L176.0,-304.9 L173.5,-306.6 L170.9,-308.3 L168.3,-309.9 L165.6,-311.5 L163.0,-313.1 L160.3,-314.6 L157.6,-316.1 L154.9,-317.6 L152.2,-319.0 L149.4,-320.4 L146.7,-321.8 L143.9,-323.1 L141.1,-324.4 L138.2,-325.7 L135.4,-326.9 L132.5,-328.0 L129.7,-329.2 L126.8,-330.3 L123.9,-331.4 L121.0,-332.4 L118.1,-333.4 L115.2,-334.4 L112.2,-335.4 L109.3,-336.3 L106.3,-337.3 L103.4,-338.1 L100.4,-339.0 L97.4,-339.8 L94.5,-340.6 L91.5,-341.4 L88.5,-342.1 L85.5,-342.8 L82.5,-343.5 L79.5,-344.2 L76.4,-344.8 L73.4,-345.4 L70.4,-346.0 L67.4,-346.5 L64.3,-347.0 L61.3,-347.5 L58.2,-347.9 L55.2,-348.4 L52.1,-348.8 L49.1,-349.1 L46.0,-349.5 L42.9,-349.8 L39.9,-350.1 L36.8,-350.3 L33.8,-350.6 L30.7,-350.8 L27.6,-350.9 L24.6,-351.1 L21.5,-351.2 L18.4,-351.3 L15.3,-351.4 L12.3,-351.4 L9.2,-351.4 L6.1,-351.4 L3.1,-351.4 L0.0,-351.3 L-3.1,-351.2 L-6.1,-351.1 L-9.2,-350.9 L-12.2,-350.7 L-15.3,-350.5 L-18.4,-350.2 L-21.4,-349.9 L-24.4,-349.6 L-27.5,-349.3 L-30.5,-348.9 L-33.6,-348.5 L-36.6,-348.1 L-39.6,-347.6 L-42.6,-347.1 L-45.6,-346.6 L-48.6,-346.0 L-51.6,-345.4 L-54.6,-344.8 L-57.6,-344.2 L-60.6,-343.5 L-63.5,-342.8 L-66.5,-342.1 L-69.4,-341.3 L-72.4,-340.5 L-75.3,-339.7 L-78.2,-338.9 L-81.1,-338.0 L-84.1,-337.1 L-86.9,-336.2 L-89.8,-335.3 L-92.7,-334.3 L-95.6,-333.3 L-98.4,-332.3 L-101.3,-331.3 L-104.1,-330.2 L-106.9,-329.1 L-109.7,-328.0 L-112.5,-326.9 L-115.3,-325.7 L-118.1,-324.5 L-120.9,-323.3 L-123.6,-322.1 L-126.4,-320.8 L-129.1,-319.6 L-131.8,-318.3 L-134.5,-317.0 L-137.2,-315.6 L-139.9,-314.2 L-142.6,-312.8 L-145.2,-311.4 L-147.8,-309.9 L-150.4,-308.4 L-153.0,-306.9 L-155.6,-305.3 L-158.1,-303.8 L-160.7,-302.2 L-163.2,-300.6 L-165.7,-298.9 L-168.2,-297.2 L-170.6,-295.6 L-173.1,-293.8 L-175.5,-292.1 L-177.9,-290.4 L-180.3,-288.6 L-182.7,-286.8 L-185.1,-285.0 L-187.4,-283.2 L-189.8,-281.3 L-192.1,-279.5 L-194.4,-277.6 L-196.7,-275.7 L-198.9,-273.8 L-201.2,-271.9 L-203.5,-270.0 L-205.7,-268.1 L-207.9,-266.1 L-210.1,-264.1 L-212.3,-262.2 L-214.5,-260.2 L-216.7,-258.2 L-218.8,-256.2 L-221.0,-254.2 L-223.1,-252.2 L-225.2,-250.1 L-227.3,-248.1 L-229.4,-246.0 L-231.5,-244.0 L-233.6,-241.9 L-235.7,-239.9 L-237.8,-237.8 L-239.9,-235.7 L-241.9,-233.6 L-244.0,-231.5 L-246.0,-229.4 L-248.1,-227.3 L-250.1,-225.2 L-252.1,-223.0 L-254.1,-220.9 L-256.1,-218.7 L-258.0,-216.5 L-260.0,-214.3 L-261.9,-212.1 L-263.8,-209.8 L-265.7,-207.6 L-267.5,-205.3 L-269.4,-203.0 L-271.2,-200.7 L-272.9,-198.3 L-274.7,-195.9 L-276.4,-193.5 L-278.0,-191.1 L-279.6,-188.6 L-281.2,-186.1 L-282.7,-183.6 L-284.1,-181.0 L-285.5,-178.4 L-286.9,-175.8 L-288.2,-173.2 L-289.5,-170.5 L-290.7,-167.8 L-291.9,-165.2 L-293.1,-162.5 L-294.2,-159.8 L-295.4,-157.0 L-296.5,-154.3 L-297.5,-151.6 L-298.6,-148.9 L-299.7,-146.2 L-300.8,-143.5 L-301.8,-140.7 L-302.9,-138.0 L-303.9,-135.3 L-305.0,-132.6 L-306.1,-129.9 L-307.2,-127.2 L-308.3,-124.6 L-309.4,-121.9 L-310.5,-119.2 L-311.5,-116.5 L-312.6,-113.8 L-313.6,-111.1 L-314.6,-108.3 L-315.6,-105.6 L-316.6,-102.9 L-317.6,-100.1 L-318.5,-97.4 L-319.5,-94.6 L-320.4,-91.9 L-321.3,-89.1 L-322.2,-86.3 L-323.0,-83.5 L-323.9,-80.7 L-324.7,-77.9 L-325.5,-75.1 L-326.2,-72.3 L-327.0,-69.5 L-327.7,-66.7 L-328.4,-63.8 L-329.1,-61.0 L-329.8,-58.1 L-330.4,-55.3 L-331.0,-52.4 L-331.6,-49.6 L-332.2,-46.7 L-332.7,-43.8 L-333.2,-40.9 L-333.7,-38.0 L-334.1,-35.1 L-334.5,-32.2 L-334.9,-29.3 L-335.3,-26.4 L-335.6,-23.5 L-335.9,-20.5 L-336.1,-17.6 L-336.4,-14.7 L-336.6,-11.8 L-336.7,-8.8 L-336.8,-5.9 L-336.9,-2.9 L-337.0,-0.0 L-337.0,2.9 L-337.0,5.9 L-337.0,8.8 L-336.9,11.8 L-336.9,14.7 L-336.8,17.6 L-336.6,20.6 L-336.5,23.5 L-336.3,26.5 L-336.0,29.4 L-335.8,32.3 L-335.5,35.3 L-335.2,38.2 L-334.9,41.1 L-334.6,44.0 L-334.2,47.0 L-333.8,49.9 L-333.3,52.8 L-332.9,55.7 L-332.4,58.6 L-331.9,61.5 L-331.4,64.4 L-330.8,67.3 L-330.2,70.2 L-329.6,73.1 L-329.0,76.0 L-328.3,78.8 L-327.6,81.7 L-326.9,84.6 L-326.2,87.4 L-325.5,90.3 L-324.7,93.1 L-323.9,95.9 L-323.1,98.8 L-322.2,101.6 L-321.3,104.4 L-320.4,107.2 L-319.5,110.0 L-318.6,112.8 L-317.6,115.6 L-316.6,118.4 L-315.6,121.2 L-314.6,123.9 L-313.5,126.7 L-312.5,129.4 L-311.4,132.2 L-310.3,134.9 L-309.2,137.6 L-308.0,140.4 L-306.9,143.1 L-305.8,145.9 L-304.6,148.6 L-303.5,151.3 L-302.3,154.0 L-301.1,156.7 L-299.9,159.5 L-298.7,162.2 L-297.4,164.9 L-296.2,167.6 L-294.9,170.3 L-293.6,173.0 L-292.3,175.6 L-291.0,178.3 L-289.6,181.0 L-288.2,183.6 L-286.8,186.3 L-285.4,188.9 L-283.9,191.5 L-282.5,194.1 L-280.9,196.7 L-279.4,199.3 L-277.9,201.9 L-276.3,204.4 L-274.7,207.0 L-273.0,209.5 L-271.3,212.0 L-269.6,214.5 L-267.9,217.0 L-266.2,219.4 L-264.4,221.8 L-262.5,224.2 L-260.7,226.6 L-258.8,229.0 L-256.9,231.3 L-254.9,233.6 L-252.9,235.9 L-250.9,238.1 L-248.9,240.3 L-246.8,242.5 L-244.7,244.7 L-242.5,246.8 L-240.3,248.9 L-238.1,250.9 L-235.9,252.9 L-233.6,254.9 L-231.3,256.9 L-229.0,258.8 L-226.6,260.7 L-224.2,262.5 L-221.8,264.4 L-219.4,266.2 L-217.0,267.9 L-214.5,269.7 L-212.0,271.4 L-209.5,273.1 L-207.0,274.7 L-204.5,276.3 L-201.9,277.9 L-199.3,279.5 L-196.8,281.0 L-194.2,282.5 L-191.6,284.0 L-189.0,285.5 L-186.3,286.9 L-183.7,288.3 L-181.0,289.7 L-178.4,291.1 L-175.7,292.4 L-173.0,293.8 L-170.4,295.1 L-167.7,296.3 L-165.0,297.6 L-162.3,298.9 L-159.6,300.1 L-156.9,301.3 L-154.1,302.5 L-151.4,303.7 L-148.7,304.9 L-146.0,306.1 L-143.3,307.2 L-140.5,308.3 L-137.8,309.5 L-135.1,310.6 L-132.3,311.7 L-129.6,312.8 L-126.8,313.9 L-124.1,315.0 L-121.3,316.0 L-118.5,317.1 L-115.8,318.1 L-113.0,319.0 L-110.2,320.0 L-107.4,320.9 L-104.6,321.8 L-101.7,322.7 L-98.9,323.5 L-96.1,324.4 L-93.2,325.2 L-90.4,325.9 L-87.5,326.7 L-84.7,327.4 L-81.8,328.1 L-78.9,328.8 L-76.1,329.5 L-73.2,330.1 L-70.3,330.7 L-67.4,331.3 L-64.5,331.9 L-61.6,332.4 L-58.7,332.9 L-55.8,333.4 L-52.9,333.9 L-50.0,334.3 L-47.0,334.7 L-44.1,335.1 L-41.2,335.5 L-38.3,335.8 L-35.3,336.1 L-32.4,336.4 L-29.5,336.7 L-26.5,336.9 L-23.6,337.1 L-20.6,337.3 L-17.7,337.5 L-14.7,337.6 L-11.8,337.7 L-8.8,337.8 L-5.9,337.9 L-2.9,337.9 L-0.0,337.9 L2.9,337.9 L5.9,337.9 L8.8,337.8 L11.8,337.7 L14.7,337.6 L17.7,337.5 L20.6,337.3 L23.6,337.1 L26.5,336.9 L29.5,336.7 L32.4,336.5 L35.3,336.2 L38.3,335.9 L41.2,335.6 L44.1,335.2 L47.1,334.8 L50.0,334.4 L52.9,334.0 L55.8,333.6 L58.7,333.1 L61.6,332.6 L64.5,332.1 L67.4,331.5 L70.3,330.9 L73.2,330.3 L76.1,329.7 L79.0,329.0 L81.9,328.4 L84.7,327.7 L87.6,326.9 L90.5,326.2 L93.3,325.4 L96.1,324.6 L99.0,323.8 L101.8,322.9 L104.6,322.0 L107.4,321.1 L110.2,320.2 L113.0,319.2 L115.8,318.2 L118.6,317.2 L121.4,316.2 L124.1,315.1 L126.9,314.0 L129.6,312.9 L132.3,311.8 L135.1,310.6 L137.8,309.4 L140.5,308.2 L143.1,307.0 L145.8,305.7 L148.5,304.4 L151.1,303.1 L153.8,301.8 L156.4,300.5 L159.0,299.1 L161.6,297.7 L164.2,296.3 L166.8,294.8 L169.4,293.4 L171.9,291.9 L174.5,290.4 L177.0,288.8 L179.5,287.3 L182.0,285.7 L184.5,284.1 L187.0,282.5 L189.4,280.8 L191.9,279.2 L194.3,277.5 L196.7,275.8 L199.1,274.1 L201.5,272.3 L203.9,270.5 L206.2,268.8 L208.6,266.9 L210.9,265.1 L213.2,263.3 L215.5,261.4 L217.8,259.5 L220.0,257.6 L222.3,255.7 L224.5,253.7 L226.7,251.8 L228.9,249.8 L231.1,247.8 L233.2,245.7 L235.3,243.7 L237.5,241.6 L239.6,239.6 L241.7,237.5 L243.7,235.4 L245.8,233.3 L247.9,231.2 L249.9,229.0 L252.0,226.9 L254.0,224.7 L256.1,222.6 L258.1,220.4 L260.1,218.2 L262.1,216.1 L264.1,213.9 L266.1,211.6 L268.0,209.4 L270.0,207.2 L271.9,204.9 L273.9,202.6 L275.8,200.4 L277.7,198.1 L279.5,195.7 L281.4,193.4 L283.3,191.1 L285.1,188.7 L286.9,186.3 L288.7,183.9 L290.5,181.5 L292.2,179.1 L294.0,176.6 L295.7,174.2 L297.4,171.7 L299.1,169.2 L300.7,166.7 L302.3,164.2 L303.9,161.6 L305.5,159.0 L307.1,156.5 L308.6,153.9 L310.1,151.2 L311.6,148.6 L313.0,146.0 L314.4,143.3 L315.8,140.6 L317.1,137.9 L318.5,135.2 L319.8,132.4 L321.0,129.7 L322.3,126.9 L323.5,124.2 L324.7,121.4 L325.8,118.6 L327.0,115.8 L328.1,113.0 L329.2,110.2 L330.3,107.3 L331.3,104.5 L332.4,101.6 L333.4,98.7 L334.3,95.9 L335.3,93.0 L336.2,90.1 L337.1,87.2 L338.0,84.3 L338.9,81.4 L339.7,78.4 L340.5,75.5 L341.2,72.5 L342.0,69.6 L342.7,66.6 L343.4,63.6 L344.0,60.7 L344.7,57.7 L345.2,54.7 L345.8,51.7 L346.3,48.7 L346.9,45.7 L347.3,42.6 L347.8,39.6 L348.2,36.6 L348.6,33.6 L348.9,30.5 L349.2,27.5 L349.5,24.4 L349.8,21.4 L350.0,18.3 L350.2,15.3 L350.3,12.2 L350.4,9.2 L350.5,6.1 L350.6,3.1Z" fill="#fdd8a6"/>
<path d="M323.3,-0.0 L323.3,-2.8 L323.2,-5.6 L323.1,-8.5 L322.9,-11.3 L322.6,-14.1 L322.4,-16.9 L322.0,-19.7 L321.6,-22.5 L321.2,-25.3 L320.8,-28.1 L320.3,-30.8 L319.7,-33.6 L319.1,-36.4 L318.5,-39.1 L317.9,-41.8 L317.2,-44.6 L316.5,-47.3 L315.7,-50.0 L314.9,-52.7 L314.1,-55.4 L313.3,-58.1 L312.4,-60.7 L311.5,-63.4 L310.6,-66.0 L309.7,-68.7 L308.8,-71.3 L307.8,-73.9 L306.8,-76.5 L305.8,-79.1 L304.8,-81.7 L303.8,-84.3 L302.8,-86.8 L301.8,-89.4 L300.7,-91.9 L299.7,-94.5 L298.6,-97.0 L297.6,-99.6 L296.5,-102.1 L295.4,-104.6 L294.4,-107.1 L293.3,-109.7 L292.2,-112.2 L291.2,-114.7 L290.1,-117.2 L289.1,-119.7 L288.0,-122.3 L286.9,-124.8 L285.9,-127.3 L284.7,-129.8 L283.6,-132.2 L282.4,-134.7 L281.3,-137.2 L280.1,-139.6 L278.8,-142.1 L277.6,-144.5 L276.3,-146.9 L275.0,-149.3 L273.7,-151.7 L272.4,-154.1 L271.1,-156.5 L269.7,-158.9 L268.3,-161.2 L266.9,-163.6 L265.5,-165.9 L264.0,-168.2 L262.6,-170.5 L261.1,-172.8 L259.6,-175.1 L258.1,-177.4 L256.5,-179.6 L255.0,-181.9 L253.4,-184.1 L251.8,-186.3 L250.2,-188.5 L248.5,-190.7 L246.9,-192.9 L245.2,-195.0 L243.5,-197.2 L241.8,-199.3 L240.1,-201.5 L238.3,-203.6 L236.6,-205.6 L234.8,-207.7 L233.0,-209.8 L231.2,-211.8 L229.3,-213.9 L227.5,-215.9 L225.6,-217.9 L223.7,-219.9 L221.8,-221.8 L219.9,-223.8 L218.0,-225.7 L216.1,-227.7 L214.2,-229.7 L212.2,-231.6 L210.3,-233.6 L208.4,-235.5 L206.4,-237.5 L204.5,-239.4 L202.5,-241.3 L200.5,-243.3 L198.6,-245.2 L196.6,-247.1 L194.6,-249.0 L192.6,-250.9 L190.5,-252.8 L188.5,-254.7 L186.4,-256.6 L184.3,-258.4 L182.2,-260.3 L180.1,-262.1 L178.0,-263.9 L175.9,-265.7 L173.7,-267.5 L171.5,-269.2 L169.3,-271.0 L167.1,-272.7 L164.9,-274.4 L162.6,-276.0 L160.3,-277.7 L158.0,-279.3 L155.7,-280.9 L153.4,-282.4 L151.0,-284.0 L148.6,-285.5 L146.2,-286.9 L143.8,-288.4 L141.3,-289.8 L138.9,-291.1 L136.4,-292.4 L133.9,-293.7 L131.3,-295.0 L128.8,-296.1 L126.2,-297.3 L123.6,-298.4 L121.0,-299.5 L118.4,-300.5 L115.8,-301.6 L113.1,-302.6 L110.5,-303.6 L107.8,-304.5 L105.2,-305.5 L102.5,-306.4 L99.8,-307.3 L97.2,-308.1 L94.5,-309.0 L91.8,-309.8 L89.1,-310.6 L86.3,-311.4 L83.6,-312.1 L80.9,-312.8 L78.2,-313.5 L75.4,-314.2 L72.7,-314.9 L69.9,-315.5 L67.2,-316.1 L64.4,-316.7 L61.7,-317.2 L58.9,-317.7 L56.1,-318.3 L53.3,-318.7 L50.6,-319.2 L47.8,-319.6 L45.0,-320.0 L42.2,-320.4 L39.4,-320.8 L36.6,-321.1 L33.8,-321.4 L31.0,-321.7 L28.2,-322.0 L25.4,-322.2 L22.5,-322.4 L19.7,-322.6 L16.9,-322.8 L14.1,-322.9 L11.3,-323.0 L8.5,-323.1 L5.6,-323.2 L2.8,-323.2 L0.0,-323.2 L-2.8,-323.2 L-5.6,-323.1 L-8.5,-323.1 L-11.3,-323.0 L-14.1,-322.8 L-16.9,-322.7 L-19.7,-322.5 L-22.5,-322.3 L-25.3,-322.0 L-28.1,-321.7 L-31.0,-321.4 L-33.7,-321.1 L-36.5,-320.7 L-39.3,-320.4 L-42.1,-319.9 L-44.9,-319.5 L-47.7,-319.0 L-50.5,-318.5 L-53.2,-318.0 L-56.0,-317.5 L-58.7,-316.9 L-61.5,-316.3 L-64.2,-315.7 L-67.0,-315.0 L-69.7,-314.3 L-72.4,-313.6 L-75.1,-312.9 L-77.8,-312.1 L-80.5,-311.4 L-83.2,-310.6 L-85.9,-309.7 L-88.6,-308.9 L-91.2,-308.0 L-93.9,-307.1 L-96.5,-306.2 L-99.2,-305.2 L-101.8,-304.3 L-104.4,-303.3 L-107.0,-302.3 L-109.6,-301.2 L-112.2,-300.2 L-114.8,-299.1 L-117.4,-298.0 L-119.9,-296.9 L-122.5,-295.7 L-125.0,-294.6 L-127.6,-293.4 L-130.1,-292.2 L-132.6,-290.9 L-135.1,-289.7 L-137.5,-288.4 L-140.0,-287.1 L-142.5,-285.7 L-144.9,-284.4 L-147.3,-283.0 L-149.7,-281.6 L-152.1,-280.1 L-154.5,-278.7 L-156.8,-277.2 L-159.2,-275.7 L-161.5,-274.2 L-163.8,-272.7 L-166.1,-271.1 L-168.4,-269.5 L-170.7,-267.9 L-172.9,-266.3 L-175.2,-264.7 L-177.4,-263.0 L-179.6,-261.3 L-181.8,-259.6 L-184.0,-257.9 L-186.1,-256.2 L-188.3,-254.4 L-190.4,-252.7 L-192.5,-250.9 L-194.6,-249.1 L-196.7,-247.2 L-198.7,-245.4 L-200.7,-243.5 L-202.8,-241.7 L-204.8,-239.8 L-206.8,-237.9 L-208.7,-235.9 L-210.7,-234.0 L-212.6,-232.0 L-214.5,-230.1 L-216.4,-228.1 L-218.3,-226.1 L-220.2,-224.1 L-222.0,-222.0 L-223.9,-220.0 L-225.7,-217.9 L-227.5,-215.9 L-229.3,-213.8 L-231.0,-211.7 L-232.8,-209.6 L-234.5,-207.5 L-236.2,-205.3 L-237.9,-203.2 L-239.5,-201.0 L-241.2,-198.8 L-242.8,-196.6 L-244.3,-194.3 L-245.8,-192.1 L-247.3,-189.8 L-248.7,-187.4 L-250.0,-185.0 L-251.3,-182.6 L-252.6,-180.1 L-253.7,-177.7 L-254.9,-175.2 L-256.0,-172.6 L-257.0,-170.1 L-258.0,-167.5 L-259.0,-165.0 L-259.9,-162.4 L-260.8,-159.8 L-261.7,-157.2 L-262.5,-154.6 L-263.4,-152.0 L-264.2,-149.5 L-265.0,-146.9 L-265.8,-144.3 L-266.5,-141.7 L-267.3,-139.2 L-268.1,-136.6 L-268.9,-134.1 L-269.7,-131.5 L-270.5,-129.0 L-271.3,-126.5 L-272.2,-124.0 L-273.1,-121.6 L-274.0,-119.1 L-274.9,-116.7 L-275.9,-114.3 L-276.9,-111.9 L-277.8,-109.4 L-278.8,-107.0 L-279.8,-104.6 L-280.7,-102.2 L-281.6,-99.7 L-282.6,-97.3 L-283.5,-94.8 L-284.4,-92.4 L-285.2,-89.9 L-286.1,-87.5 L-286.9,-85.0 L-287.8,-82.5 L-288.6,-80.0 L-289.4,-77.5 L-290.1,-75.0 L-290.9,-72.5 L-291.6,-70.0 L-292.4,-67.5 L-293.1,-65.0 L-293.7,-62.4 L-294.4,-59.9 L-295.0,-57.4 L-295.7,-54.8 L-296.3,-52.2 L-296.8,-49.7 L-297.4,-47.1 L-297.9,-44.5 L-298.4,-41.9 L-298.9,-39.3 L-299.3,-36.8 L-299.8,-34.2 L-300.2,-31.5 L-300.5,-28.9 L-300.9,-26.3 L-301.2,-23.7 L-301.5,-21.1 L-301.7,-18.5 L-302.0,-15.8 L-302.2,-13.2 L-302.3,-10.6 L-302.5,-7.9 L-302.6,-5.3 L-302.7,-2.6 L-302.7,-0.0 L-302.7,2.6 L-302.7,5.3 L-302.7,7.9 L-302.6,10.6 L-302.5,13.2 L-302.4,15.8 L-302.3,18.5 L-302.1,21.1 L-302.0,23.8 L-301.7,26.4 L-301.5,29.0 L-301.3,31.7 L-301.0,34.3 L-300.7,36.9 L-300.4,39.5 L-300.0,42.2 L-299.7,44.8 L-299.3,47.4 L-298.9,50.0 L-298.4,52.6 L-298.0,55.2 L-297.5,57.8 L-297.0,60.4 L-296.4,63.0 L-295.9,65.6 L-295.3,68.2 L-294.7,70.8 L-294.1,73.3 L-293.5,75.9 L-292.8,78.5 L-292.1,81.0 L-291.4,83.6 L-290.7,86.1 L-289.9,88.6 L-289.2,91.2 L-288.4,93.7 L-287.6,96.2 L-286.7,98.7 L-285.9,101.2 L-285.0,103.7 L-284.1,106.2 L-283.2,108.7 L-282.2,111.2 L-281.3,113.6 L-280.3,116.1 L-279.3,118.6 L-278.3,121.0 L-277.3,123.5 L-276.3,125.9 L-275.2,128.3 L-274.2,130.8 L-273.1,133.2 L-272.0,135.6 L-270.9,138.0 L-269.8,140.4 L-268.6,142.8 L-267.5,145.2 L-266.3,147.6 L-265.1,150.0 L-263.9,152.4 L-262.7,154.7 L-261.5,157.1 L-260.2,159.4 L-258.9,161.8 L-257.6,164.1 L-256.3,166.4 L-254.9,168.7 L-253.6,171.0 L-252.2,173.3 L-250.8,175.6 L-249.4,177.9 L-247.9,180.1 L-246.4,182.4 L-244.9,184.6 L-243.4,186.8 L-241.9,189.0 L-240.3,191.2 L-238.7,193.3 L-237.1,195.5 L-235.5,197.6 L-233.8,199.7 L-232.1,201.8 L-230.4,203.8 L-228.7,205.9 L-226.9,207.9 L-225.1,209.9 L-223.3,211.9 L-221.5,213.9 L-219.6,215.8 L-217.7,217.7 L-215.8,219.6 L-213.9,221.5 L-211.9,223.3 L-209.9,225.1 L-207.9,226.9 L-205.9,228.6 L-203.8,230.4 L-201.7,232.1 L-199.6,233.8 L-197.5,235.4 L-195.4,237.0 L-193.2,238.6 L-191.1,240.2 L-188.9,241.8 L-186.7,243.3 L-184.5,244.8 L-182.3,246.3 L-180.0,247.8 L-177.7,249.2 L-175.5,250.6 L-173.2,252.0 L-170.9,253.4 L-168.6,254.7 L-166.3,256.1 L-164.0,257.4 L-161.6,258.7 L-159.3,259.9 L-156.9,261.2 L-154.6,262.4 L-152.2,263.6 L-149.8,264.8 L-147.5,266.0 L-145.1,267.2 L-142.7,268.3 L-140.3,269.5 L-137.9,270.6 L-135.5,271.7 L-133.0,272.8 L-130.6,273.9 L-128.2,274.9 L-125.8,276.0 L-123.3,277.0 L-120.9,278.1 L-118.5,279.1 L-116.0,280.1 L-113.6,281.1 L-111.1,282.1 L-108.7,283.1 L-106.2,284.0 L-103.7,284.9 L-101.2,285.8 L-98.7,286.7 L-96.2,287.6 L-93.7,288.4 L-91.2,289.2 L-88.7,290.0 L-86.1,290.8 L-83.6,291.5 L-81.0,292.2 L-78.5,292.9 L-75.9,293.6 L-73.4,294.3 L-70.8,294.9 L-68.2,295.5 L-65.7,296.1 L-63.1,296.7 L-60.5,297.3 L-57.9,297.8 L-55.3,298.3 L-52.7,298.8 L-50.1,299.2 L-47.5,299.7 L-44.8,300.1 L-42.2,300.5 L-39.6,300.8 L-37.0,301.2 L-34.4,301.5 L-31.7,301.8 L-29.1,302.1 L-26.4,302.3 L-23.8,302.5 L-21.2,302.7 L-18.5,302.9 L-15.9,303.1 L-13.2,303.2 L-10.6,303.3 L-7.9,303.4 L-5.3,303.5 L-2.6,303.5 L-0.0,303.5 L2.6,303.5 L5.3,303.4 L7.9,303.4 L10.6,303.3 L13.2,303.2 L15.9,303.0 L18.5,302.8 L21.2,302.7 L23.8,302.4 L26.4,302.2 L29.1,301.9 L31.7,301.6 L34.3,301.3 L37.0,300.9 L39.6,300.6 L42.2,300.2 L44.8,299.8 L47.4,299.3 L50.0,298.8 L52.6,298.4 L55.2,297.8 L57.8,297.3 L60.4,296.7 L63.0,296.2 L65.5,295.6 L68.1,294.9 L70.7,294.3 L73.2,293.6 L75.8,292.9 L78.3,292.2 L80.8,291.5 L83.4,290.7 L85.9,290.0 L88.4,289.2 L90.9,288.4 L93.4,287.5 L95.9,286.7 L98.4,285.8 L100.9,284.9 L103.4,284.0 L105.8,283.1 L108.3,282.1 L110.8,281.2 L113.2,280.2 L115.6,279.2 L118.1,278.2 L120.5,277.2 L122.9,276.1 L125.3,275.1 L127.8,274.0 L130.2,272.9 L132.6,271.8 L135.0,270.7 L137.3,269.6 L139.7,268.4 L142.1,267.3 L144.5,266.1 L146.8,264.9 L149.2,263.7 L151.5,262.5 L153.9,261.2 L156.2,260.0 L158.5,258.7 L160.9,257.4 L163.2,256.1 L165.5,254.8 L167.8,253.5 L170.0,252.1 L172.3,250.7 L174.6,249.3 L176.8,247.9 L179.1,246.5 L181.3,245.0 L183.6,243.6 L185.8,242.1 L188.0,240.6 L190.2,239.1 L192.3,237.5 L194.5,236.0 L196.7,234.4 L198.8,232.8 L201.0,231.2 L203.1,229.5 L205.2,227.9 L207.3,226.2 L209.3,224.5 L211.4,222.8 L213.5,221.0 L215.5,219.3 L217.5,217.5 L219.5,215.7 L221.5,213.9 L223.5,212.1 L225.5,210.3 L227.4,208.4 L229.4,206.6 L231.4,204.7 L233.3,202.8 L235.2,200.9 L237.1,199.0 L239.0,197.1 L240.9,195.1 L242.8,193.1 L244.7,191.2 L246.5,189.2 L248.4,187.2 L250.2,185.1 L252.0,183.1 L253.8,181.1 L255.6,179.0 L257.4,176.9 L259.1,174.8 L260.9,172.7 L262.6,170.5 L264.3,168.4 L265.9,166.2 L267.6,164.0 L269.2,161.8 L270.9,159.6 L272.5,157.3 L274.0,155.0 L275.6,152.8 L277.1,150.5 L278.7,148.2 L280.1,145.8 L281.6,143.5 L283.0,141.1 L284.5,138.7 L285.8,136.3 L287.2,133.9 L288.5,131.5 L289.9,129.1 L291.1,126.6 L292.4,124.1 L293.6,121.6 L294.8,119.1 L296.0,116.6 L297.1,114.1 L298.3,111.5 L299.4,109.0 L300.5,106.4 L301.6,103.8 L302.6,101.3 L303.7,98.7 L304.7,96.1 L305.7,93.4 L306.6,90.8 L307.6,88.2 L308.5,85.5 L309.4,82.9 L310.2,80.2 L311.1,77.6 L311.9,74.9 L312.7,72.2 L313.5,69.5 L314.2,66.8 L314.9,64.1 L315.6,61.3 L316.3,58.6 L316.9,55.9 L317.5,53.1 L318.1,50.4 L318.6,47.6 L319.2,44.9 L319.6,42.1 L320.1,39.3 L320.5,36.5 L320.9,33.7 L321.3,30.9 L321.7,28.1 L322.0,25.3 L322.2,22.5 L322.5,19.7 L322.7,16.9 L322.9,14.1 L323.0,11.3 L323.1,8.5 L323.2,5.6 L323.3,2.8Z" fill="#fee7c5"/>
<path d="M276.8,-0.0 L276.8,-2.4 L276.7,-4.8 L276.6,-7.2 L276.5,-9.7 L276.4,-12.1 L276.2,-14.5 L276.0,-16.9 L275.8,-19.3 L275.5,-21.7 L275.2,-24.1 L274.9,-26.5 L274.5,-28.9 L274.1,-31.2 L273.7,-33.6 L273.3,-36.0 L272.8,-38.3 L272.4,-40.7 L271.9,-43.1 L271.3,-45.4 L270.8,-47.7 L270.2,-50.1 L269.6,-52.4 L269.0,-54.7 L268.4,-57.0 L267.7,-59.4 L267.1,-61.7 L266.4,-63.9 L265.7,-66.2 L264.9,-68.5 L264.2,-70.8 L263.4,-73.1 L262.7,-75.3 L261.9,-77.6 L261.1,-79.8 L260.3,-82.1 L259.5,-84.3 L258.6,-86.5 L257.8,-88.8 L256.9,-91.0 L256.1,-93.2 L255.2,-95.4 L254.3,-97.6 L253.4,-99.8 L252.5,-102.0 L251.6,-104.2 L250.6,-106.4 L249.7,-108.6 L248.7,-110.7 L247.8,-112.9 L246.8,-115.1 L245.7,-117.2 L244.7,-119.3 L243.6,-121.5 L242.6,-123.6 L241.5,-125.7 L240.4,-127.8 L239.2,-129.9 L238.1,-132.0 L236.9,-134.0 L235.7,-136.1 L234.5,-138.1 L233.3,-140.2 L232.1,-142.2 L230.8,-144.2 L229.5,-146.2 L228.3,-148.2 L226.9,-150.2 L225.6,-152.2 L224.3,-154.1 L222.9,-156.1 L221.6,-158.0 L220.2,-160.0 L218.8,-161.9 L217.3,-163.8 L215.9,-165.7 L214.4,-167.5 L213.0,-169.4 L211.5,-171.2 L210.0,-173.1 L208.4,-174.9 L206.9,-176.7 L205.4,-178.5 L203.8,-180.3 L202.2,-182.1 L200.6,-183.8 L199.0,-185.6 L197.4,-187.3 L195.7,-189.0 L194.1,-190.7 L192.4,-192.4 L190.7,-194.1 L189.0,-195.7 L187.3,-197.4 L185.6,-199.0 L183.8,-200.6 L182.1,-202.2 L180.3,-203.8 L178.5,-205.4 L176.7,-206.9 L174.9,-208.5 L173.1,-210.0 L171.3,-211.5 L169.4,-213.0 L167.5,-214.5 L165.7,-215.9 L163.8,-217.4 L161.9,-218.8 L160.0,-220.2 L158.1,-221.6 L156.1,-223.0 L154.2,-224.3 L152.2,-225.7 L150.2,-227.0 L148.3,-228.3 L146.3,-229.6 L144.3,-230.9 L142.3,-232.1 L140.2,-233.4 L138.2,-234.6 L136.1,-235.8 L134.1,-237.0 L132.0,-238.2 L129.9,-239.3 L127.9,-240.5 L125.8,-241.6 L123.7,-242.7 L121.5,-243.8 L119.4,-244.8 L117.3,-245.9 L115.1,-246.9 L113.0,-247.9 L110.8,-248.9 L108.6,-249.9 L106.5,-250.8 L104.3,-251.8 L102.1,-252.7 L99.9,-253.6 L97.7,-254.5 L95.5,-255.4 L93.3,-256.2 L91.0,-257.1 L88.8,-257.9 L86.6,-258.7 L84.3,-259.5 L82.1,-260.3 L79.8,-261.1 L77.6,-261.8 L75.3,-262.6 L73.0,-263.3 L70.7,-264.0 L68.5,-264.7 L66.2,-265.4 L63.9,-266.0 L61.6,-266.7 L59.3,-267.3 L56.9,-267.9 L54.6,-268.4 L52.3,-269.0 L50.0,-269.5 L47.6,-270.0 L45.3,-270.5 L42.9,-271.0 L40.6,-271.5 L38.2,-271.9 L35.8,-272.3 L33.5,-272.7 L31.1,-273.0 L28.7,-273.3 L26.3,-273.6 L24.0,-273.9 L21.6,-274.2 L19.2,-274.4 L16.8,-274.6 L14.4,-274.8 L12.0,-274.9 L9.6,-275.1 L7.2,-275.2 L4.8,-275.2 L2.4,-275.3 L0.0,-275.3 L-2.4,-275.3 L-4.8,-275.3 L-7.2,-275.2 L-9.6,-275.1 L-12.0,-275.0 L-14.4,-274.9 L-16.8,-274.8 L-19.2,-274.6 L-21.6,-274.4 L-24.0,-274.2 L-26.4,-274.0 L-28.8,-273.7 L-31.2,-273.5 L-33.5,-273.2 L-35.9,-272.8 L-38.3,-272.5 L-40.7,-272.1 L-43.0,-271.8 L-45.4,-271.4 L-47.8,-270.9 L-50.1,-270.5 L-52.5,-270.0 L-54.8,-269.6 L-57.2,-269.1 L-59.5,-268.5 L-61.9,-268.0 L-64.2,-267.4 L-66.5,-266.8 L-68.8,-266.2 L-71.2,-265.6 L-73.5,-264.9 L-75.8,-264.3 L-78.1,-263.6 L-80.4,-262.9 L-82.7,-262.2 L-84.9,-261.4 L-87.2,-260.6 L-89.5,-259.8 L-91.7,-259.0 L-94.0,-258.2 L-96.2,-257.4 L-98.5,-256.5 L-100.7,-255.6 L-102.9,-254.7 L-105.1,-253.8 L-107.3,-252.8 L-109.5,-251.9 L-111.7,-250.9 L-113.9,-249.9 L-116.1,-248.9 L-118.2,-247.9 L-120.4,-246.8 L-122.5,-245.7 L-124.6,-244.6 L-126.8,-243.5 L-128.9,-242.4 L-131.0,-241.2 L-133.1,-240.1 L-135.2,-238.9 L-137.2,-237.7 L-139.3,-236.5 L-141.3,-235.2 L-143.4,-234.0 L-145.4,-232.7 L-147.4,-231.4 L-149.4,-230.1 L-151.4,-228.8 L-153.4,-227.4 L-155.4,-226.1 L-157.3,-224.7 L-159.3,-223.3 L-161.2,-221.9 L-163.1,-220.4 L-165.0,-219.0 L-166.9,-217.5 L-168.8,-216.0 L-170.7,-214.5 L-172.5,-213.0 L-174.3,-211.5 L-176.2,-209.9 L-178.0,-208.4 L-179.8,-206.8 L-181.6,-205.2 L-183.3,-203.6 L-185.1,-202.0 L-186.8,-200.3 L-188.5,-198.7 L-190.2,-197.0 L-191.9,-195.3 L-193.6,-193.6 L-195.3,-191.9 L-196.9,-190.2 L-198.5,-188.4 L-200.1,-186.6 L-201.7,-184.9 L-203.3,-183.1 L-204.9,-181.3 L-206.4,-179.4 L-207.9,-177.6 L-209.5,-175.8 L-210.9,-173.9 L-212.4,-172.0 L-213.9,-170.1 L-215.3,-168.2 L-216.7,-166.3 L-218.1,-164.4 L-219.5,-162.4 L-220.9,-160.5 L-222.2,-158.5 L-223.6,-156.5 L-224.9,-154.5 L-226.1,-152.5 L-227.4,-150.5 L-228.7,-148.5 L-229.9,-146.5 L-231.1,-144.4 L-232.3,-142.4 L-233.5,-140.3 L-234.6,-138.2 L-235.8,-136.1 L-236.9,-134.0 L-238.0,-131.9 L-239.1,-129.8 L-240.1,-127.7 L-241.1,-125.5 L-242.2,-123.4 L-243.2,-121.2 L-244.1,-119.1 L-245.1,-116.9 L-246.0,-114.7 L-246.9,-112.5 L-247.8,-110.3 L-248.7,-108.1 L-249.5,-105.9 L-250.4,-103.7 L-251.2,-101.5 L-251.9,-99.2 L-252.7,-97.0 L-253.4,-94.7 L-254.1,-92.5 L-254.7,-90.2 L-255.3,-87.9 L-255.9,-85.6 L-256.4,-83.3 L-257.0,-81.0 L-257.5,-78.7 L-257.9,-76.4 L-258.4,-74.1 L-258.8,-71.8 L-259.2,-69.4 L-259.5,-67.1 L-259.9,-64.8 L-260.2,-62.5 L-260.5,-60.1 L-260.8,-57.8 L-261.0,-55.5 L-261.3,-53.2 L-261.5,-50.8 L-261.7,-48.5 L-261.8,-46.2 L-262.0,-43.8 L-262.1,-41.5 L-262.3,-39.2 L-262.4,-36.9 L-262.5,-34.6 L-262.5,-32.2 L-262.6,-29.9 L-262.7,-27.6 L-262.7,-25.3 L-262.8,-23.0 L-262.8,-20.7 L-262.8,-18.4 L-262.8,-16.1 L-262.8,-13.8 L-262.8,-11.5 L-262.8,-9.2 L-262.8,-6.9 L-262.8,-4.6 L-262.7,-2.3 L-262.7,-0.0 L-262.7,2.3 L-262.6,4.6 L-262.5,6.9 L-262.4,9.2 L-262.3,11.5 L-262.2,13.7 L-262.0,16.0 L-261.8,18.3 L-261.7,20.6 L-261.4,22.9 L-261.2,25.2 L-261.0,27.4 L-260.7,29.7 L-260.4,32.0 L-260.1,34.2 L-259.8,36.5 L-259.4,38.8 L-259.0,41.0 L-258.7,43.3 L-258.2,45.5 L-257.8,47.8 L-257.4,50.0 L-256.9,52.3 L-256.4,54.5 L-255.9,56.7 L-255.4,59.0 L-254.9,61.2 L-254.3,63.4 L-253.7,65.6 L-253.2,67.8 L-252.5,70.0 L-251.9,72.2 L-251.3,74.4 L-250.6,76.6 L-249.9,78.8 L-249.2,81.0 L-248.5,83.1 L-247.7,85.3 L-247.0,87.5 L-246.2,89.6 L-245.4,91.8 L-244.6,93.9 L-243.8,96.0 L-242.9,98.1 L-242.1,100.3 L-241.2,102.4 L-240.3,104.5 L-239.4,106.6 L-238.4,108.7 L-237.5,110.7 L-236.5,112.8 L-235.5,114.9 L-234.5,116.9 L-233.5,119.0 L-232.4,121.0 L-231.4,123.0 L-230.3,125.1 L-229.2,127.1 L-228.1,129.1 L-227.0,131.1 L-225.9,133.0 L-224.7,135.0 L-223.5,137.0 L-222.3,138.9 L-221.1,140.9 L-219.9,142.8 L-218.7,144.7 L-217.4,146.7 L-216.1,148.6 L-214.9,150.4 L-213.6,152.3 L-212.2,154.2 L-210.9,156.1 L-209.6,157.9 L-208.2,159.7 L-206.8,161.6 L-205.4,163.4 L-204.0,165.2 L-202.6,167.0 L-201.1,168.8 L-199.7,170.5 L-198.2,172.3 L-196.7,174.0 L-195.2,175.7 L-193.7,177.5 L-192.1,179.2 L-190.6,180.8 L-189.0,182.5 L-187.4,184.2 L-185.8,185.8 L-184.2,187.5 L-182.6,189.1 L-181.0,190.7 L-179.3,192.3 L-177.7,193.9 L-176.0,195.5 L-174.3,197.1 L-172.7,198.6 L-171.0,200.2 L-169.2,201.7 L-167.5,203.2 L-165.8,204.7 L-164.0,206.2 L-162.3,207.7 L-160.5,209.2 L-158.7,210.6 L-156.9,212.1 L-155.1,213.5 L-153.3,214.9 L-151.5,216.3 L-149.6,217.7 L-147.7,219.0 L-145.9,220.4 L-144.0,221.7 L-142.1,223.0 L-140.2,224.3 L-138.3,225.6 L-136.3,226.9 L-134.4,228.1 L-132.4,229.3 L-130.4,230.5 L-128.4,231.7 L-126.5,232.9 L-124.4,234.0 L-122.4,235.2 L-120.4,236.3 L-118.3,237.3 L-116.3,238.4 L-114.2,239.4 L-112.1,240.5 L-110.0,241.5 L-107.9,242.4 L-105.8,243.4 L-103.7,244.3 L-101.6,245.2 L-99.4,246.1 L-97.3,246.9 L-95.1,247.7 L-92.9,248.5 L-90.7,249.2 L-88.5,249.9 L-86.3,250.6 L-84.1,251.3 L-81.9,251.9 L-79.6,252.5 L-77.4,253.1 L-75.1,253.6 L-72.9,254.1 L-70.6,254.6 L-68.4,255.1 L-66.1,255.5 L-63.8,256.0 L-61.5,256.4 L-59.3,256.7 L-57.0,257.1 L-54.7,257.4 L-52.4,257.7 L-50.1,258.0 L-47.9,258.3 L-45.6,258.5 L-43.3,258.7 L-41.0,258.9 L-38.7,259.1 L-36.4,259.3 L-34.2,259.5 L-31.9,259.6 L-29.6,259.7 L-27.3,259.8 L-25.0,259.9 L-22.8,260.0 L-20.5,260.1 L-18.2,260.2 L-15.9,260.2 L-13.6,260.3 L-11.4,260.3 L-9.1,260.4 L-6.8,260.4 L-4.5,260.4 L-2.3,260.4 L-0.0,260.4 L2.3,260.4 L4.5,260.4 L6.8,260.4 L9.1,260.4 L11.4,260.4 L13.6,260.4 L15.9,260.4 L18.2,260.4 L20.5,260.3 L22.8,260.3 L25.1,260.3 L27.4,260.2 L29.6,260.2 L31.9,260.1 L34.2,260.1 L36.5,260.0 L38.8,259.9 L41.1,259.8 L43.5,259.7 L45.8,259.5 L48.1,259.4 L50.4,259.2 L52.7,259.0 L55.0,258.8 L57.3,258.6 L59.7,258.4 L62.0,258.1 L64.3,257.9 L66.6,257.6 L68.9,257.3 L71.2,256.9 L73.6,256.6 L75.9,256.2 L78.2,255.8 L80.5,255.3 L82.8,254.9 L85.1,254.4 L87.4,253.9 L89.7,253.3 L92.0,252.8 L94.3,252.2 L96.5,251.5 L98.8,250.9 L101.1,250.2 L103.3,249.4 L105.6,248.7 L107.8,247.9 L110.0,247.2 L112.3,246.4 L114.5,245.5 L116.7,244.7 L118.9,243.9 L121.2,243.0 L123.4,242.1 L125.6,241.2 L127.8,240.3 L129.9,239.3 L132.1,238.4 L134.3,237.4 L136.5,236.4 L138.6,235.3 L140.8,234.3 L142.9,233.2 L145.1,232.1 L147.2,231.0 L149.3,229.9 L151.4,228.7 L153.5,227.6 L155.6,226.4 L157.6,225.1 L159.7,223.9 L161.7,222.6 L163.8,221.3 L165.8,220.0 L167.8,218.7 L169.8,217.3 L171.8,215.9 L173.7,214.5 L175.6,213.1 L177.6,211.6 L179.5,210.1 L181.4,208.6 L183.2,207.1 L185.1,205.5 L186.9,204.0 L188.7,202.4 L190.5,200.7 L192.3,199.1 L194.0,197.4 L195.7,195.7 L197.4,194.0 L199.1,192.3 L200.8,190.5 L202.4,188.8 L204.1,187.0 L205.7,185.2 L207.3,183.4 L208.9,181.6 L210.5,179.8 L212.0,177.9 L213.6,176.1 L215.1,174.2 L216.6,172.3 L218.1,170.4 L219.6,168.5 L221.1,166.6 L222.5,164.6 L223.9,162.7 L225.3,160.7 L226.7,158.8 L228.1,156.8 L229.5,154.8 L230.8,152.8 L232.1,150.8 L233.5,148.7 L234.7,146.7 L236.0,144.6 L237.3,142.6 L238.5,140.5 L239.7,138.4 L240.9,136.3 L242.1,134.2 L243.3,132.1 L244.4,129.9 L245.5,127.8 L246.6,125.7 L247.7,123.5 L248.8,121.3 L249.8,119.2 L250.9,117.0 L251.9,114.8 L252.9,112.6 L253.8,110.4 L254.8,108.2 L255.7,105.9 L256.6,103.7 L257.5,101.4 L258.4,99.2 L259.3,96.9 L260.1,94.7 L260.9,92.4 L261.7,90.1 L262.5,87.8 L263.3,85.5 L264.0,83.2 L264.7,80.9 L265.4,78.6 L266.1,76.3 L266.7,74.0 L267.4,71.6 L268.0,69.3 L268.6,67.0 L269.2,64.6 L269.7,62.3 L270.2,59.9 L270.8,57.5 L271.2,55.2 L271.7,52.8 L272.2,50.4 L272.6,48.1 L273.0,45.7 L273.4,43.3 L273.8,40.9 L274.1,38.5 L274.4,36.1 L274.7,33.7 L275.0,31.3 L275.3,28.9 L275.5,26.5 L275.7,24.1 L275.9,21.7 L276.1,19.3 L276.3,16.9 L276.4,14.5 L276.5,12.1 L276.6,9.7 L276.7,7.2 L276.8,4.8 L276.8,2.4Z" fill="#fff2e0"/>
<path d="M-368.9,-328.8 L-375.7,-312.1 L-381.6,-292.6 L-385.5,-273.0 L-391.4,-253.4 L-400.3,-235.3 L-404.2,-220.6 L-408.1,-205.9 L-412.0,-193.2 L-415.9,-183.4 L-419.9,-174.6 L-425.7,-167.8 L-435.5,-164.8 L-445.3,-162.4 L-457.0,-160.0 L-467.8,-158.0 L-484.0,-155.3 L-495.1,-158.9 L-489.3,-176.1 L-482.8,-193.0 L-475.8,-209.8 L-468.2,-226.2 L-460.0,-242.4 L-451.3,-258.3 L-442.0,-273.9 L-432.2,-289.2 L-421.8,-304.1 L-410.9,-318.6 L-399.6,-332.8 L-387.7,-346.5Z" fill="#b50302"/>
<path d="M-404.1,-282.8 L-407.0,-268.1 L-411.9,-253.4 L-417.8,-236.8 L-418.9,-235.3 L-422.8,-220.6 L-425.7,-205.9 L-429.6,-194.2 L-435.5,-184.4 L-441.4,-176.6 L-446.3,-171.7 L-457.0,-167.8 L-465.8,-165.8 L-482.0,-163.3 L-492.5,-166.9 L-486.4,-183.9 L-479.7,-200.8 L-472.4,-217.4 L-464.5,-233.8 L-456.0,-249.8 L-447.0,-265.6 L-437.5,-281.0 L-427.4,-296.1Z" fill="#910000"/>
<path d="M11.0,500.7 L19.2,494.5 L35.4,490.1 L57.4,485.0 L72.0,485.0 L78.0,490.7 L82.0,506.7 L11.0,512.7Z" fill="#910000"/></g>
</g>
<g clip-path="url(#cd2)">
<g transform="translate(2052.6,595.3)"><circle r="500" fill="#b50302"/>
<path d="M500.0,-0.0 L500.0,-4.4 L499.9,-8.7 L499.8,-13.1 L499.7,-17.4 L499.5,-21.8 L499.3,-26.2 L499.1,-30.5 L498.8,-34.9 L498.5,-39.2 L498.1,-43.6 L497.7,-47.9 L497.3,-52.3 L496.8,-56.6 L496.3,-60.9 L495.7,-65.3 L495.1,-69.6 L494.5,-73.9 L493.8,-78.2 L493.1,-82.5 L492.4,-86.8 L491.6,-91.1 L490.8,-95.4 L490.0,-99.7 L489.1,-104.0 L488.1,-108.2 L487.2,-112.5 L486.2,-116.7 L485.1,-121.0 L484.1,-125.2 L483.0,-129.4 L481.8,-133.6 L480.6,-137.8 L479.4,-142.0 L478.2,-146.2 L476.9,-150.4 L475.5,-154.5 L474.2,-158.7 L472.8,-162.8 L471.3,-166.9 L469.8,-171.0 L468.3,-175.1 L466.8,-179.2 L465.2,-183.3 L463.6,-187.3 L461.9,-191.3 L460.3,-195.4 L458.5,-199.4 L456.8,-203.4 L455.0,-207.3 L453.2,-211.3 L451.3,-215.3 L449.4,-219.2 L447.5,-223.1 L445.5,-227.0 L443.5,-230.9 L441.5,-234.7 L439.4,-238.6 L437.3,-242.4 L435.2,-246.2 L433.0,-250.0 L430.8,-253.8 L428.6,-257.5 L426.3,-261.2 L424.0,-265.0 L421.7,-268.6 L419.3,-272.3 L416.9,-276.0 L414.5,-279.6 L412.1,-283.2 L409.6,-286.8 L407.1,-290.4 L404.5,-293.9 L401.9,-297.4 L399.3,-300.9 L396.7,-304.4 L394.0,-307.8 L391.3,-311.3 L388.6,-314.7 L385.8,-318.0 L383.0,-321.4 L380.2,-324.7 L377.4,-328.0 L374.5,-331.3 L371.6,-334.6 L368.6,-337.8 L365.7,-341.0 L362.7,-344.2 L359.7,-347.3 L356.6,-350.5 L353.6,-353.6 L350.5,-356.6 L347.3,-359.7 L344.2,-362.7 L341.0,-365.7 L337.8,-368.6 L334.6,-371.6 L331.3,-374.5 L328.0,-377.4 L324.7,-380.2 L321.4,-383.0 L318.0,-385.8 L314.7,-388.6 L311.3,-391.3 L307.8,-394.0 L304.4,-396.7 L300.9,-399.3 L297.4,-401.9 L293.9,-404.5 L290.4,-407.1 L286.8,-409.6 L283.2,-412.1 L279.6,-414.5 L276.0,-416.9 L272.3,-419.3 L268.6,-421.7 L265.0,-424.0 L261.2,-426.3 L257.5,-428.6 L253.8,-430.8 L250.0,-433.0 L246.2,-435.2 L242.4,-437.3 L238.6,-439.4 L234.7,-441.5 L230.9,-443.5 L227.0,-445.5 L223.1,-447.5 L219.2,-449.4 L215.3,-451.3 L211.3,-453.2 L207.3,-455.0 L203.4,-456.8 L199.4,-458.5 L195.4,-460.3 L191.3,-461.9 L187.3,-463.6 L183.3,-465.2 L179.2,-466.8 L175.1,-468.3 L171.0,-469.8 L166.9,-471.3 L162.8,-472.8 L158.7,-474.2 L154.5,-475.5 L150.4,-476.9 L146.2,-478.2 L142.0,-479.4 L137.8,-480.6 L133.6,-481.8 L129.4,-483.0 L125.2,-484.1 L121.0,-485.1 L116.7,-486.2 L112.5,-487.2 L108.2,-488.1 L104.0,-489.1 L99.7,-490.0 L95.4,-490.8 L91.1,-491.6 L86.8,-492.4 L82.5,-493.1 L78.2,-493.8 L73.9,-494.5 L69.6,-495.1 L65.3,-495.7 L60.9,-496.3 L56.6,-496.8 L52.3,-497.3 L47.9,-497.7 L43.6,-498.1 L39.2,-498.5 L34.9,-498.8 L30.5,-499.1 L26.2,-499.3 L21.8,-499.5 L17.4,-499.7 L13.1,-499.8 L8.7,-499.9 L4.4,-500.0 L0.0,-500.0 L-4.4,-500.0 L-8.7,-499.9 L-13.1,-499.8 L-17.4,-499.7 L-21.8,-499.5 L-26.2,-499.3 L-30.5,-499.1 L-34.9,-498.8 L-39.2,-498.5 L-43.6,-498.1 L-47.9,-497.7 L-52.3,-497.3 L-56.6,-496.8 L-60.9,-496.3 L-65.3,-495.7 L-69.6,-495.1 L-73.9,-494.5 L-78.2,-493.8 L-82.5,-493.1 L-86.8,-492.4 L-91.1,-491.6 L-95.4,-490.8 L-99.7,-490.0 L-104.0,-489.1 L-108.2,-488.1 L-112.5,-487.2 L-116.7,-486.2 L-121.0,-485.1 L-125.2,-484.1 L-129.4,-483.0 L-133.6,-481.8 L-137.8,-480.6 L-142.0,-479.4 L-146.2,-478.2 L-150.4,-476.9 L-154.5,-475.5 L-158.7,-474.2 L-162.8,-472.8 L-166.9,-471.3 L-171.0,-469.8 L-175.1,-468.3 L-179.2,-466.8 L-183.3,-465.2 L-187.3,-463.6 L-191.3,-461.9 L-195.4,-460.3 L-199.4,-458.5 L-203.4,-456.8 L-207.3,-455.0 L-211.3,-453.2 L-215.3,-451.3 L-219.2,-449.4 L-223.1,-447.5 L-227.0,-445.5 L-230.9,-443.5 L-234.7,-441.5 L-238.6,-439.4 L-242.4,-437.3 L-246.2,-435.2 L-250.0,-433.0 L-253.8,-430.8 L-257.5,-428.6 L-261.2,-426.3 L-265.0,-424.0 L-268.6,-421.7 L-272.3,-419.3 L-276.0,-416.9 L-279.6,-414.5 L-283.2,-412.1 L-286.8,-409.6 L-290.4,-407.1 L-293.9,-404.5 L-297.4,-401.9 L-300.9,-399.3 L-304.4,-396.7 L-307.8,-394.0 L-311.3,-391.3 L-314.7,-388.6 L-318.0,-385.8 L-321.4,-383.0 L-324.7,-380.2 L-328.0,-377.4 L-331.3,-374.5 L-334.6,-371.6 L-337.8,-368.6 L-341.0,-365.7 L-344.2,-362.7 L-347.3,-359.7 L-350.5,-356.6 L-353.6,-353.6 L-356.6,-350.5 L-359.7,-347.3 L-362.7,-344.2 L-365.7,-341.0 L-368.6,-337.8 L-371.6,-334.6 L-374.5,-331.3 L-377.4,-328.0 L-380.2,-324.7 L-383.0,-321.4 L-385.8,-318.0 L-388.6,-314.7 L-391.3,-311.3 L-394.0,-307.8 L-396.7,-304.4 L-399.3,-300.9 L-401.9,-297.4 L-404.5,-293.9 L-407.1,-290.4 L-409.6,-286.8 L-412.1,-283.2 L-414.5,-279.6 L-416.9,-276.0 L-419.3,-272.3 L-421.7,-268.6 L-424.0,-265.0 L-426.3,-261.2 L-428.6,-257.5 L-430.8,-253.8 L-433.0,-250.0 L-435.2,-246.2 L-437.3,-242.4 L-439.4,-238.6 L-441.5,-234.7 L-443.5,-230.9 L-445.5,-227.0 L-447.5,-223.1 L-449.4,-219.2 L-451.3,-215.3 L-453.2,-211.3 L-455.0,-207.3 L-456.8,-203.4 L-458.5,-199.4 L-460.3,-195.4 L-461.9,-191.3 L-463.6,-187.3 L-465.2,-183.3 L-466.8,-179.2 L-468.3,-175.1 L-469.8,-171.0 L-471.3,-166.9 L-472.8,-162.8 L-474.2,-158.7 L-475.5,-154.5 L-476.9,-150.4 L-478.2,-146.2 L-479.4,-142.0 L-480.6,-137.8 L-481.8,-133.6 L-483.0,-129.4 L-484.1,-125.2 L-485.1,-121.0 L-486.2,-116.7 L-487.2,-112.5 L-488.1,-108.2 L-489.1,-104.0 L-490.0,-99.7 L-490.8,-95.4 L-491.6,-91.1 L-492.4,-86.8 L-493.1,-82.5 L-493.8,-78.2 L-494.5,-73.9 L-495.1,-69.6 L-495.7,-65.3 L-496.3,-60.9 L-496.8,-56.6 L-497.3,-52.3 L-497.7,-47.9 L-498.1,-43.6 L-498.5,-39.2 L-498.8,-34.9 L-499.1,-30.5 L-499.3,-26.2 L-499.5,-21.8 L-499.7,-17.4 L-499.8,-13.1 L-499.9,-8.7 L-500.0,-4.4 L-500.0,-0.0 L-500.0,4.4 L-499.9,8.7 L-499.8,13.1 L-499.7,17.4 L-499.5,21.8 L-499.3,26.2 L-499.1,30.5 L-498.8,34.9 L-498.5,39.2 L-498.1,43.6 L-497.7,47.9 L-497.3,52.3 L-496.8,56.6 L-496.3,60.9 L-495.7,65.3 L-495.1,69.6 L-494.5,73.9 L-493.8,78.2 L-493.1,82.5 L-492.4,86.8 L-491.6,91.1 L-490.8,95.4 L-490.0,99.7 L-489.1,104.0 L-488.1,108.2 L-487.2,112.5 L-486.2,116.7 L-485.1,121.0 L-484.1,125.2 L-483.0,129.4 L-481.8,133.6 L-480.6,137.8 L-479.4,142.0 L-478.2,146.2 L-476.9,150.4 L-475.5,154.5 L-474.2,158.7 L-472.8,162.8 L-471.3,166.9 L-469.8,171.0 L-468.3,175.1 L-466.8,179.2 L-465.2,183.2 L-463.6,187.3 L-461.9,191.3 L-460.2,195.3 L-458.5,199.3 L-456.7,203.3 L-454.9,207.3 L-453.0,211.2 L-451.1,215.2 L-449.2,219.1 L-447.2,223.0 L-445.2,226.8 L-443.2,230.7 L-441.1,234.5 L-439.0,238.3 L-436.8,242.1 L-434.7,245.9 L-432.4,249.7 L-430.2,253.4 L-427.9,257.1 L-425.6,260.8 L-423.2,264.5 L-420.8,268.1 L-418.4,271.7 L-416.0,275.3 L-413.5,278.9 L-410.9,282.4 L-408.4,286.0 L-405.8,289.5 L-403.2,292.9 L-400.5,296.4 L-397.8,299.8 L-395.1,303.2 L-392.4,306.6 L-389.6,309.9 L-386.8,313.2 L-384.0,316.5 L-381.1,319.8 L-378.2,323.0 L-375.3,326.2 L-372.3,329.4 L-369.3,332.6 L-366.3,335.7 L-363.2,338.7 L-360.0,341.6 L-356.8,344.5 L-353.5,347.4 L-350.1,350.1 L-346.8,352.9 L-343.3,355.5 L-339.9,358.2 L-336.5,360.8 L-333.0,363.5 L-329.6,366.1 L-326.2,368.7 L-322.7,371.3 L-319.3,373.9 L-315.9,376.5 L-312.5,379.1 L-309.1,381.8 L-305.7,384.3 L-302.3,386.9 L-298.8,389.4 L-295.3,391.9 L-291.8,394.4 L-288.3,396.8 L-284.8,399.3 L-281.3,401.7 L-277.7,404.0 L-274.1,406.4 L-270.5,408.7 L-266.9,411.0 L-263.3,413.3 L-259.7,415.6 L-256.0,417.8 L-252.4,420.0 L-248.7,422.2 L-245.1,424.5 L-241.4,426.7 L-237.8,428.9 L-234.1,431.1 L-230.4,433.3 L-226.7,435.5 L-223.0,437.6 L-219.2,439.7 L-215.4,441.7 L-211.6,443.6 L-207.7,445.5 L-203.8,447.2 L-199.9,449.0 L-196.0,450.7 L-192.0,452.4 L-188.1,454.1 L-184.1,455.7 L-180.1,457.3 L-176.1,458.9 L-172.1,460.4 L-168.1,461.9 L-164.1,463.3 L-160.0,464.7 L-156.0,466.1 L-151.9,467.4 L-147.8,468.8 L-143.7,470.0 L-139.6,471.3 L-135.5,472.5 L-131.3,473.6 L-127.2,474.8 L-123.1,475.8 L-118.9,476.9 L-114.7,477.9 L-110.6,478.9 L-106.4,479.8 L-102.2,480.7 L-98.0,481.5 L-93.8,482.3 L-89.5,483.1 L-85.3,483.8 L-81.1,484.5 L-76.8,485.1 L-72.6,485.7 L-68.3,486.2 L-64.1,486.7 L-59.8,487.0 L-55.5,487.2 L-51.2,487.3 L-46.9,487.4 L-42.6,487.3 L-38.3,487.2 L-34.0,486.9 L-29.8,486.5 L-25.5,485.9 L-21.2,485.1 L-16.9,484.3 L-12.7,483.3 L-8.4,482.2 L-4.2,481.0 L-0.0,479.3 L4.2,477.4 L8.3,476.2 L12.4,475.3 L16.6,474.3 L20.7,473.5 L24.8,472.7 L28.9,472.0 L33.0,471.3 L37.0,470.7 L41.1,470.1 L45.2,469.5 L49.3,468.9 L53.4,468.3 L57.4,467.7 L61.5,467.1 L65.6,466.5 L69.7,466.3 L73.9,466.6 L78.2,467.3 L82.7,468.9 L87.8,473.9 L94.8,487.9 L99.1,487.0 L103.3,486.1 L107.6,485.2 L111.8,484.3 L116.0,483.3 L120.2,482.2 L123.7,478.4 L126.1,470.5 L129.7,467.9 L133.6,465.9 L137.5,464.0 L141.2,461.9 L144.9,459.7 L148.6,457.5 L152.4,455.4 L156.1,453.5 L160.0,451.9 L164.0,450.5 L167.9,449.2 L171.9,447.9 L175.9,446.6 L179.9,445.3 L183.9,443.9 L187.9,442.7 L191.9,441.4 L196.0,440.2 L200.1,439.1 L204.2,437.9 L208.3,436.7 L212.4,435.5 L216.5,434.3 L220.7,433.1 L224.8,431.9 L229.1,430.8 L233.4,429.9 L238.3,429.8 L243.4,430.2 L248.0,429.5 L252.0,427.8 L255.9,425.9 L259.8,424.0 L263.7,422.0 L267.5,419.9 L271.4,417.8 L275.1,415.7 L278.9,413.5 L282.6,411.2 L286.3,408.9 L290.0,406.5 L293.6,404.1 L297.2,401.6 L300.7,399.1 L304.3,396.5 L307.8,393.9 L311.2,391.3 L314.6,388.6 L318.0,385.8 L321.4,383.0 L324.7,380.2 L328.0,377.4 L331.3,374.5 L334.6,371.6 L337.8,368.6 L341.0,365.7 L344.2,362.7 L347.3,359.7 L350.5,356.6 L353.6,353.6 L356.6,350.5 L359.7,347.3 L362.7,344.2 L365.7,341.0 L368.6,337.8 L371.6,334.6 L374.5,331.3 L377.4,328.0 L380.2,324.7 L383.0,321.4 L385.8,318.0 L388.6,314.7 L391.3,311.3 L394.0,307.8 L396.7,304.4 L399.3,300.9 L401.9,297.4 L404.5,293.9 L407.1,290.4 L409.6,286.8 L412.1,283.2 L414.5,279.6 L416.9,276.0 L419.3,272.3 L421.7,268.6 L424.0,265.0 L426.3,261.2 L428.6,257.5 L430.8,253.8 L433.0,250.0 L435.2,246.2 L437.3,242.4 L439.4,238.6 L441.5,234.7 L443.5,230.9 L445.5,227.0 L447.5,223.1 L449.4,219.2 L451.3,215.3 L453.2,211.3 L455.0,207.3 L456.8,203.4 L458.5,199.4 L460.3,195.4 L461.9,191.3 L463.6,187.3 L465.2,183.3 L466.8,179.2 L468.3,175.1 L469.8,171.0 L471.3,166.9 L472.8,162.8 L474.2,158.7 L475.5,154.5 L476.9,150.4 L478.2,146.2 L479.4,142.0 L480.6,137.8 L481.8,133.6 L483.0,129.4 L484.1,125.2 L485.1,121.0 L486.2,116.7 L487.2,112.5 L488.1,108.2 L489.1,104.0 L490.0,99.7 L490.8,95.4 L491.6,91.1 L492.4,86.8 L493.1,82.5 L493.8,78.2 L494.5,73.9 L495.1,69.6 L495.7,65.3 L496.3,60.9 L496.8,56.6 L497.3,52.3 L497.7,47.9 L498.1,43.6 L498.5,39.2 L498.8,34.9 L499.1,30.5 L499.3,26.2 L499.5,21.8 L499.7,17.4 L499.8,13.1 L499.9,8.7 L500.0,4.4Z" fill="#d12719"/>
<path d="M-463.8,-59.3 L-464.3,-55.2 L-464.7,-51.2 L-465.1,-47.1 L-465.5,-43.1 L-465.8,-39.0 L-466.1,-34.9 L-466.4,-30.9 L-466.6,-26.8 L-466.8,-22.7 L-467.0,-18.6 L-467.1,-14.6 L-467.2,-10.5 L-467.3,-6.4 L-467.3,-2.3 L-467.3,1.7 L-467.3,5.8 L-467.2,9.9 L-467.1,14.0 L-467.0,18.1 L-466.9,22.1 L-466.7,26.2 L-466.5,30.3 L-466.2,34.4 L-466.0,38.4 L-465.7,42.5 L-465.3,46.6 L-465.0,50.6 L-464.6,54.7 L-464.1,58.7 L-463.7,62.8 L-463.2,66.9 L-462.6,70.9 L-462.1,75.0 L-461.5,79.0 L-460.8,83.0 L-460.2,87.1 L-459.5,91.1 L-458.7,95.1 L-458.0,99.1 L-457.2,103.1 L-456.3,107.1 L-455.4,111.1 L-454.5,115.1 L-453.6,119.1 L-452.6,123.1 L-451.5,127.0 L-450.5,131.0 L-449.4,134.9 L-448.2,138.9 L-447.1,142.8 L-445.8,146.7 L-444.6,150.6 L-443.3,154.5 L-442.0,158.4 L-440.6,162.2 L-439.2,166.1 L-437.7,169.9 L-436.3,173.7 L-434.7,177.5 L-433.2,181.3 L-431.6,185.1 L-430.0,188.9 L-428.3,192.6 L-426.6,196.3 L-424.9,200.1 L-423.1,203.8 L-421.3,207.4 L-419.5,211.1 L-417.6,214.8 L-415.8,218.4 L-413.8,222.0 L-411.9,225.6 L-409.9,229.2 L-407.9,232.8 L-405.8,236.3 L-403.8,239.9 L-401.7,243.4 L-399.5,246.9 L-397.4,250.4 L-395.2,253.8 L-392.9,257.3 L-390.7,260.7 L-388.4,264.1 L-386.1,267.5 L-383.7,270.8 L-381.3,274.2 L-378.9,277.5 L-376.5,280.8 L-374.0,284.0 L-371.5,287.3 L-369.0,290.5 L-366.5,293.7 L-363.9,296.9 L-361.3,300.1 L-358.7,303.2 L-356.0,306.4 L-353.3,309.5 L-350.6,312.5 L-347.9,315.6 L-345.1,318.6 L-342.3,321.6 L-339.5,324.6 L-336.6,327.5 L-333.8,330.5 L-330.9,333.4 L-328.0,336.2 L-325.0,339.1 L-322.1,341.9 L-319.1,344.7 L-316.1,347.5 L-313.0,350.3 L-310.0,353.0 L-306.9,355.7 L-303.8,358.4 L-300.6,361.0 L-297.5,363.6 L-294.3,366.2 L-291.1,368.8 L-287.9,371.3 L-284.6,373.8 L-281.4,376.3 L-278.1,378.8 L-274.8,381.2 L-271.5,383.6 L-268.1,386.0 L-264.8,388.3 L-261.4,390.6 L-258.0,392.9 L-254.5,395.2 L-251.1,397.4 L-247.6,399.6 L-244.2,401.8 L-240.7,403.9 L-237.1,406.1 L-233.7,408.2 L-230.2,410.4 L-226.7,412.6 L-223.2,414.8 L-219.7,417.0 L-216.2,419.2 L-212.7,421.3 L-209.2,423.5 L-205.6,425.6 L-202.0,427.6 L-198.4,429.6 L-194.7,431.6 L-191.0,433.4 L-187.3,435.2 L-183.5,436.9 L-179.7,438.5 L-175.8,439.9 L-171.9,441.1 L-167.9,442.4 L-164.0,443.6 L-160.0,444.8 L-156.0,445.9 L-152.1,447.0 L-148.1,448.1 L-144.1,449.2 L-140.1,450.2 L-136.1,451.1 L-132.1,452.1 L-128.1,453.0 L-124.0,453.8 L-120.0,454.6 L-116.0,455.4 L-111.9,456.1 L-107.9,456.8 L-103.8,457.4 L-99.8,458.0 L-95.7,458.6 L-91.6,459.1 L-87.6,459.6 L-83.5,460.0 L-79.4,460.3 L-75.3,460.6 L-71.2,460.9 L-67.1,461.0 L-63.1,461.1 L-59.0,461.2 L-54.9,461.1 L-50.8,461.1 L-46.7,461.0 L-42.6,460.8 L-38.6,460.7 L-34.5,460.5 L-30.5,460.3 L-26.4,460.0 L-22.4,459.7 L-18.3,459.4 L-14.3,459.1 L-10.3,458.7 L-6.3,458.4 L-2.3,458.0 L1.7,457.7 L5.7,457.3 L9.7,456.8 L13.7,456.4 L17.6,455.9 L21.6,455.4 L25.5,454.8 L29.5,454.3 L33.4,453.7 L37.4,453.1 L41.3,452.5 L45.2,451.9 L49.1,451.3 L53.1,450.7 L57.0,450.1 L60.9,449.5 L64.8,448.9 L68.8,448.6 L72.8,448.6 L76.9,448.9 L81.0,449.4 L85.1,450.0 L89.3,450.6 L93.5,451.1 L97.7,451.3 L101.8,451.4 L105.9,451.0 L109.9,450.2 L113.8,449.1 L117.6,447.9 L121.5,446.6 L125.3,445.2 L129.0,443.7 L132.8,442.2 L136.5,440.7 L140.3,439.2 L144.0,437.6 L147.8,436.2 L151.5,434.8 L155.3,433.5 L159.2,432.4 L163.2,431.5 L167.2,430.6 L171.1,429.7 L175.1,428.7 L178.9,427.4 L182.7,426.0 L186.5,424.5 L190.2,423.0 L194.0,421.4 L197.7,419.8 L201.4,418.2 L205.1,416.6 L208.8,414.9 L212.5,413.3 L216.3,411.8 L220.1,410.3 L224.0,408.9 L227.9,407.6 L231.9,406.3 L235.8,405.0 L239.8,403.7 L243.8,402.3 L247.8,400.9 L251.7,399.5 L255.6,397.9 L259.4,396.2 L263.2,394.5 L266.9,392.6 L270.7,390.7 L274.3,388.7 L278.0,386.7 L281.7,384.7 L285.3,382.6 L288.9,380.4 L292.5,378.3 L296.1,376.0 L299.6,373.8 L303.1,371.5 L306.6,369.1 L310.1,366.7 L313.5,364.3 L316.9,361.8 L320.3,359.3 L323.7,356.8 L327.0,354.2 L330.3,351.6 L333.6,348.9 L336.8,346.2 L340.1,343.5 L343.2,340.7 L346.4,337.9 L349.6,335.0 L352.7,332.2 L355.8,329.3 L358.8,326.4 L361.9,323.4 L364.9,320.4 L367.9,317.4 L370.9,314.4 L373.9,311.3 L376.8,308.2 L379.7,305.1 L382.5,302.0 L385.4,298.8 L388.2,295.6 L391.0,292.3 L393.7,289.1 L396.4,285.8 L399.1,282.4 L401.8,279.1 L404.4,275.7 L407.0,272.3 L409.5,268.9 L412.1,265.4 L414.6,261.9 L417.0,258.4 L419.4,254.9 L421.8,251.3 L424.1,247.7 L426.4,244.1 L428.7,240.4 L430.9,236.8 L433.1,233.1 L435.3,229.4 L437.4,225.6 L439.4,221.8 L441.4,218.0 L443.4,214.2 L445.4,210.4 L447.2,206.5 L449.1,202.6 L450.9,198.7 L452.6,194.8 L454.3,190.9 L456.0,186.9 L457.6,182.9 L459.2,178.9 L460.7,174.9 L462.3,170.9 L463.7,166.8 L465.2,162.8 L466.6,158.7 L468.0,154.6 L469.3,150.6 L470.6,146.5 L471.9,142.3 L473.1,138.2 L474.3,134.1 L475.4,129.9 L476.6,125.8 L477.6,121.6 L478.7,117.5 L479.7,113.3 L480.7,109.1 L481.6,104.9 L482.5,100.7 L483.4,96.5 L484.2,92.2 L485.0,88.0 L485.7,83.8 L486.5,79.5 L487.1,75.3 L487.8,71.0 L488.4,66.8 L488.9,62.5 L489.5,58.2 L490.0,54.0 L490.4,49.7 L490.8,45.4 L491.2,41.1 L491.6,36.8 L491.9,32.6 L492.1,28.3 L492.4,24.0 L492.6,19.7 L492.7,15.4 L492.9,11.1 L492.9,6.8 L493.0,2.5 L493.0,-1.8 L493.0,-6.1 L493.0,-10.4 L492.9,-14.7 L492.9,-19.1 L492.8,-23.4 L492.7,-27.7 L492.5,-32.0 L492.4,-36.3 L492.2,-40.6 L492.0,-44.9 L491.7,-49.2 L491.5,-53.5 L491.2,-57.8 L490.8,-62.1 L490.5,-66.4 L490.1,-70.7 L489.7,-75.1 L489.2,-79.4 L488.7,-83.7 L488.2,-88.0 L487.6,-92.3 L487.1,-96.6 L486.4,-100.9 L485.7,-105.1 L485.0,-109.4 L484.3,-113.7 L483.5,-118.0 L482.6,-122.3 L481.8,-126.5 L480.8,-130.8 L479.9,-135.0 L478.9,-139.2 L477.8,-143.5 L476.7,-147.7 L475.5,-151.9 L474.3,-156.1 L473.1,-160.3 L471.8,-164.4 L470.4,-168.6 L469.0,-172.7 L467.6,-176.8 L466.1,-180.9 L464.5,-185.0 L462.9,-189.0 L461.2,-193.1 L459.5,-197.1 L457.7,-201.0 L455.8,-205.0 L453.9,-208.9 L451.9,-212.8 L449.8,-216.6 L447.7,-220.4 L445.5,-224.2 L443.3,-227.9 L441.0,-231.7 L438.6,-235.3 L436.3,-239.0 L433.8,-242.6 L431.3,-246.2 L428.8,-249.7 L426.3,-253.2 L423.7,-256.7 L421.0,-260.2 L418.4,-263.6 L415.7,-267.0 L413.0,-270.4 L410.2,-273.7 L407.4,-277.0 L404.6,-280.3 L401.8,-283.6 L398.9,-286.8 L396.0,-290.0 L393.1,-293.2 L390.2,-296.4 L387.3,-299.5 L384.4,-302.6 L381.4,-305.7 L378.5,-308.8 L375.5,-311.9 L372.5,-314.9 L369.5,-318.0 L366.5,-321.0 L363.5,-324.1 L360.5,-327.1 L357.5,-330.1 L354.5,-333.1 L351.5,-336.1 L348.5,-339.1 L345.5,-342.1 L342.5,-345.1 L339.5,-348.1 L336.4,-351.0 L333.4,-353.9 L330.3,-356.8 L327.2,-359.7 L324.0,-362.6 L320.9,-365.4 L317.7,-368.2 L314.5,-371.0 L311.3,-373.8 L308.0,-376.5 L304.7,-379.2 L301.4,-381.9 L298.1,-384.5 L294.8,-387.2 L291.4,-389.8 L288.1,-392.3 L284.7,-394.9 L281.2,-397.4 L277.8,-399.9 L274.3,-402.4 L270.8,-404.8 L267.3,-407.2 L263.8,-409.6 L260.3,-411.9 L256.7,-414.2 L253.1,-416.5 L249.5,-418.8 L245.9,-421.0 L242.2,-423.2 L238.6,-425.4 L234.9,-427.5 L231.2,-429.6 L227.5,-431.7 L223.8,-433.8 L220.0,-435.8 L216.2,-437.8 L212.4,-439.7 L208.6,-441.7 L204.8,-443.5 L201.0,-445.4 L197.1,-447.2 L193.3,-449.0 L189.4,-450.8 L185.5,-452.5 L181.6,-454.2 L177.6,-455.9 L173.7,-457.6 L169.8,-459.3 L165.8,-460.9 L161.9,-462.6 L157.9,-464.2 L153.9,-465.8 L149.9,-467.4 L145.9,-468.9 L141.9,-470.5 L137.9,-472.0 L133.8,-473.5 L129.8,-474.9 L125.7,-476.3 L121.7,-477.7 L117.6,-479.1 L113.5,-480.4 L109.3,-481.8 L105.2,-483.0 L101.0,-484.3 L96.9,-485.5 L92.7,-486.6 L88.5,-487.7 L84.3,-488.8 L80.1,-489.9 L75.9,-490.9 L71.6,-491.8 L67.4,-492.7 L63.1,-493.6 L58.8,-494.4 L54.5,-495.2 L50.2,-495.9 L45.9,-496.5 L41.6,-497.1 L37.3,-497.7 L33.0,-498.2 L28.6,-498.6 L24.3,-499.0 L19.9,-499.3 L15.6,-499.6 L11.2,-499.8 L6.9,-499.9 L2.5,-500.0 L-1.9,-500.0 L-6.2,-499.9 L-10.6,-499.7 L-14.9,-499.3 L-19.3,-498.9 L-23.6,-498.3 L-27.9,-497.7 L-32.3,-496.9 L-36.5,-496.0 L-40.8,-495.0 L-45.1,-493.9 L-49.3,-492.7 L-53.5,-491.4 L-57.7,-490.0 L-61.8,-488.5 L-66.0,-486.9 L-70.0,-485.2 L-73.9,-482.1 L-77.7,-478.9 L-81.6,-476.8 L-85.5,-474.8 L-89.5,-473.0 L-93.5,-471.6 L-97.6,-470.6 L-101.7,-470.0 L-106.0,-469.7 L-110.2,-469.5 L-114.6,-469.5 L-118.9,-469.4 L-123.2,-469.3 L-127.5,-468.9 L-131.8,-468.5 L-136.1,-468.1 L-140.4,-467.6 L-144.7,-466.9 L-148.8,-465.8 L-152.9,-464.6 L-156.9,-463.2 L-161.0,-461.9 L-165.0,-460.5 L-169.1,-459.2 L-173.3,-458.2 L-177.5,-457.4 L-181.8,-456.5 L-186.0,-455.4 L-190.0,-453.9 L-194.0,-452.3 L-197.9,-450.6 L-201.9,-448.9 L-205.8,-447.1 L-209.7,-445.3 L-213.6,-443.5 L-217.5,-441.7 L-221.3,-439.8 L-225.1,-437.8 L-229.0,-435.9 L-232.8,-433.9 L-236.6,-431.8 L-240.3,-429.8 L-244.1,-427.7 L-247.9,-425.6 L-251.6,-423.5 L-255.3,-421.4 L-259.1,-419.2 L-262.8,-417.1 L-266.5,-414.8 L-270.1,-412.6 L-273.7,-410.2 L-277.2,-407.7 L-279.9,-404.1 L-282.3,-399.9 L-284.8,-396.2 L-285.7,-395.3 L-310.3,-375.7 L-333.8,-351.3 L-349.5,-331.7 L-362.2,-312.1 L-369.0,-292.6 L-373.9,-273.0 L-380.8,-253.4 L-390.7,-235.3 L-394.6,-220.6 L-397.5,-205.9 L-401.4,-191.3 L-404.4,-176.6 L-407.2,-164.8 L-409.3,-158.0 L-416.1,-154.1 L-430.8,-154.1 L-445.0,-152.1 L-457.3,-150.2 L-466.8,-149.2 L-473.8,-148.2 L-491.9,-145.3 L-491.9,-137.3 L-476.5,-137.5 L-475.0,-135.5 L-468.2,-127.7 L-459.6,-113.0 L-455.9,-98.3 L-454.9,-88.5 L-458.9,-73.9 L-463.8,-59.3Z" fill="#e44d35"/>
<path d="M-437.3,-59.3 L-437.8,-55.5 L-438.2,-51.7 L-438.6,-47.8 L-439.0,-44.0 L-439.4,-40.2 L-439.7,-36.3 L-440.0,-32.5 L-440.2,-28.6 L-440.4,-24.8 L-440.6,-21.0 L-440.8,-17.1 L-440.9,-13.3 L-441.0,-9.4 L-441.1,-5.6 L-441.1,-1.7 L-441.1,2.1 L-441.1,6.0 L-441.0,9.8 L-440.9,13.7 L-440.8,17.5 L-440.6,21.4 L-440.4,25.2 L-440.2,29.1 L-440.0,32.9 L-439.7,36.7 L-439.4,40.6 L-439.0,44.4 L-438.7,48.3 L-438.3,52.1 L-437.8,55.9 L-437.4,59.7 L-436.9,63.6 L-436.3,67.4 L-435.8,71.2 L-435.2,75.0 L-434.5,78.8 L-433.9,82.6 L-433.2,86.4 L-432.5,90.2 L-431.7,94.0 L-430.9,97.7 L-430.1,101.5 L-429.3,105.3 L-428.4,109.0 L-427.5,112.8 L-426.5,116.5 L-425.6,120.2 L-424.6,124.0 L-423.5,127.7 L-422.5,131.4 L-421.4,135.1 L-420.2,138.8 L-419.1,142.5 L-417.9,146.1 L-416.6,149.8 L-415.4,153.5 L-414.1,157.1 L-412.7,160.7 L-411.4,164.4 L-410.0,168.0 L-408.6,171.6 L-407.1,175.2 L-405.7,178.7 L-404.2,182.3 L-402.7,185.9 L-401.1,189.4 L-399.5,193.0 L-397.9,196.5 L-396.3,200.0 L-394.7,203.5 L-393.0,207.0 L-391.3,210.5 L-389.6,214.0 L-387.8,217.4 L-386.0,220.9 L-384.2,224.3 L-382.4,227.7 L-380.5,231.1 L-378.6,234.5 L-376.7,237.9 L-374.7,241.3 L-372.7,244.6 L-370.7,248.0 L-368.7,251.3 L-366.6,254.6 L-364.5,257.9 L-362.4,261.1 L-360.2,264.4 L-358.0,267.6 L-355.8,270.8 L-353.5,274.0 L-351.3,277.2 L-348.9,280.3 L-346.6,283.5 L-344.2,286.6 L-341.8,289.7 L-339.4,292.7 L-336.9,295.7 L-334.4,298.8 L-331.9,301.7 L-329.3,304.7 L-326.7,307.6 L-324.1,310.6 L-321.4,313.4 L-318.8,316.3 L-316.1,319.1 L-313.3,321.9 L-310.6,324.7 L-307.8,327.5 L-305.0,330.2 L-302.1,332.9 L-299.3,335.6 L-296.4,338.3 L-293.5,340.9 L-290.5,343.5 L-287.6,346.1 L-284.6,348.7 L-281.6,351.2 L-278.6,353.7 L-275.5,356.2 L-272.4,358.6 L-269.4,361.1 L-266.2,363.5 L-263.1,365.8 L-259.9,368.2 L-256.8,370.5 L-253.6,372.8 L-250.3,375.0 L-247.1,377.3 L-243.8,379.5 L-240.5,381.6 L-237.2,383.8 L-233.9,385.9 L-230.6,388.0 L-227.2,390.0 L-223.8,392.0 L-220.4,394.0 L-217.0,395.9 L-213.5,397.9 L-210.1,399.7 L-206.6,401.6 L-203.1,403.4 L-199.6,405.2 L-196.1,407.0 L-192.5,408.7 L-188.9,410.4 L-185.4,412.0 L-181.8,413.6 L-178.1,415.2 L-174.5,416.7 L-170.9,418.2 L-167.2,419.7 L-163.5,421.0 L-159.8,422.3 L-156.0,423.6 L-152.3,424.8 L-148.5,425.9 L-144.7,426.9 L-140.9,427.9 L-137.1,428.9 L-133.2,429.7 L-129.4,430.6 L-125.5,431.3 L-121.6,432.1 L-117.8,432.7 L-113.9,433.4 L-110.0,433.9 L-106.1,434.5 L-102.2,435.0 L-98.3,435.4 L-94.4,435.8 L-90.5,436.2 L-86.6,436.5 L-82.7,436.8 L-78.8,437.1 L-74.9,437.3 L-71.0,437.5 L-67.2,437.7 L-63.3,437.8 L-59.4,438.0 L-55.5,438.1 L-51.6,438.2 L-47.8,438.2 L-43.9,438.3 L-40.1,438.3 L-36.2,438.3 L-32.4,438.4 L-28.5,438.4 L-24.7,438.4 L-20.8,438.3 L-17.0,438.3 L-13.2,438.3 L-9.4,438.3 L-5.5,438.3 L-1.7,438.3 L2.1,438.3 L5.9,438.3 L9.8,438.2 L13.6,438.1 L17.4,438.0 L21.2,437.8 L25.1,437.7 L28.9,437.5 L32.7,437.2 L36.5,436.9 L40.3,436.6 L44.1,436.3 L48.0,436.0 L51.8,435.6 L55.6,435.2 L59.4,434.7 L63.2,434.2 L67.0,433.7 L70.8,433.2 L74.5,432.6 L78.3,432.0 L82.1,431.4 L85.9,430.7 L89.7,430.0 L93.4,429.3 L97.2,428.5 L100.9,427.7 L104.7,426.9 L108.4,426.1 L112.2,425.2 L115.9,424.3 L119.6,423.3 L123.3,422.4 L127.0,421.4 L130.7,420.3 L134.4,419.3 L138.1,418.2 L141.8,417.1 L145.5,415.9 L149.1,414.7 L152.8,413.5 L156.4,412.2 L160.0,411.0 L163.7,409.7 L167.3,408.3 L170.9,406.9 L174.5,405.6 L178.1,404.2 L181.7,402.7 L185.2,401.3 L188.8,399.9 L192.4,398.4 L196.0,396.9 L199.6,395.4 L203.1,393.9 L206.7,392.4 L210.2,390.8 L213.8,389.2 L217.3,387.6 L220.9,386.0 L224.4,384.4 L227.9,382.7 L231.5,381.0 L235.0,379.3 L238.5,377.5 L242.0,375.8 L245.4,374.0 L248.9,372.1 L252.4,370.3 L255.8,368.4 L259.3,366.5 L262.7,364.5 L266.1,362.5 L269.5,360.5 L272.9,358.5 L276.2,356.4 L279.6,354.3 L282.9,352.2 L286.2,350.0 L289.5,347.8 L292.8,345.5 L296.0,343.2 L299.3,340.9 L302.5,338.6 L305.7,336.2 L308.8,333.8 L312.0,331.3 L315.1,328.8 L318.2,326.3 L321.2,323.7 L324.3,321.1 L327.3,318.5 L330.3,315.9 L333.2,313.2 L336.2,310.5 L339.1,307.7 L342.0,305.0 L344.9,302.2 L347.8,299.4 L350.6,296.5 L353.4,293.7 L356.2,290.8 L359.0,287.8 L361.8,284.9 L364.5,281.9 L367.2,278.9 L369.9,275.9 L372.5,272.9 L375.1,269.8 L377.7,266.7 L380.3,263.5 L382.8,260.4 L385.3,257.2 L387.8,254.0 L390.3,250.8 L392.7,247.5 L395.1,244.2 L397.4,240.9 L399.8,237.6 L402.1,234.2 L404.3,230.8 L406.5,227.4 L408.7,224.0 L410.9,220.5 L413.0,217.1 L415.1,213.5 L417.2,210.0 L419.2,206.5 L421.2,202.9 L423.1,199.3 L425.0,195.7 L426.9,192.1 L428.7,188.4 L430.5,184.7 L432.3,181.0 L434.0,177.3 L435.6,173.6 L437.3,169.8 L438.9,166.0 L440.5,162.3 L442.0,158.5 L443.5,154.6 L445.0,150.8 L446.4,147.0 L447.8,143.1 L449.1,139.2 L450.5,135.3 L451.7,131.4 L453.0,127.5 L454.2,123.6 L455.4,119.7 L456.5,115.7 L457.6,111.8 L458.7,107.8 L459.8,103.8 L460.8,99.8 L461.7,95.8 L462.6,91.8 L463.5,87.8 L464.4,83.7 L465.2,79.7 L466.0,75.7 L466.7,71.6 L467.4,67.5 L468.1,63.5 L468.7,59.4 L469.3,55.3 L469.8,51.2 L470.4,47.1 L470.8,43.0 L471.3,38.9 L471.7,34.8 L472.1,30.7 L472.4,26.6 L472.7,22.5 L472.9,18.4 L473.1,14.2 L473.3,10.1 L473.5,6.0 L473.6,1.8 L473.6,-2.3 L473.7,-6.4 L473.7,-10.6 L473.6,-14.7 L473.5,-18.8 L473.4,-23.0 L473.3,-27.1 L473.1,-31.2 L472.9,-35.4 L472.6,-39.5 L472.3,-43.6 L472.0,-47.8 L471.6,-51.9 L471.2,-56.0 L470.8,-60.1 L470.3,-64.2 L469.8,-68.3 L469.2,-72.4 L468.6,-76.5 L468.0,-80.6 L467.3,-84.7 L466.6,-88.8 L465.8,-92.9 L465.0,-97.0 L464.2,-101.0 L463.3,-105.1 L462.4,-109.1 L461.4,-113.1 L460.4,-117.2 L459.4,-121.2 L457.8,-125.1 L455.5,-128.7 L452.7,-132.2 L449.9,-135.6 L446.6,-138.9 L442.7,-141.9 L439.1,-145.0 L436.7,-148.5 L435.7,-152.4 L435.1,-156.4 L434.7,-160.6 L434.5,-164.8 L434.1,-169.1 L433.5,-173.2 L432.5,-177.2 L431.1,-181.0 L429.5,-184.8 L427.9,-188.5 L426.2,-192.3 L424.5,-196.0 L422.8,-199.7 L421.0,-203.3 L419.2,-207.0 L417.3,-210.6 L415.3,-214.2 L413.4,-217.7 L411.3,-221.3 L409.3,-224.8 L407.2,-228.3 L405.1,-231.8 L402.9,-235.2 L400.7,-238.6 L398.4,-242.0 L396.1,-245.4 L393.8,-248.7 L391.5,-252.1 L389.1,-255.4 L386.7,-258.6 L384.3,-261.9 L381.8,-265.1 L379.3,-268.3 L376.8,-271.5 L374.2,-274.7 L371.7,-277.8 L369.1,-280.9 L366.5,-284.0 L363.8,-287.1 L361.2,-290.2 L358.5,-293.2 L355.8,-296.2 L353.1,-299.2 L350.4,-302.2 L347.6,-305.2 L344.9,-308.1 L342.1,-311.0 L339.3,-314.0 L336.5,-316.9 L333.7,-319.7 L330.9,-322.6 L328.0,-325.5 L325.2,-328.3 L322.3,-331.2 L319.4,-334.0 L316.5,-336.8 L313.5,-339.5 L310.6,-342.2 L307.6,-345.0 L304.6,-347.7 L301.6,-350.3 L298.5,-353.0 L295.4,-355.6 L292.4,-358.2 L289.2,-360.8 L286.1,-363.3 L283.0,-365.8 L279.8,-368.3 L276.6,-370.8 L273.4,-373.2 L270.1,-375.6 L266.9,-378.0 L263.6,-380.4 L260.3,-382.7 L257.0,-385.0 L253.7,-387.3 L250.3,-389.6 L247.0,-391.8 L243.6,-394.0 L240.2,-396.2 L236.7,-398.3 L233.3,-400.4 L229.8,-402.5 L226.3,-404.6 L222.8,-406.6 L219.3,-408.6 L215.8,-410.6 L212.2,-412.5 L208.6,-414.4 L205.0,-416.3 L201.4,-418.1 L197.8,-419.9 L194.2,-421.7 L190.5,-423.5 L186.8,-425.2 L183.2,-426.9 L179.4,-428.5 L175.7,-430.1 L172.0,-431.7 L168.3,-433.3 L164.5,-434.8 L160.7,-436.3 L157.0,-437.8 L153.2,-439.3 L149.4,-440.7 L145.6,-442.1 L141.7,-443.5 L137.9,-444.8 L134.0,-446.2 L130.2,-447.4 L126.3,-448.7 L122.4,-449.9 L118.5,-451.1 L114.6,-452.3 L110.7,-453.4 L106.8,-454.5 L102.8,-455.5 L98.9,-456.5 L94.9,-457.5 L91.0,-458.5 L87.0,-459.4 L83.0,-460.3 L79.0,-461.1 L75.0,-461.9 L71.0,-462.7 L67.0,-463.4 L62.9,-464.1 L58.9,-464.7 L54.9,-465.4 L50.8,-465.9 L46.7,-466.4 L42.7,-466.9 L38.6,-467.4 L34.5,-467.8 L30.5,-468.1 L26.4,-468.4 L22.3,-468.7 L18.2,-468.9 L14.1,-469.1 L10.0,-469.3 L5.9,-469.4 L1.8,-469.4 L-2.3,-469.4 L-6.4,-469.4 L-10.5,-469.3 L-14.6,-469.1 L-18.7,-469.0 L-22.7,-468.8 L-26.8,-468.5 L-30.9,-468.3 L-35.0,-467.9 L-39.1,-467.6 L-43.2,-467.2 L-47.2,-466.7 L-51.3,-466.3 L-55.4,-465.7 L-59.4,-465.2 L-63.5,-464.6 L-67.5,-464.0 L-71.5,-463.3 L-75.6,-462.6 L-79.6,-461.9 L-83.6,-461.1 L-87.6,-460.3 L-91.6,-459.4 L-95.6,-458.6 L-99.6,-457.7 L-103.6,-456.7 L-107.5,-455.7 L-111.5,-454.7 L-115.4,-453.6 L-119.4,-452.6 L-123.3,-451.4 L-127.2,-450.3 L-131.1,-449.1 L-135.0,-447.9 L-138.9,-446.6 L-142.8,-445.3 L-146.6,-444.0 L-150.5,-442.7 L-154.3,-441.3 L-158.2,-439.9 L-162.0,-438.4 L-165.8,-436.9 L-169.6,-435.4 L-173.4,-433.9 L-177.1,-432.3 L-180.9,-430.7 L-184.6,-429.1 L-188.3,-427.5 L-192.0,-425.8 L-195.7,-424.1 L-199.4,-422.3 L-203.1,-420.5 L-206.7,-418.7 L-210.4,-416.9 L-214.0,-415.0 L-217.6,-413.1 L-221.2,-411.2 L-224.8,-409.2 L-228.3,-407.2 L-231.8,-405.2 L-235.4,-403.1 L-238.8,-401.0 L-242.3,-398.9 L-245.8,-396.7 L-249.2,-394.5 L-252.6,-392.3 L-254.0,-391.4 L-270.1,-378.7 L-293.3,-356.2 L-315.2,-331.7 L-334.8,-309.2 L-344.6,-287.7 L-354.4,-263.2 L-364.2,-238.7 L-371.1,-235.3 L-375.0,-220.6 L-378.9,-205.9 L-382.8,-191.3 L-385.8,-176.6 L-387.7,-166.8 L-389.7,-158.0 L-395.7,-150.2 L-404.2,-145.3 L-418.4,-143.8 L-438.3,-144.8 L-453.9,-144.3 L-459.9,-141.4 L-461.6,-136.5 L-460.8,-129.6 L-457.2,-122.8 L-449.8,-113.0 L-441.2,-105.2 L-435.4,-96.4 L-433.4,-83.6 L-435.4,-69.0 L-437.3,-59.3Z" fill="#f2704c"/>
<path d="M-411.9,-59.3 L-412.4,-55.7 L-412.9,-52.1 L-413.3,-48.5 L-413.8,-44.9 L-414.2,-41.3 L-414.5,-37.7 L-414.9,-34.1 L-415.2,-30.4 L-415.5,-26.8 L-415.7,-23.2 L-416.0,-19.6 L-416.1,-15.9 L-416.3,-12.3 L-416.4,-8.7 L-416.5,-5.0 L-416.5,-1.4 L-416.5,2.2 L-416.5,5.9 L-416.4,9.5 L-416.3,13.1 L-416.2,16.8 L-416.0,20.4 L-415.8,24.0 L-415.6,27.7 L-415.3,31.3 L-415.0,34.9 L-414.7,38.5 L-414.3,42.1 L-414.0,45.8 L-413.5,49.4 L-413.1,53.0 L-412.6,56.6 L-412.1,60.2 L-411.6,63.8 L-411.0,67.4 L-410.4,70.9 L-409.7,74.5 L-409.1,78.1 L-408.4,81.7 L-407.6,85.2 L-406.9,88.8 L-406.1,92.3 L-405.3,95.9 L-404.4,99.4 L-403.5,102.9 L-402.6,106.4 L-401.7,109.9 L-400.7,113.4 L-399.7,116.9 L-398.6,120.4 L-397.6,123.9 L-396.5,127.3 L-395.3,130.8 L-394.2,134.2 L-393.0,137.7 L-391.8,141.1 L-390.5,144.5 L-389.2,147.9 L-387.9,151.3 L-386.6,154.7 L-385.2,158.1 L-383.8,161.4 L-382.5,164.8 L-381.1,168.1 L-379.7,171.5 L-378.3,174.8 L-376.9,178.2 L-375.4,181.6 L-374.0,184.9 L-372.6,188.3 L-371.1,191.6 L-369.6,195.0 L-368.2,198.3 L-366.7,201.6 L-365.1,205.0 L-363.6,208.3 L-362.1,211.6 L-360.5,215.0 L-358.9,218.3 L-357.2,221.6 L-355.6,224.9 L-353.9,228.1 L-352.2,231.4 L-350.5,234.7 L-348.7,237.9 L-346.9,241.2 L-345.1,244.4 L-343.2,247.6 L-341.3,250.8 L-339.4,254.0 L-337.4,257.1 L-335.4,260.2 L-333.4,263.3 L-331.3,266.4 L-329.1,269.5 L-327.0,272.5 L-324.8,275.5 L-322.5,278.5 L-320.2,281.4 L-317.9,284.3 L-315.5,287.2 L-313.1,290.0 L-310.7,292.8 L-308.2,295.6 L-305.6,298.3 L-303.0,301.0 L-300.4,303.6 L-297.7,306.2 L-295.0,308.8 L-292.3,311.4 L-289.6,313.9 L-286.8,316.4 L-284.1,318.9 L-281.3,321.4 L-278.4,323.8 L-275.6,326.2 L-272.7,328.6 L-269.9,331.0 L-266.9,333.3 L-264.0,335.6 L-261.1,337.9 L-258.1,340.1 L-255.1,342.4 L-252.1,344.6 L-249.1,346.7 L-246.0,348.9 L-243.0,351.0 L-239.9,353.1 L-236.8,355.2 L-233.7,357.2 L-230.5,359.2 L-227.4,361.2 L-224.2,363.1 L-221.0,365.0 L-217.8,366.9 L-214.6,368.8 L-211.3,370.6 L-208.1,372.4 L-204.8,374.2 L-201.5,376.0 L-198.2,377.7 L-194.9,379.4 L-191.6,381.0 L-188.2,382.7 L-184.9,384.3 L-181.5,385.8 L-178.1,387.4 L-174.7,388.9 L-171.3,390.4 L-167.9,391.8 L-164.4,393.2 L-161.0,394.6 L-157.5,395.9 L-154.0,397.2 L-150.5,398.5 L-147.0,399.6 L-143.4,400.8 L-139.9,401.9 L-136.3,402.9 L-132.7,403.9 L-129.2,404.9 L-125.6,405.8 L-121.9,406.7 L-118.3,407.5 L-114.7,408.3 L-111.1,409.0 L-107.4,409.7 L-103.8,410.4 L-100.1,411.0 L-96.5,411.6 L-92.8,412.2 L-89.2,412.7 L-85.5,413.2 L-81.8,413.6 L-78.2,414.1 L-74.5,414.5 L-70.9,414.8 L-67.2,415.2 L-63.5,415.5 L-59.9,415.8 L-56.2,416.0 L-52.5,416.3 L-48.9,416.5 L-45.2,416.7 L-41.5,416.8 L-37.9,417.0 L-34.2,417.1 L-30.6,417.2 L-26.9,417.3 L-23.3,417.4 L-19.6,417.5 L-16.0,417.5 L-12.3,417.5 L-8.7,417.6 L-5.0,417.6 L-1.4,417.6 L2.2,417.6 L5.9,417.6 L9.5,417.5 L13.2,417.4 L16.8,417.3 L20.5,417.2 L24.1,417.0 L27.7,416.9 L31.4,416.7 L35.0,416.4 L38.7,416.2 L42.3,415.9 L45.9,415.5 L49.6,415.2 L53.2,414.8 L56.8,414.4 L60.5,414.0 L64.1,413.5 L67.7,413.0 L71.3,412.5 L74.9,412.0 L78.5,411.4 L82.1,410.8 L85.7,410.2 L89.3,409.5 L92.9,408.8 L96.5,408.1 L100.1,407.3 L103.7,406.6 L107.3,405.7 L110.8,404.9 L114.4,404.0 L117.9,403.1 L121.5,402.2 L125.0,401.2 L128.5,400.2 L132.1,399.2 L135.6,398.1 L139.1,397.0 L142.6,395.9 L146.1,394.7 L149.5,393.5 L153.0,392.3 L156.5,391.0 L159.9,389.7 L163.3,388.4 L166.8,387.1 L170.2,385.7 L173.6,384.3 L176.9,382.8 L180.3,381.3 L183.7,379.8 L187.0,378.3 L190.4,376.7 L193.7,375.1 L197.0,373.5 L200.3,371.9 L203.6,370.2 L206.8,368.5 L210.1,366.7 L213.3,365.0 L216.6,363.2 L219.8,361.3 L223.0,359.5 L226.1,357.6 L229.3,355.7 L232.5,353.8 L235.6,351.8 L238.7,349.8 L241.8,347.8 L244.9,345.8 L248.0,343.7 L251.0,341.6 L254.1,339.5 L257.1,337.4 L260.1,335.2 L263.1,333.0 L266.0,330.8 L269.0,328.5 L271.9,326.3 L274.8,324.0 L277.7,321.7 L280.6,319.3 L283.5,317.0 L286.3,314.6 L289.1,312.2 L291.9,309.7 L294.7,307.3 L297.5,304.8 L300.2,302.3 L303.0,299.7 L305.7,297.2 L308.4,294.6 L311.1,292.0 L313.7,289.4 L316.4,286.8 L319.0,284.2 L321.6,281.5 L324.2,278.8 L326.8,276.1 L329.4,273.4 L331.9,270.6 L334.4,267.9 L336.9,265.1 L339.4,262.3 L341.9,259.4 L344.3,256.6 L346.7,253.7 L349.1,250.8 L351.5,247.9 L353.9,245.0 L356.2,242.0 L358.5,239.0 L360.8,236.0 L363.0,233.0 L365.3,230.0 L367.5,226.9 L369.7,223.8 L371.8,220.7 L374.0,217.6 L376.1,214.4 L378.1,211.3 L380.2,208.1 L382.2,204.9 L384.2,201.6 L386.2,198.4 L388.1,195.1 L390.0,191.8 L391.9,188.5 L393.7,185.2 L395.5,181.9 L397.3,178.5 L399.1,175.1 L400.8,171.7 L402.5,168.3 L404.1,164.8 L405.7,161.4 L407.3,157.9 L408.9,154.4 L410.5,151.0 L412.0,147.4 L413.5,143.9 L415.0,140.4 L416.4,136.8 L417.8,133.3 L419.2,129.7 L420.6,126.1 L421.9,122.5 L423.2,118.9 L424.5,115.3 L425.7,111.6 L426.9,108.0 L428.1,104.3 L429.2,100.6 L430.3,96.9 L431.4,93.2 L432.4,89.5 L433.4,85.8 L434.4,82.0 L435.3,78.3 L436.2,74.5 L437.1,70.7 L437.9,66.9 L438.6,63.2 L439.4,59.3 L440.1,55.5 L440.7,51.7 L441.3,47.9 L441.9,44.0 L442.4,40.2 L442.9,36.4 L443.3,32.5 L443.7,28.6 L444.0,24.8 L444.3,20.9 L444.5,17.0 L444.7,13.1 L444.9,9.3 L445.0,5.4 L445.0,1.5 L445.0,-2.4 L445.0,-6.3 L444.9,-10.2 L444.8,-14.0 L444.6,-17.9 L444.5,-21.8 L444.3,-25.7 L444.0,-29.6 L443.7,-33.4 L443.4,-37.3 L443.1,-41.2 L442.7,-45.0 L442.3,-48.9 L441.9,-52.7 L441.4,-56.6 L440.9,-60.5 L440.3,-64.3 L439.8,-68.1 L439.1,-72.0 L438.5,-75.8 L437.8,-79.6 L437.1,-83.4 L436.4,-87.3 L435.6,-91.1 L434.3,-94.8 L431.2,-98.0 L427.5,-101.1 L424.6,-104.4 L422.6,-107.8 L420.7,-111.2 L418.9,-114.6 L417.3,-118.1 L416.1,-121.7 L415.2,-125.4 L414.6,-129.2 L414.4,-133.1 L414.5,-137.1 L414.8,-141.3 L417.0,-146.1 L418.4,-150.7 L417.8,-154.6 L417.0,-158.5 L416.0,-162.3 L414.8,-166.0 L413.4,-169.6 L411.9,-173.2 L409.9,-176.6 L407.7,-179.9 L405.4,-183.1 L403.0,-186.3 L400.7,-189.5 L398.5,-192.7 L396.5,-196.0 L394.6,-199.4 L392.5,-202.7 L390.5,-206.0 L388.5,-209.2 L386.4,-212.5 L384.3,-215.7 L382.2,-218.9 L380.0,-222.1 L377.9,-225.3 L375.7,-228.5 L373.5,-231.6 L371.3,-234.8 L369.0,-237.9 L366.8,-241.0 L364.5,-244.1 L362.2,-247.1 L359.9,-250.2 L357.5,-253.2 L355.2,-256.2 L352.8,-259.2 L350.4,-262.2 L348.0,-265.2 L345.5,-268.1 L343.1,-271.0 L340.6,-273.9 L338.1,-276.8 L335.6,-279.7 L333.1,-282.6 L330.6,-285.4 L328.0,-288.2 L325.4,-291.0 L322.8,-293.8 L320.2,-296.6 L317.6,-299.4 L315.0,-302.1 L312.3,-304.8 L309.6,-307.5 L306.9,-310.2 L304.2,-312.9 L301.5,-315.6 L298.7,-318.2 L296.0,-320.8 L293.2,-323.4 L290.4,-326.0 L287.5,-328.5 L284.7,-331.1 L281.8,-333.6 L279.0,-336.1 L276.1,-338.6 L273.1,-341.0 L270.2,-343.5 L267.2,-345.9 L264.3,-348.3 L261.3,-350.6 L258.3,-353.0 L255.2,-355.3 L252.2,-357.6 L249.1,-359.8 L246.0,-362.1 L242.9,-364.3 L239.8,-366.5 L236.6,-368.7 L233.5,-370.8 L230.3,-372.9 L227.1,-375.0 L223.8,-377.1 L220.6,-379.1 L217.3,-381.1 L214.1,-383.1 L210.8,-385.1 L207.4,-387.0 L204.1,-388.9 L200.8,-390.8 L197.4,-392.6 L194.0,-394.4 L190.6,-396.2 L187.2,-397.9 L183.7,-399.6 L180.3,-401.3 L176.8,-402.9 L173.3,-404.5 L169.8,-406.1 L166.3,-407.6 L162.8,-409.1 L159.2,-410.6 L155.7,-412.1 L152.1,-413.5 L148.5,-414.9 L144.9,-416.3 L141.3,-417.6 L137.7,-418.9 L134.0,-420.2 L130.4,-421.5 L126.7,-422.7 L123.1,-423.9 L119.4,-425.0 L115.7,-426.1 L112.0,-427.2 L108.3,-428.3 L104.6,-429.3 L100.9,-430.3 L97.1,-431.3 L93.4,-432.2 L89.6,-433.1 L85.9,-433.9 L82.1,-434.8 L78.3,-435.6 L74.5,-436.3 L70.7,-437.0 L66.9,-437.7 L63.1,-438.4 L59.3,-439.0 L55.5,-439.5 L51.6,-440.1 L47.8,-440.6 L44.0,-441.0 L40.1,-441.5 L36.3,-441.9 L32.4,-442.2 L28.6,-442.5 L24.7,-442.8 L20.8,-443.0 L17.0,-443.2 L13.1,-443.4 L9.2,-443.5 L5.4,-443.6 L1.5,-443.6 L-2.4,-443.6 L-6.3,-443.6 L-10.1,-443.5 L-14.0,-443.4 L-17.9,-443.2 L-21.7,-443.0 L-25.6,-442.8 L-29.5,-442.6 L-33.3,-442.3 L-37.2,-442.0 L-41.0,-441.6 L-44.9,-441.2 L-48.7,-440.8 L-52.6,-440.4 L-56.4,-439.9 L-60.2,-439.3 L-64.1,-438.8 L-67.9,-438.2 L-71.7,-437.6 L-75.5,-436.9 L-79.3,-436.2 L-83.1,-435.5 L-86.9,-434.7 L-90.7,-433.9 L-94.5,-433.1 L-98.2,-432.2 L-102.0,-431.3 L-105.8,-430.3 L-109.5,-429.4 L-113.2,-428.4 L-117.0,-427.3 L-120.7,-426.3 L-124.4,-425.1 L-128.1,-424.0 L-131.8,-422.8 L-135.4,-421.6 L-139.1,-420.4 L-142.7,-419.1 L-146.4,-417.8 L-150.0,-416.5 L-153.6,-415.1 L-157.2,-413.7 L-160.8,-412.3 L-164.4,-410.8 L-167.9,-409.3 L-171.5,-407.8 L-175.0,-406.2 L-178.5,-404.5 L-181.9,-402.8 L-185.3,-401.0 L-188.7,-399.1 L-192.1,-397.2 L-195.4,-395.3 L-198.7,-393.3 L-202.0,-391.2 L-205.2,-389.2 L-208.5,-387.0 L-211.7,-384.9 L-214.8,-382.7 L-218.0,-380.5 L-221.1,-378.2 L-224.2,-375.9 L-227.2,-373.6 L-230.3,-371.3 L-233.3,-368.9 L-236.3,-366.6 L-239.3,-364.2 L-242.3,-361.8 L-245.2,-359.4 L-248.2,-357.0 L-251.1,-354.6 L-254.0,-352.2 L-282.0,-326.8 L-305.4,-302.3 L-320.1,-282.8 L-334.8,-258.3 L-349.5,-233.9 L-354.5,-220.6 L-357.4,-205.9 L-360.3,-191.3 L-365.2,-176.6 L-371.1,-167.8 L-375.9,-160.9 L-381.9,-154.1 L-385.9,-150.2 L-389.7,-138.4 L-396.3,-133.5 L-411.2,-134.5 L-426.4,-136.5 L-437.2,-136.5 L-438.8,-131.6 L-437.8,-127.7 L-432.4,-121.8 L-425.0,-115.9 L-414.3,-112.0 L-411.9,-103.2 L-409.9,-88.5 L-410.9,-73.9 L-411.9,-59.3Z" fill="#fc8c59"/>
<path d="M-384.5,-59.3 L-385.0,-55.9 L-385.6,-52.6 L-386.1,-49.2 L-386.7,-45.9 L-387.3,-42.5 L-387.9,-39.2 L-388.4,-35.8 L-389.0,-32.4 L-389.5,-29.1 L-390.0,-25.7 L-390.4,-22.3 L-390.8,-18.9 L-391.2,-15.5 L-391.5,-12.1 L-391.7,-8.7 L-391.9,-5.2 L-392.0,-1.8 L-392.0,1.6 L-392.0,5.0 L-391.9,8.4 L-391.8,11.9 L-391.7,15.3 L-391.5,18.7 L-391.3,22.1 L-391.1,25.5 L-390.9,28.9 L-390.6,32.3 L-390.3,35.7 L-389.9,39.1 L-389.5,42.5 L-389.1,45.9 L-388.7,49.3 L-388.2,52.7 L-387.7,56.1 L-387.2,59.5 L-386.6,62.8 L-386.0,66.2 L-385.4,69.6 L-384.8,72.9 L-384.1,76.3 L-383.4,79.6 L-382.7,83.0 L-381.9,86.3 L-381.1,89.6 L-380.3,92.9 L-379.4,96.2 L-378.6,99.5 L-377.6,102.8 L-376.7,106.1 L-375.8,109.4 L-374.8,112.7 L-373.7,115.9 L-372.7,119.2 L-371.6,122.4 L-370.5,125.7 L-369.4,128.9 L-368.3,132.1 L-367.1,135.3 L-365.9,138.5 L-364.7,141.7 L-363.4,144.9 L-362.1,148.0 L-360.8,151.2 L-359.5,154.3 L-358.2,157.5 L-356.9,160.6 L-355.6,163.8 L-354.3,167.0 L-353.0,170.1 L-351.7,173.3 L-350.3,176.5 L-349.0,179.6 L-347.7,182.8 L-346.3,185.9 L-344.9,189.1 L-343.6,192.3 L-342.2,195.4 L-340.7,198.6 L-339.3,201.7 L-337.8,204.9 L-336.3,208.0 L-334.8,211.1 L-333.3,214.2 L-331.7,217.4 L-330.1,220.5 L-328.5,223.5 L-326.9,226.6 L-325.2,229.7 L-323.5,232.7 L-321.8,235.8 L-320.0,238.8 L-318.2,241.8 L-316.3,244.8 L-314.4,247.7 L-312.5,250.7 L-310.5,253.6 L-308.5,256.4 L-306.5,259.3 L-304.4,262.1 L-302.3,264.9 L-300.1,267.7 L-297.9,270.4 L-295.6,273.1 L-293.3,275.8 L-291.0,278.4 L-288.6,281.0 L-286.1,283.5 L-283.7,286.0 L-281.2,288.4 L-278.6,290.9 L-276.0,293.3 L-273.4,295.6 L-270.8,298.0 L-268.2,300.3 L-265.5,302.6 L-262.8,304.8 L-260.1,307.0 L-257.4,309.2 L-254.6,311.4 L-251.8,313.5 L-249.0,315.7 L-246.2,317.7 L-243.3,319.8 L-240.5,321.8 L-237.6,323.8 L-234.7,325.8 L-231.7,327.7 L-228.8,329.6 L-225.8,331.5 L-222.9,333.3 L-219.9,335.1 L-216.9,336.9 L-213.8,338.7 L-210.8,340.4 L-207.7,342.1 L-204.7,343.8 L-201.6,345.4 L-198.5,347.1 L-195.4,348.7 L-192.3,350.2 L-189.2,351.8 L-186.0,353.3 L-182.9,354.8 L-179.7,356.2 L-176.5,357.7 L-173.3,359.1 L-170.1,360.5 L-166.9,361.8 L-163.7,363.2 L-160.5,364.5 L-157.3,365.8 L-154.0,367.0 L-150.8,368.3 L-147.5,369.5 L-144.3,370.7 L-141.0,371.8 L-137.7,372.9 L-134.4,374.0 L-131.1,375.1 L-127.8,376.1 L-124.5,377.1 L-121.1,378.0 L-117.8,379.0 L-114.5,379.9 L-111.1,380.7 L-107.7,381.6 L-104.4,382.4 L-101.0,383.2 L-97.6,383.9 L-94.2,384.6 L-90.9,385.3 L-87.5,386.0 L-84.1,386.6 L-80.7,387.3 L-77.3,387.8 L-73.9,388.4 L-70.4,388.9 L-67.0,389.4 L-63.6,389.9 L-60.2,390.3 L-56.8,390.7 L-53.4,391.1 L-49.9,391.5 L-46.5,391.8 L-43.1,392.2 L-39.6,392.4 L-36.2,392.7 L-32.8,392.9 L-29.3,393.2 L-25.9,393.3 L-22.5,393.5 L-19.0,393.6 L-15.6,393.8 L-12.2,393.9 L-8.7,393.9 L-5.3,394.0 L-1.8,394.0 L1.6,394.0 L5.0,394.0 L8.5,393.9 L11.9,393.9 L15.4,393.8 L18.8,393.7 L22.2,393.5 L25.7,393.4 L29.1,393.2 L32.5,393.0 L36.0,392.7 L39.4,392.4 L42.8,392.2 L46.3,391.8 L49.7,391.5 L53.1,391.1 L56.5,390.7 L60.0,390.3 L63.4,389.8 L66.8,389.4 L70.2,388.8 L73.6,388.3 L77.0,387.7 L80.4,387.1 L83.8,386.5 L87.2,385.8 L90.6,385.1 L93.9,384.4 L97.3,383.7 L100.7,382.9 L104.0,382.1 L107.4,381.2 L110.7,380.3 L114.1,379.4 L117.4,378.5 L120.7,377.5 L124.0,376.5 L127.3,375.4 L130.6,374.3 L133.9,373.2 L137.1,372.1 L140.4,370.9 L143.6,369.7 L146.8,368.4 L150.1,367.1 L153.3,365.8 L156.4,364.4 L159.6,363.1 L162.8,361.7 L165.9,360.2 L169.1,358.8 L172.2,357.3 L175.3,355.8 L178.4,354.2 L181.5,352.6 L184.6,351.0 L187.6,349.4 L190.7,347.8 L193.7,346.1 L196.7,344.4 L199.7,342.7 L202.7,340.9 L205.6,339.1 L208.6,337.3 L211.5,335.5 L214.4,333.6 L217.4,331.7 L220.2,329.8 L223.1,327.9 L226.0,325.9 L228.8,323.9 L231.6,321.9 L234.4,319.9 L237.2,317.8 L240.0,315.8 L242.7,313.7 L245.4,311.5 L248.1,309.4 L250.8,307.2 L253.5,305.0 L256.2,302.8 L258.8,300.5 L261.4,298.3 L264.0,296.0 L266.6,293.7 L269.1,291.3 L271.7,289.0 L274.2,286.6 L276.7,284.2 L279.1,281.7 L281.6,279.3 L284.0,276.9 L286.5,274.4 L288.9,271.9 L291.3,269.5 L293.8,267.0 L296.2,264.5 L298.6,262.0 L301.0,259.5 L303.4,257.0 L305.8,254.5 L308.2,252.0 L310.6,249.4 L313.0,246.9 L315.3,244.3 L317.7,241.7 L320.0,239.1 L322.4,236.5 L324.7,233.9 L327.0,231.2 L329.2,228.5 L331.5,225.8 L333.7,223.1 L335.9,220.4 L338.1,217.6 L340.3,214.9 L342.5,212.1 L344.6,209.3 L346.7,206.4 L348.8,203.6 L350.8,200.7 L352.9,197.8 L354.9,194.8 L356.8,191.9 L358.7,188.9 L360.6,185.9 L362.5,182.9 L364.3,179.8 L366.1,176.7 L367.9,173.6 L369.6,170.5 L371.2,167.4 L372.8,164.2 L374.4,161.0 L376.0,157.8 L377.4,154.6 L378.9,151.3 L380.3,148.0 L381.7,144.8 L383.1,141.5 L384.4,138.2 L385.8,134.8 L387.0,131.5 L388.3,128.2 L389.5,124.8 L390.7,121.5 L391.9,118.1 L393.0,114.7 L394.1,111.3 L395.2,107.9 L396.2,104.4 L397.2,101.0 L398.2,97.6 L399.2,94.1 L400.1,90.7 L401.0,87.2 L401.8,83.7 L402.6,80.2 L403.4,76.7 L404.2,73.2 L404.9,69.7 L405.5,66.2 L406.2,62.6 L406.8,59.1 L407.4,55.6 L407.9,52.0 L408.4,48.5 L408.9,44.9 L409.4,41.3 L409.8,37.8 L410.1,34.2 L410.5,30.6 L410.7,27.0 L411.0,23.5 L411.2,19.9 L411.4,16.3 L411.6,12.7 L411.7,9.1 L411.8,5.5 L411.8,1.9 L411.8,-1.7 L411.7,-5.3 L411.5,-8.9 L411.3,-12.4 L411.0,-16.0 L410.6,-19.6 L410.2,-23.2 L409.6,-26.7 L409.1,-30.3 L408.5,-33.8 L407.8,-37.3 L407.1,-40.9 L406.4,-44.4 L405.6,-47.9 L404.8,-51.4 L404.0,-54.9 L403.1,-58.3 L402.2,-61.8 L401.4,-65.2 L400.5,-68.7 L399.6,-72.1 L398.7,-75.6 L397.8,-79.0 L397.0,-82.4 L396.1,-85.9 L395.3,-89.3 L394.4,-92.8 L394.0,-96.3 L394.2,-100.0 L394.6,-103.8 L395.0,-107.6 L395.1,-111.3 L394.7,-114.9 L393.8,-118.4 L392.8,-121.8 L391.8,-125.3 L390.8,-128.7 L389.8,-132.2 L388.6,-135.6 L387.5,-139.0 L386.3,-142.4 L385.1,-145.8 L383.8,-149.1 L382.5,-152.5 L381.2,-155.8 L379.8,-159.1 L378.4,-162.4 L377.0,-165.7 L375.5,-169.0 L374.0,-172.3 L372.4,-175.5 L370.8,-178.7 L369.2,-181.9 L367.5,-185.1 L365.9,-188.3 L364.1,-191.4 L362.4,-194.6 L360.6,-197.7 L358.8,-200.8 L357.0,-203.9 L355.1,-206.9 L353.2,-210.0 L351.3,-213.0 L349.3,-216.0 L347.4,-219.0 L345.4,-222.0 L343.3,-224.9 L341.3,-227.9 L339.2,-230.8 L337.1,-233.7 L334.9,-236.6 L332.8,-239.4 L330.6,-242.3 L328.4,-245.1 L326.2,-247.9 L324.0,-250.7 L321.7,-253.4 L319.4,-256.2 L317.1,-258.9 L314.8,-261.6 L312.4,-264.3 L310.1,-267.0 L307.7,-269.7 L305.3,-272.3 L302.8,-274.9 L300.4,-277.5 L298.0,-280.1 L295.5,-282.7 L293.0,-285.2 L290.5,-287.8 L288.0,-290.3 L285.4,-292.8 L282.9,-295.3 L280.3,-297.8 L277.7,-300.3 L275.2,-302.7 L272.5,-305.2 L269.9,-307.6 L267.3,-310.0 L264.6,-312.4 L262.0,-314.8 L259.3,-317.2 L256.6,-319.5 L253.9,-321.8 L251.1,-324.1 L248.4,-326.4 L245.6,-328.7 L242.8,-331.0 L240.0,-333.2 L237.2,-335.4 L234.3,-337.6 L231.5,-339.7 L228.6,-341.9 L225.7,-344.0 L222.7,-346.1 L219.8,-348.1 L216.8,-350.2 L213.8,-352.2 L210.8,-354.2 L207.8,-356.1 L204.8,-358.0 L201.7,-359.9 L198.6,-361.8 L195.5,-363.6 L192.4,-365.4 L189.2,-367.2 L186.1,-368.9 L182.9,-370.6 L179.7,-372.2 L176.5,-373.9 L173.2,-375.4 L170.0,-377.0 L166.7,-378.5 L163.4,-379.9 L160.1,-381.4 L156.7,-382.8 L153.4,-384.1 L150.0,-385.4 L146.6,-386.7 L143.2,-387.9 L139.8,-389.1 L136.4,-390.2 L133.0,-391.3 L129.5,-392.4 L126.1,-393.4 L122.6,-394.4 L119.1,-395.4 L115.6,-396.3 L112.2,-397.2 L108.7,-398.1 L105.1,-398.9 L101.6,-399.7 L98.1,-400.4 L94.6,-401.1 L91.1,-401.8 L87.5,-402.5 L84.0,-403.1 L80.4,-403.7 L76.9,-404.2 L73.3,-404.8 L69.8,-405.2 L66.2,-405.7 L62.6,-406.1 L59.1,-406.6 L55.5,-406.9 L51.9,-407.3 L48.4,-407.6 L44.8,-407.9 L41.2,-408.2 L37.7,-408.4 L34.1,-408.6 L30.5,-408.8 L26.9,-409.0 L23.4,-409.2 L19.8,-409.3 L16.2,-409.4 L12.6,-409.5 L9.1,-409.5 L5.5,-409.6 L1.9,-409.6 L-1.7,-409.6 L-5.2,-409.6 L-8.8,-409.5 L-12.4,-409.4 L-16.0,-409.3 L-19.5,-409.2 L-23.1,-409.1 L-26.7,-408.9 L-30.2,-408.7 L-33.8,-408.4 L-37.4,-408.2 L-40.9,-407.9 L-44.5,-407.6 L-48.1,-407.2 L-51.6,-406.8 L-55.2,-406.4 L-58.7,-406.0 L-62.3,-405.5 L-65.8,-405.1 L-69.4,-404.5 L-72.9,-404.0 L-76.5,-403.4 L-80.0,-402.8 L-83.5,-402.1 L-87.0,-401.5 L-90.6,-400.8 L-94.1,-400.0 L-97.6,-399.2 L-101.1,-398.4 L-104.6,-397.6 L-108.0,-396.7 L-111.5,-395.8 L-115.0,-394.9 L-118.4,-393.9 L-121.9,-392.9 L-125.3,-391.9 L-128.7,-390.8 L-132.2,-389.7 L-135.6,-388.6 L-139.0,-387.4 L-142.4,-386.2 L-145.7,-385.0 L-149.1,-383.7 L-152.4,-382.4 L-155.8,-381.1 L-159.1,-379.7 L-162.4,-378.3 L-165.7,-376.8 L-168.9,-375.2 L-172.1,-373.6 L-175.3,-372.0 L-178.5,-370.3 L-181.6,-368.5 L-184.7,-366.7 L-187.8,-364.9 L-190.9,-363.0 L-193.9,-361.1 L-196.9,-359.1 L-199.8,-357.1 L-202.8,-355.1 L-205.7,-353.0 L-208.6,-350.9 L-211.5,-348.7 L-214.3,-346.6 L-217.1,-344.4 L-219.9,-342.1 L-222.7,-339.9 L-225.4,-337.6 L-228.1,-335.3 L-230.8,-333.0 L-233.5,-330.6 L-236.2,-328.3 L-238.8,-325.9 L-241.4,-323.5 L-244.0,-321.1 L-246.6,-318.7 L-249.1,-316.2 L-251.7,-313.8 L-254.2,-311.3 L-256.7,-308.9 L-259.2,-306.4 L-261.7,-303.9 L-264.2,-301.4 L-266.7,-299.0 L-268.1,-297.5 L-288.1,-277.9 L-309.1,-253.4 L-326.1,-235.3 L-331.0,-220.6 L-335.9,-205.9 L-339.8,-191.3 L-345.7,-176.6 L-351.4,-164.8 L-357.5,-158.0 L-363.1,-149.2 L-368.9,-141.4 L-372.8,-133.5 L-371.8,-125.7 L-374.7,-117.9 L-379.6,-110.1 L-381.6,-103.2 L-380.6,-88.5 L-383.5,-73.9 L-384.5,-59.3Z" fill="#fdaf79"/>
<path d="M381.9,-0.0 L381.9,-3.3 L381.8,-6.7 L381.7,-10.0 L381.5,-13.3 L381.3,-16.6 L381.1,-20.0 L380.8,-23.3 L380.5,-26.6 L380.1,-29.9 L379.7,-33.2 L379.2,-36.5 L378.8,-39.8 L378.2,-43.1 L377.7,-46.4 L377.1,-49.6 L376.5,-52.9 L375.8,-56.2 L375.1,-59.4 L374.4,-62.7 L373.6,-65.9 L372.8,-69.1 L372.0,-72.3 L371.2,-75.5 L370.3,-78.7 L369.4,-81.9 L368.5,-85.1 L367.6,-88.2 L366.6,-91.4 L365.6,-94.6 L364.6,-97.7 L363.6,-100.8 L362.5,-103.9 L361.4,-107.1 L360.3,-110.2 L359.2,-113.3 L358.1,-116.4 L357.0,-119.4 L355.8,-122.5 L354.6,-125.6 L353.4,-128.6 L352.2,-131.7 L351.0,-134.7 L349.8,-137.8 L348.5,-140.8 L347.3,-143.9 L346.0,-146.9 L344.7,-149.9 L343.4,-152.9 L342.1,-155.9 L340.8,-158.9 L339.4,-161.9 L338.0,-164.9 L336.6,-167.8 L335.2,-170.8 L333.8,-173.8 L332.3,-176.7 L330.8,-179.6 L329.3,-182.6 L327.8,-185.5 L326.3,-188.4 L324.7,-191.3 L323.1,-194.1 L321.5,-197.0 L319.9,-199.9 L318.2,-202.7 L316.5,-205.6 L314.8,-208.4 L313.1,-211.2 L311.3,-214.0 L309.6,-216.8 L307.8,-219.5 L305.9,-222.3 L304.1,-225.0 L302.2,-227.7 L300.3,-230.4 L298.4,-233.1 L296.5,-235.8 L294.5,-238.5 L292.5,-241.1 L290.5,-243.7 L288.4,-246.3 L286.3,-248.9 L284.2,-251.5 L282.1,-254.0 L280.0,-256.5 L277.8,-259.0 L275.6,-261.5 L273.4,-264.0 L271.1,-266.4 L268.8,-268.8 L266.5,-271.2 L264.2,-273.6 L261.9,-276.0 L259.5,-278.3 L257.1,-280.6 L254.7,-282.9 L252.3,-285.2 L249.9,-287.5 L247.4,-289.7 L245.0,-291.9 L242.5,-294.1 L239.9,-296.3 L237.4,-298.4 L234.8,-300.6 L232.3,-302.7 L229.7,-304.8 L227.1,-306.8 L224.4,-308.9 L221.8,-310.9 L219.1,-312.9 L216.4,-314.9 L213.7,-316.8 L211.0,-318.7 L208.2,-320.6 L205.5,-322.5 L202.7,-324.4 L199.9,-326.2 L197.1,-328.0 L194.2,-329.7 L191.4,-331.5 L188.5,-333.2 L185.6,-334.9 L182.7,-336.5 L179.8,-338.2 L176.9,-339.8 L173.9,-341.3 L171.0,-342.9 L168.0,-344.4 L165.0,-345.9 L162.0,-347.3 L158.9,-348.7 L155.9,-350.1 L152.8,-351.5 L149.8,-352.8 L146.7,-354.1 L143.6,-355.4 L140.5,-356.6 L137.4,-357.8 L134.2,-359.0 L131.1,-360.1 L127.9,-361.2 L124.8,-362.3 L121.6,-363.4 L118.4,-364.4 L115.2,-365.4 L112.0,-366.3 L108.8,-367.3 L105.6,-368.1 L102.3,-369.0 L99.1,-369.8 L95.9,-370.6 L92.6,-371.4 L89.3,-372.2 L86.1,-372.9 L82.8,-373.5 L79.5,-374.2 L76.3,-374.8 L73.0,-375.4 L69.7,-375.9 L66.4,-376.5 L63.1,-377.0 L59.8,-377.4 L56.5,-377.9 L53.2,-378.3 L49.9,-378.7 L46.5,-379.0 L43.2,-379.3 L39.9,-379.6 L36.6,-379.9 L33.3,-380.1 L29.9,-380.3 L26.6,-380.5 L23.3,-380.6 L20.0,-380.7 L16.6,-380.8 L13.3,-380.9 L10.0,-380.9 L6.6,-380.9 L3.3,-380.9 L0.0,-380.8 L-3.3,-380.7 L-6.6,-380.6 L-10.0,-380.4 L-13.3,-380.3 L-16.6,-380.0 L-19.9,-379.8 L-23.2,-379.5 L-26.5,-379.2 L-29.8,-378.9 L-33.1,-378.5 L-36.4,-378.1 L-39.7,-377.7 L-43.0,-377.2 L-46.3,-376.7 L-49.5,-376.2 L-52.8,-375.7 L-56.1,-375.1 L-59.3,-374.5 L-62.6,-373.9 L-65.8,-373.2 L-69.0,-372.5 L-72.3,-371.8 L-75.5,-371.0 L-78.7,-370.2 L-81.9,-369.4 L-85.1,-368.6 L-88.3,-367.7 L-91.5,-366.9 L-94.6,-365.9 L-97.8,-365.0 L-101.0,-364.0 L-104.1,-363.0 L-107.2,-362.0 L-110.4,-361.0 L-113.5,-359.9 L-116.6,-358.8 L-119.7,-357.7 L-122.8,-356.5 L-125.8,-355.3 L-128.9,-354.1 L-131.9,-352.9 L-135.0,-351.6 L-138.0,-350.4 L-141.0,-349.1 L-144.0,-347.7 L-147.0,-346.4 L-150.0,-345.0 L-153.0,-343.6 L-156.0,-342.2 L-158.9,-340.8 L-161.8,-339.3 L-164.8,-337.8 L-167.7,-336.3 L-170.6,-334.8 L-173.5,-333.2 L-176.3,-331.7 L-179.2,-330.0 L-182.0,-328.4 L-184.9,-326.8 L-187.7,-325.1 L-190.5,-323.4 L-193.3,-321.7 L-196.0,-319.9 L-198.8,-318.1 L-201.5,-316.4 L-204.3,-314.5 L-207.0,-312.7 L-209.7,-310.8 L-212.3,-308.9 L-215.0,-307.0 L-217.6,-305.1 L-220.2,-303.1 L-222.8,-301.1 L-225.4,-299.1 L-228.0,-297.1 L-230.5,-295.0 L-233.0,-292.9 L-235.5,-290.8 L-238.0,-288.7 L-240.4,-286.6 L-242.9,-284.4 L-245.3,-282.2 L-247.7,-280.0 L-250.0,-277.7 L-252.4,-275.4 L-254.7,-273.1 L-257.0,-270.8 L-259.3,-268.5 L-261.5,-266.1 L-263.8,-263.8 L-265.9,-261.3 L-268.1,-258.9 L-270.2,-256.4 L-272.2,-253.8 L-274.2,-251.2 L-276.1,-248.6 L-278.0,-246.0 L-279.9,-243.3 L-281.7,-240.6 L-283.5,-237.9 L-285.3,-235.2 L-287.0,-232.4 L-288.7,-229.6 L-290.4,-226.9 L-292.0,-224.1 L-293.6,-221.3 L-295.2,-218.5 L-296.8,-215.6 L-298.4,-212.8 L-299.9,-210.0 L-301.5,-207.2 L-303.0,-204.4 L-304.6,-201.6 L-306.1,-198.8 L-307.6,-196.0 L-309.2,-193.2 L-310.7,-190.4 L-312.3,-187.6 L-313.8,-184.8 L-315.2,-182.0 L-316.7,-179.2 L-318.1,-176.3 L-319.5,-173.5 L-320.9,-170.6 L-322.2,-167.8 L-323.6,-164.9 L-324.9,-162.0 L-326.2,-159.1 L-327.5,-156.2 L-328.8,-153.3 L-330.1,-150.4 L-331.3,-147.5 L-332.6,-144.6 L-333.8,-141.7 L-335.0,-138.8 L-336.2,-135.8 L-337.4,-132.9 L-338.6,-130.0 L-339.8,-127.0 L-340.9,-124.1 L-342.1,-121.1 L-343.2,-118.2 L-344.3,-115.2 L-345.4,-112.2 L-346.5,-109.3 L-347.6,-106.3 L-348.6,-103.3 L-349.7,-100.3 L-350.7,-97.3 L-351.7,-94.2 L-352.6,-91.2 L-353.6,-88.2 L-354.5,-85.1 L-355.4,-82.1 L-356.3,-79.0 L-357.2,-75.9 L-358.0,-72.8 L-358.8,-69.7 L-359.6,-66.6 L-360.4,-63.5 L-361.1,-60.4 L-361.8,-57.3 L-362.4,-54.2 L-363.1,-51.0 L-363.7,-47.9 L-364.3,-44.7 L-364.8,-41.6 L-365.3,-38.4 L-365.8,-35.2 L-366.2,-32.0 L-366.6,-28.8 L-366.9,-25.7 L-367.2,-22.5 L-367.5,-19.3 L-367.8,-16.1 L-367.9,-12.8 L-368.1,-9.6 L-368.2,-6.4 L-368.3,-3.2 L-368.3,-0.0 L-368.3,3.2 L-368.2,6.4 L-368.2,9.6 L-368.1,12.9 L-367.9,16.1 L-367.8,19.3 L-367.6,22.5 L-367.4,25.7 L-367.1,28.9 L-366.8,32.1 L-366.5,35.3 L-366.2,38.5 L-365.8,41.7 L-365.4,44.9 L-365.0,48.1 L-364.6,51.2 L-364.1,54.4 L-363.6,57.6 L-363.1,60.8 L-362.5,63.9 L-361.9,67.1 L-361.3,70.2 L-360.7,73.4 L-360.0,76.5 L-359.3,79.7 L-358.6,82.8 L-357.8,85.9 L-357.0,89.0 L-356.2,92.1 L-355.4,95.2 L-354.5,98.3 L-353.6,101.4 L-352.7,104.5 L-351.8,107.6 L-350.8,110.6 L-349.8,113.7 L-348.8,116.7 L-347.8,119.8 L-346.7,122.8 L-345.6,125.8 L-344.5,128.8 L-343.4,131.8 L-342.2,134.8 L-341.0,137.8 L-339.8,140.8 L-338.6,143.7 L-337.3,146.7 L-336.1,149.6 L-334.9,152.6 L-333.6,155.6 L-332.4,158.5 L-331.1,161.5 L-329.9,164.5 L-328.6,167.4 L-327.3,170.4 L-326.0,173.4 L-324.7,176.3 L-323.4,179.3 L-322.1,182.2 L-320.7,185.2 L-319.4,188.1 L-318.0,191.0 L-316.5,194.0 L-315.1,196.9 L-313.6,199.8 L-312.2,202.7 L-310.7,205.6 L-309.1,208.5 L-307.6,211.4 L-306.0,214.2 L-304.3,217.1 L-302.7,219.9 L-301.0,222.7 L-299.3,225.5 L-297.6,228.3 L-295.8,231.1 L-294.0,233.8 L-292.1,236.5 L-290.2,239.2 L-288.3,241.9 L-286.4,244.6 L-284.4,247.2 L-282.3,249.8 L-280.3,252.3 L-278.1,254.9 L-276.0,257.4 L-273.8,259.8 L-271.6,262.3 L-269.3,264.7 L-267.0,267.0 L-264.7,269.3 L-262.3,271.6 L-259.9,273.8 L-257.4,276.0 L-254.9,278.2 L-252.4,280.3 L-249.9,282.4 L-247.3,284.5 L-244.7,286.5 L-242.1,288.5 L-239.4,290.5 L-236.8,292.4 L-234.1,294.3 L-231.4,296.1 L-228.6,298.0 L-225.9,299.8 L-223.1,301.5 L-220.3,303.2 L-217.5,304.9 L-214.7,306.6 L-211.9,308.3 L-209.0,309.9 L-206.1,311.5 L-203.3,313.0 L-200.4,314.5 L-197.5,316.1 L-194.6,317.5 L-191.7,319.0 L-188.7,320.4 L-185.8,321.8 L-182.9,323.2 L-179.9,324.6 L-177.0,325.9 L-174.0,327.3 L-171.1,328.6 L-168.1,329.9 L-165.1,331.2 L-162.1,332.4 L-159.2,333.7 L-156.2,334.9 L-153.2,336.1 L-150.2,337.3 L-147.2,338.5 L-144.2,339.7 L-141.2,340.9 L-138.2,342.1 L-135.2,343.2 L-132.2,344.3 L-129.1,345.4 L-126.1,346.5 L-123.1,347.5 L-120.0,348.5 L-116.9,349.5 L-113.9,350.5 L-110.8,351.4 L-107.7,352.3 L-104.6,353.2 L-101.5,354.0 L-98.4,354.8 L-95.3,355.6 L-92.2,356.4 L-89.0,357.2 L-85.9,357.9 L-82.8,358.6 L-79.6,359.2 L-76.5,359.9 L-73.3,360.5 L-70.2,361.1 L-67.0,361.6 L-63.9,362.2 L-60.7,362.7 L-57.5,363.2 L-54.3,363.6 L-51.2,364.1 L-48.0,364.5 L-44.8,364.8 L-41.6,365.2 L-38.4,365.5 L-35.2,365.8 L-32.0,366.1 L-28.8,366.3 L-25.6,366.6 L-22.4,366.8 L-19.2,366.9 L-16.0,367.1 L-12.8,367.2 L-9.6,367.3 L-6.4,367.3 L-3.2,367.4 L-0.0,367.4 L3.2,367.4 L6.4,367.3 L9.6,367.3 L12.8,367.2 L16.0,367.1 L19.2,366.9 L22.4,366.7 L25.6,366.5 L28.8,366.3 L32.0,366.0 L35.2,365.7 L38.4,365.4 L41.6,365.1 L44.8,364.7 L48.0,364.3 L51.1,363.9 L54.3,363.4 L57.5,362.9 L60.6,362.4 L63.8,361.9 L67.0,361.3 L70.1,360.7 L73.3,360.1 L76.4,359.4 L79.5,358.8 L82.7,358.1 L85.8,357.3 L88.9,356.6 L92.0,355.8 L95.1,355.0 L98.2,354.1 L101.3,353.3 L104.4,352.4 L107.5,351.5 L110.5,350.5 L113.6,349.5 L116.6,348.5 L119.7,347.5 L122.7,346.5 L125.7,345.4 L128.7,344.3 L131.7,343.2 L134.7,342.0 L137.7,340.8 L140.7,339.6 L143.6,338.4 L146.6,337.1 L149.5,335.9 L152.5,334.5 L155.4,333.2 L158.3,331.9 L161.2,330.5 L164.1,329.1 L167.0,327.7 L169.8,326.2 L172.7,324.8 L175.5,323.3 L178.4,321.8 L181.2,320.2 L184.0,318.7 L186.8,317.1 L189.6,315.5 L192.3,313.9 L195.1,312.2 L197.8,310.6 L200.6,308.9 L203.3,307.1 L206.0,305.4 L208.7,303.6 L211.4,301.9 L214.0,300.1 L216.7,298.2 L219.3,296.4 L221.9,294.5 L224.5,292.6 L227.1,290.7 L229.7,288.8 L232.2,286.8 L234.8,284.8 L237.3,282.8 L239.8,280.8 L242.3,278.7 L244.8,276.7 L247.2,274.6 L249.7,272.5 L252.1,270.4 L254.5,268.2 L256.9,266.0 L259.3,263.8 L261.6,261.6 L264.0,259.4 L266.3,257.2 L268.6,254.9 L271.0,252.7 L273.3,250.4 L275.6,248.1 L277.9,245.8 L280.2,243.5 L282.5,241.2 L284.7,238.9 L287.0,236.6 L289.2,234.2 L291.5,231.8 L293.7,229.5 L295.9,227.0 L298.1,224.6 L300.3,222.2 L302.4,219.7 L304.6,217.2 L306.7,214.8 L308.8,212.2 L310.9,209.7 L313.0,207.1 L315.0,204.6 L317.0,202.0 L319.0,199.3 L321.0,196.7 L322.9,194.0 L324.9,191.4 L326.8,188.7 L328.6,185.9 L330.5,183.2 L332.3,180.4 L334.0,177.6 L335.8,174.8 L337.5,172.0 L339.2,169.1 L340.8,166.2 L342.4,163.3 L344.0,160.4 L345.5,157.4 L347.0,154.5 L348.4,151.5 L349.8,148.5 L351.2,145.5 L352.5,142.4 L353.8,139.4 L355.0,136.3 L356.3,133.2 L357.5,130.1 L358.7,127.0 L359.8,123.9 L360.9,120.8 L362.0,117.6 L363.1,114.5 L364.2,111.3 L365.2,108.2 L366.2,105.0 L367.1,101.8 L368.0,98.6 L368.9,95.4 L369.8,92.2 L370.6,89.0 L371.5,85.8 L372.2,82.5 L373.0,79.3 L373.7,76.0 L374.4,72.8 L375.1,69.5 L375.7,66.2 L376.3,63.0 L376.9,59.7 L377.4,56.4 L377.9,53.1 L378.4,49.8 L378.8,46.5 L379.3,43.2 L379.7,39.9 L380.0,36.6 L380.3,33.3 L380.6,30.0 L380.9,26.6 L381.1,23.3 L381.3,20.0 L381.5,16.7 L381.6,13.3 L381.8,10.0 L381.8,6.7 L381.9,3.3Z" fill="#fdc690"/>
<path d="M350.6,-0.0 L350.6,-3.1 L350.5,-6.1 L350.4,-9.2 L350.2,-12.2 L350.0,-15.3 L349.7,-18.3 L349.4,-21.4 L349.1,-24.4 L348.7,-27.4 L348.2,-30.5 L347.7,-33.5 L347.2,-36.5 L346.7,-39.5 L346.1,-42.5 L345.5,-45.5 L344.8,-48.5 L344.1,-51.4 L343.4,-54.4 L342.6,-57.3 L341.9,-60.3 L341.1,-63.2 L340.2,-66.1 L339.4,-69.0 L338.5,-71.9 L337.6,-74.8 L336.6,-77.7 L335.7,-80.6 L334.7,-83.5 L333.7,-86.3 L332.7,-89.2 L331.7,-92.0 L330.7,-94.8 L329.6,-97.6 L328.5,-100.4 L327.5,-103.2 L326.4,-106.0 L325.3,-108.8 L324.2,-111.6 L323.0,-114.4 L321.9,-117.2 L320.8,-119.9 L319.7,-122.7 L318.5,-125.5 L317.4,-128.2 L316.2,-131.0 L315.1,-133.7 L313.9,-136.5 L312.7,-139.2 L311.5,-142.0 L310.3,-144.7 L309.0,-147.4 L307.8,-150.1 L306.5,-152.8 L305.2,-155.5 L303.8,-158.2 L302.5,-160.8 L301.1,-163.5 L299.7,-166.1 L298.3,-168.8 L296.9,-171.4 L295.4,-174.0 L294.0,-176.6 L292.5,-179.2 L291.0,-181.8 L289.4,-184.4 L287.9,-187.0 L286.3,-189.5 L284.7,-192.1 L283.1,-194.6 L281.5,-197.1 L279.8,-199.6 L278.2,-202.1 L276.5,-204.6 L274.7,-207.0 L273.0,-209.5 L271.2,-211.9 L269.5,-214.3 L267.7,-216.7 L265.8,-219.1 L264.0,-221.5 L262.1,-223.9 L260.3,-226.2 L258.4,-228.6 L256.4,-230.9 L254.5,-233.2 L252.5,-235.5 L250.5,-237.7 L248.5,-240.0 L246.5,-242.2 L244.4,-244.4 L242.4,-246.7 L240.3,-248.8 L238.2,-251.0 L236.1,-253.2 L234.0,-255.4 L231.9,-257.6 L229.8,-259.7 L227.6,-261.8 L225.5,-264.0 L223.3,-266.1 L221.1,-268.2 L218.9,-270.3 L216.7,-272.4 L214.4,-274.4 L212.2,-276.5 L209.9,-278.5 L207.6,-280.5 L205.3,-282.5 L202.9,-284.5 L200.6,-286.5 L198.2,-288.4 L195.8,-290.4 L193.4,-292.3 L191.0,-294.1 L188.6,-296.0 L186.1,-297.8 L183.6,-299.6 L181.1,-301.4 L178.6,-303.2 L176.0,-304.9 L173.5,-306.6 L170.9,-308.3 L168.3,-309.9 L165.6,-311.5 L163.0,-313.1 L160.3,-314.6 L157.6,-316.1 L154.9,-317.6 L152.2,-319.0 L149.4,-320.4 L146.7,-321.8 L143.9,-323.1 L141.1,-324.4 L138.2,-325.7 L135.4,-326.9 L132.5,-328.0 L129.7,-329.2 L126.8,-330.3 L123.9,-331.4 L121.0,-332.4 L118.1,-333.4 L115.2,-334.4 L112.2,-335.4 L109.3,-336.3 L106.3,-337.3 L103.4,-338.1 L100.4,-339.0 L97.4,-339.8 L94.5,-340.6 L91.5,-341.4 L88.5,-342.1 L85.5,-342.8 L82.5,-343.5 L79.5,-344.2 L76.4,-344.8 L73.4,-345.4 L70.4,-346.0 L67.4,-346.5 L64.3,-347.0 L61.3,-347.5 L58.2,-347.9 L55.2,-348.4 L52.1,-348.8 L49.1,-349.1 L46.0,-349.5 L42.9,-349.8 L39.9,-350.1 L36.8,-350.3 L33.8,-350.6 L30.7,-350.8 L27.6,-350.9 L24.6,-351.1 L21.5,-351.2 L18.4,-351.3 L15.3,-351.4 L12.3,-351.4 L9.2,-351.4 L6.1,-351.4 L3.1,-351.4 L0.0,-351.3 L-3.1,-351.2 L-6.1,-351.1 L-9.2,-350.9 L-12.2,-350.7 L-15.3,-350.5 L-18.4,-350.2 L-21.4,-349.9 L-24.4,-349.6 L-27.5,-349.3 L-30.5,-348.9 L-33.6,-348.5 L-36.6,-348.1 L-39.6,-347.6 L-42.6,-347.1 L-45.6,-346.6 L-48.6,-346.0 L-51.6,-345.4 L-54.6,-344.8 L-57.6,-344.2 L-60.6,-343.5 L-63.5,-342.8 L-66.5,-342.1 L-69.4,-341.3 L-72.4,-340.5 L-75.3,-339.7 L-78.2,-338.9 L-81.1,-338.0 L-84.1,-337.1 L-86.9,-336.2 L-89.8,-335.3 L-92.7,-334.3 L-95.6,-333.3 L-98.4,-332.3 L-101.3,-331.3 L-104.1,-330.2 L-106.9,-329.1 L-109.7,-328.0 L-112.5,-326.9 L-115.3,-325.7 L-118.1,-324.5 L-120.9,-323.3 L-123.6,-322.1 L-126.4,-320.8 L-129.1,-319.6 L-131.8,-318.3 L-134.5,-317.0 L-137.2,-315.6 L-139.9,-314.2 L-142.6,-312.8 L-145.2,-311.4 L-147.8,-309.9 L-150.4,-308.4 L-153.0,-306.9 L-155.6,-305.3 L-158.1,-303.8 L-160.7,-302.2 L-163.2,-300.6 L-165.7,-298.9 L-168.2,-297.2 L-170.6,-295.6 L-173.1,-293.8 L-175.5,-292.1 L-177.9,-290.4 L-180.3,-288.6 L-182.7,-286.8 L-185.1,-285.0 L-187.4,-283.2 L-189.8,-281.3 L-192.1,-279.5 L-194.4,-277.6 L-196.7,-275.7 L-198.9,-273.8 L-201.2,-271.9 L-203.5,-270.0 L-205.7,-268.1 L-207.9,-266.1 L-210.1,-264.1 L-212.3,-262.2 L-214.5,-260.2 L-216.7,-258.2 L-218.8,-256.2 L-221.0,-254.2 L-223.1,-252.2 L-225.2,-250.1 L-227.3,-248.1 L-229.4,-246.0 L-231.5,-244.0 L-233.6,-241.9 L-235.7,-239.9 L-237.8,-237.8 L-239.9,-235.7 L-241.9,-233.6 L-244.0,-231.5 L-246.0,-229.4 L-248.1,-227.3 L-250.1,-225.2 L-252.1,-223.0 L-254.1,-220.9 L-256.1,-218.7 L-258.0,-216.5 L-260.0,-214.3 L-261.9,-212.1 L-263.8,-209.8 L-265.7,-207.6 L-267.5,-205.3 L-269.4,-203.0 L-271.2,-200.7 L-272.9,-198.3 L-274.7,-195.9 L-276.4,-193.5 L-278.0,-191.1 L-279.6,-188.6 L-281.2,-186.1 L-282.7,-183.6 L-284.1,-181.0 L-285.5,-178.4 L-286.9,-175.8 L-288.2,-173.2 L-289.5,-170.5 L-290.7,-167.8 L-291.9,-165.2 L-293.1,-162.5 L-294.2,-159.8 L-295.4,-157.0 L-296.5,-154.3 L-297.5,-151.6 L-298.6,-148.9 L-299.7,-146.2 L-300.8,-143.5 L-301.8,-140.7 L-302.9,-138.0 L-303.9,-135.3 L-305.0,-132.6 L-306.1,-129.9 L-307.2,-127.2 L-308.3,-124.6 L-309.4,-121.9 L-310.5,-119.2 L-311.5,-116.5 L-312.6,-113.8 L-313.6,-111.1 L-314.6,-108.3 L-315.6,-105.6 L-316.6,-102.9 L-317.6,-100.1 L-318.5,-97.4 L-319.5,-94.6 L-320.4,-91.9 L-321.3,-89.1 L-322.2,-86.3 L-323.0,-83.5 L-323.9,-80.7 L-324.7,-77.9 L-325.5,-75.1 L-326.2,-72.3 L-327.0,-69.5 L-327.7,-66.7 L-328.4,-63.8 L-329.1,-61.0 L-329.8,-58.1 L-330.4,-55.3 L-331.0,-52.4 L-331.6,-49.6 L-332.2,-46.7 L-332.7,-43.8 L-333.2,-40.9 L-333.7,-38.0 L-334.1,-35.1 L-334.5,-32.2 L-334.9,-29.3 L-335.3,-26.4 L-335.6,-23.5 L-335.9,-20.5 L-336.1,-17.6 L-336.4,-14.7 L-336.6,-11.8 L-336.7,-8.8 L-336.8,-5.9 L-336.9,-2.9 L-337.0,-0.0 L-337.0,2.9 L-337.0,5.9 L-337.0,8.8 L-336.9,11.8 L-336.9,14.7 L-336.8,17.6 L-336.6,20.6 L-336.5,23.5 L-336.3,26.5 L-336.0,29.4 L-335.8,32.3 L-335.5,35.3 L-335.2,38.2 L-334.9,41.1 L-334.6,44.0 L-334.2,47.0 L-333.8,49.9 L-333.3,52.8 L-332.9,55.7 L-332.4,58.6 L-331.9,61.5 L-331.4,64.4 L-330.8,67.3 L-330.2,70.2 L-329.6,73.1 L-329.0,76.0 L-328.3,78.8 L-327.6,81.7 L-326.9,84.6 L-326.2,87.4 L-325.5,90.3 L-324.7,93.1 L-323.9,95.9 L-323.1,98.8 L-322.2,101.6 L-321.3,104.4 L-320.4,107.2 L-319.5,110.0 L-318.6,112.8 L-317.6,115.6 L-316.6,118.4 L-315.6,121.2 L-314.6,123.9 L-313.5,126.7 L-312.5,129.4 L-311.4,132.2 L-310.3,134.9 L-309.2,137.6 L-308.0,140.4 L-306.9,143.1 L-305.8,145.9 L-304.6,148.6 L-303.5,151.3 L-302.3,154.0 L-301.1,156.7 L-299.9,159.5 L-298.7,162.2 L-297.4,164.9 L-296.2,167.6 L-294.9,170.3 L-293.6,173.0 L-292.3,175.6 L-291.0,178.3 L-289.6,181.0 L-288.2,183.6 L-286.8,186.3 L-285.4,188.9 L-283.9,191.5 L-282.5,194.1 L-280.9,196.7 L-279.4,199.3 L-277.9,201.9 L-276.3,204.4 L-274.7,207.0 L-273.0,209.5 L-271.3,212.0 L-269.6,214.5 L-267.9,217.0 L-266.2,219.4 L-264.4,221.8 L-262.5,224.2 L-260.7,226.6 L-258.8,229.0 L-256.9,231.3 L-254.9,233.6 L-252.9,235.9 L-250.9,238.1 L-248.9,240.3 L-246.8,242.5 L-244.7,244.7 L-242.5,246.8 L-240.3,248.9 L-238.1,250.9 L-235.9,252.9 L-233.6,254.9 L-231.3,256.9 L-229.0,258.8 L-226.6,260.7 L-224.2,262.5 L-221.8,264.4 L-219.4,266.2 L-217.0,267.9 L-214.5,269.7 L-212.0,271.4 L-209.5,273.1 L-207.0,274.7 L-204.5,276.3 L-201.9,277.9 L-199.3,279.5 L-196.8,281.0 L-194.2,282.5 L-191.6,284.0 L-189.0,285.5 L-186.3,286.9 L-183.7,288.3 L-181.0,289.7 L-178.4,291.1 L-175.7,292.4 L-173.0,293.8 L-170.4,295.1 L-167.7,296.3 L-165.0,297.6 L-162.3,298.9 L-159.6,300.1 L-156.9,301.3 L-154.1,302.5 L-151.4,303.7 L-148.7,304.9 L-146.0,306.1 L-143.3,307.2 L-140.5,308.3 L-137.8,309.5 L-135.1,310.6 L-132.3,311.7 L-129.6,312.8 L-126.8,313.9 L-124.1,315.0 L-121.3,316.0 L-118.5,317.1 L-115.8,318.1 L-113.0,319.0 L-110.2,320.0 L-107.4,320.9 L-104.6,321.8 L-101.7,322.7 L-98.9,323.5 L-96.1,324.4 L-93.2,325.2 L-90.4,325.9 L-87.5,326.7 L-84.7,327.4 L-81.8,328.1 L-78.9,328.8 L-76.1,329.5 L-73.2,330.1 L-70.3,330.7 L-67.4,331.3 L-64.5,331.9 L-61.6,332.4 L-58.7,332.9 L-55.8,333.4 L-52.9,333.9 L-50.0,334.3 L-47.0,334.7 L-44.1,335.1 L-41.2,335.5 L-38.3,335.8 L-35.3,336.1 L-32.4,336.4 L-29.5,336.7 L-26.5,336.9 L-23.6,337.1 L-20.6,337.3 L-17.7,337.5 L-14.7,337.6 L-11.8,337.7 L-8.8,337.8 L-5.9,337.9 L-2.9,337.9 L-0.0,337.9 L2.9,337.9 L5.9,337.9 L8.8,337.8 L11.8,337.7 L14.7,337.6 L17.7,337.5 L20.6,337.3 L23.6,337.1 L26.5,336.9 L29.5,336.7 L32.4,336.5 L35.3,336.2 L38.3,335.9 L41.2,335.6 L44.1,335.2 L47.1,334.8 L50.0,334.4 L52.9,334.0 L55.8,333.6 L58.7,333.1 L61.6,332.6 L64.5,332.1 L67.4,331.5 L70.3,330.9 L73.2,330.3 L76.1,329.7 L79.0,329.0 L81.9,328.4 L84.7,327.7 L87.6,326.9 L90.5,326.2 L93.3,325.4 L96.1,324.6 L99.0,323.8 L101.8,322.9 L104.6,322.0 L107.4,321.1 L110.2,320.2 L113.0,319.2 L115.8,318.2 L118.6,317.2 L121.4,316.2 L124.1,315.1 L126.9,314.0 L129.6,312.9 L132.3,311.8 L135.1,310.6 L137.8,309.4 L140.5,308.2 L143.1,307.0 L145.8,305.7 L148.5,304.4 L151.1,303.1 L153.8,301.8 L156.4,300.5 L159.0,299.1 L161.6,297.7 L164.2,296.3 L166.8,294.8 L169.4,293.4 L171.9,291.9 L174.5,290.4 L177.0,288.8 L179.5,287.3 L182.0,285.7 L184.5,284.1 L187.0,282.5 L189.4,280.8 L191.9,279.2 L194.3,277.5 L196.7,275.8 L199.1,274.1 L201.5,272.3 L203.9,270.5 L206.2,268.8 L208.6,266.9 L210.9,265.1 L213.2,263.3 L215.5,261.4 L217.8,259.5 L220.0,257.6 L222.3,255.7 L224.5,253.7 L226.7,251.8 L228.9,249.8 L231.1,247.8 L233.2,245.7 L235.3,243.7 L237.5,241.6 L239.6,239.6 L241.7,237.5 L243.7,235.4 L245.8,233.3 L247.9,231.2 L249.9,229.0 L252.0,226.9 L254.0,224.7 L256.1,222.6 L258.1,220.4 L260.1,218.2 L262.1,216.1 L264.1,213.9 L266.1,211.6 L268.0,209.4 L270.0,207.2 L271.9,204.9 L273.9,202.6 L275.8,200.4 L277.7,198.1 L279.5,195.7 L281.4,193.4 L283.3,191.1 L285.1,188.7 L286.9,186.3 L288.7,183.9 L290.5,181.5 L292.2,179.1 L294.0,176.6 L295.7,174.2 L297.4,171.7 L299.1,169.2 L300.7,166.7 L302.3,164.2 L303.9,161.6 L305.5,159.0 L307.1,156.5 L308.6,153.9 L310.1,151.2 L311.6,148.6 L313.0,146.0 L314.4,143.3 L315.8,140.6 L317.1,137.9 L318.5,135.2 L319.8,132.4 L321.0,129.7 L322.3,126.9 L323.5,124.2 L324.7,121.4 L325.8,118.6 L327.0,115.8 L328.1,113.0 L329.2,110.2 L330.3,107.3 L331.3,104.5 L332.4,101.6 L333.4,98.7 L334.3,95.9 L335.3,93.0 L336.2,90.1 L337.1,87.2 L338.0,84.3 L338.9,81.4 L339.7,78.4 L340.5,75.5 L341.2,72.5 L342.0,69.6 L342.7,66.6 L343.4,63.6 L344.0,60.7 L344.7,57.7 L345.2,54.7 L345.8,51.7 L346.3,48.7 L346.9,45.7 L347.3,42.6 L347.8,39.6 L348.2,36.6 L348.6,33.6 L348.9,30.5 L349.2,27.5 L349.5,24.4 L349.8,21.4 L350.0,18.3 L350.2,15.3 L350.3,12.2 L350.4,9.2 L350.5,6.1 L350.6,3.1Z" fill="#fdd8a6"/>
<path d="M323.3,-0.0 L323.3,-2.8 L323.2,-5.6 L323.1,-8.5 L322.9,-11.3 L322.6,-14.1 L322.4,-16.9 L322.0,-19.7 L321.6,-22.5 L321.2,-25.3 L320.8,-28.1 L320.3,-30.8 L319.7,-33.6 L319.1,-36.4 L318.5,-39.1 L317.9,-41.8 L317.2,-44.6 L316.5,-47.3 L315.7,-50.0 L314.9,-52.7 L314.1,-55.4 L313.3,-58.1 L312.4,-60.7 L311.5,-63.4 L310.6,-66.0 L309.7,-68.7 L308.8,-71.3 L307.8,-73.9 L306.8,-76.5 L305.8,-79.1 L304.8,-81.7 L303.8,-84.3 L302.8,-86.8 L301.8,-89.4 L300.7,-91.9 L299.7,-94.5 L298.6,-97.0 L297.6,-99.6 L296.5,-102.1 L295.4,-104.6 L294.4,-107.1 L293.3,-109.7 L292.2,-112.2 L291.2,-114.7 L290.1,-117.2 L289.1,-119.7 L288.0,-122.3 L286.9,-124.8 L285.9,-127.3 L284.7,-129.8 L283.6,-132.2 L282.4,-134.7 L281.3,-137.2 L280.1,-139.6 L278.8,-142.1 L277.6,-144.5 L276.3,-146.9 L275.0,-149.3 L273.7,-151.7 L272.4,-154.1 L271.1,-156.5 L269.7,-158.9 L268.3,-161.2 L266.9,-163.6 L265.5,-165.9 L264.0,-168.2 L262.6,-170.5 L261.1,-172.8 L259.6,-175.1 L258.1,-177.4 L256.5,-179.6 L255.0,-181.9 L253.4,-184.1 L251.8,-186.3 L250.2,-188.5 L248.5,-190.7 L246.9,-192.9 L245.2,-195.0 L243.5,-197.2 L241.8,-199.3 L240.1,-201.5 L238.3,-203.6 L236.6,-205.6 L234.8,-207.7 L233.0,-209.8 L231.2,-211.8 L229.3,-213.9 L227.5,-215.9 L225.6,-217.9 L223.7,-219.9 L221.8,-221.8 L219.9,-223.8 L218.0,-225.7 L216.1,-227.7 L214.2,-229.7 L212.2,-231.6 L210.3,-233.6 L208.4,-235.5 L206.4,-237.5 L204.5,-239.4 L202.5,-241.3 L200.5,-243.3 L198.6,-245.2 L196.6,-247.1 L194.6,-249.0 L192.6,-250.9 L190.5,-252.8 L188.5,-254.7 L186.4,-256.6 L184.3,-258.4 L182.2,-260.3 L180.1,-262.1 L178.0,-263.9 L175.9,-265.7 L173.7,-267.5 L171.5,-269.2 L169.3,-271.0 L167.1,-272.7 L164.9,-274.4 L162.6,-276.0 L160.3,-277.7 L158.0,-279.3 L155.7,-280.9 L153.4,-282.4 L151.0,-284.0 L148.6,-285.5 L146.2,-286.9 L143.8,-288.4 L141.3,-289.8 L138.9,-291.1 L136.4,-292.4 L133.9,-293.7 L131.3,-295.0 L128.8,-296.1 L126.2,-297.3 L123.6,-298.4 L121.0,-299.5 L118.4,-300.5 L115.8,-301.6 L113.1,-302.6 L110.5,-303.6 L107.8,-304.5 L105.2,-305.5 L102.5,-306.4 L99.8,-307.3 L97.2,-308.1 L94.5,-309.0 L91.8,-309.8 L89.1,-310.6 L86.3,-311.4 L83.6,-312.1 L80.9,-312.8 L78.2,-313.5 L75.4,-314.2 L72.7,-314.9 L69.9,-315.5 L67.2,-316.1 L64.4,-316.7 L61.7,-317.2 L58.9,-317.7 L56.1,-318.3 L53.3,-318.7 L50.6,-319.2 L47.8,-319.6 L45.0,-320.0 L42.2,-320.4 L39.4,-320.8 L36.6,-321.1 L33.8,-321.4 L31.0,-321.7 L28.2,-322.0 L25.4,-322.2 L22.5,-322.4 L19.7,-322.6 L16.9,-322.8 L14.1,-322.9 L11.3,-323.0 L8.5,-323.1 L5.6,-323.2 L2.8,-323.2 L0.0,-323.2 L-2.8,-323.2 L-5.6,-323.1 L-8.5,-323.1 L-11.3,-323.0 L-14.1,-322.8 L-16.9,-322.7 L-19.7,-322.5 L-22.5,-322.3 L-25.3,-322.0 L-28.1,-321.7 L-31.0,-321.4 L-33.7,-321.1 L-36.5,-320.7 L-39.3,-320.4 L-42.1,-319.9 L-44.9,-319.5 L-47.7,-319.0 L-50.5,-318.5 L-53.2,-318.0 L-56.0,-317.5 L-58.7,-316.9 L-61.5,-316.3 L-64.2,-315.7 L-67.0,-315.0 L-69.7,-314.3 L-72.4,-313.6 L-75.1,-312.9 L-77.8,-312.1 L-80.5,-311.4 L-83.2,-310.6 L-85.9,-309.7 L-88.6,-308.9 L-91.2,-308.0 L-93.9,-307.1 L-96.5,-306.2 L-99.2,-305.2 L-101.8,-304.3 L-104.4,-303.3 L-107.0,-302.3 L-109.6,-301.2 L-112.2,-300.2 L-114.8,-299.1 L-117.4,-298.0 L-119.9,-296.9 L-122.5,-295.7 L-125.0,-294.6 L-127.6,-293.4 L-130.1,-292.2 L-132.6,-290.9 L-135.1,-289.7 L-137.5,-288.4 L-140.0,-287.1 L-142.5,-285.7 L-144.9,-284.4 L-147.3,-283.0 L-149.7,-281.6 L-152.1,-280.1 L-154.5,-278.7 L-156.8,-277.2 L-159.2,-275.7 L-161.5,-274.2 L-163.8,-272.7 L-166.1,-271.1 L-168.4,-269.5 L-170.7,-267.9 L-172.9,-266.3 L-175.2,-264.7 L-177.4,-263.0 L-179.6,-261.3 L-181.8,-259.6 L-184.0,-257.9 L-186.1,-256.2 L-188.3,-254.4 L-190.4,-252.7 L-192.5,-250.9 L-194.6,-249.1 L-196.7,-247.2 L-198.7,-245.4 L-200.7,-243.5 L-202.8,-241.7 L-204.8,-239.8 L-206.8,-237.9 L-208.7,-235.9 L-210.7,-234.0 L-212.6,-232.0 L-214.5,-230.1 L-216.4,-228.1 L-218.3,-226.1 L-220.2,-224.1 L-222.0,-222.0 L-223.9,-220.0 L-225.7,-217.9 L-227.5,-215.9 L-229.3,-213.8 L-231.0,-211.7 L-232.8,-209.6 L-234.5,-207.5 L-236.2,-205.3 L-237.9,-203.2 L-239.5,-201.0 L-241.2,-198.8 L-242.8,-196.6 L-244.3,-194.3 L-245.8,-192.1 L-247.3,-189.8 L-248.7,-187.4 L-250.0,-185.0 L-251.3,-182.6 L-252.6,-180.1 L-253.7,-177.7 L-254.9,-175.2 L-256.0,-172.6 L-257.0,-170.1 L-258.0,-167.5 L-259.0,-165.0 L-259.9,-162.4 L-260.8,-159.8 L-261.7,-157.2 L-262.5,-154.6 L-263.4,-152.0 L-264.2,-149.5 L-265.0,-146.9 L-265.8,-144.3 L-266.5,-141.7 L-267.3,-139.2 L-268.1,-136.6 L-268.9,-134.1 L-269.7,-131.5 L-270.5,-129.0 L-271.3,-126.5 L-272.2,-124.0 L-273.1,-121.6 L-274.0,-119.1 L-274.9,-116.7 L-275.9,-114.3 L-276.9,-111.9 L-277.8,-109.4 L-278.8,-107.0 L-279.8,-104.6 L-280.7,-102.2 L-281.6,-99.7 L-282.6,-97.3 L-283.5,-94.8 L-284.4,-92.4 L-285.2,-89.9 L-286.1,-87.5 L-286.9,-85.0 L-287.8,-82.5 L-288.6,-80.0 L-289.4,-77.5 L-290.1,-75.0 L-290.9,-72.5 L-291.6,-70.0 L-292.4,-67.5 L-293.1,-65.0 L-293.7,-62.4 L-294.4,-59.9 L-295.0,-57.4 L-295.7,-54.8 L-296.3,-52.2 L-296.8,-49.7 L-297.4,-47.1 L-297.9,-44.5 L-298.4,-41.9 L-298.9,-39.3 L-299.3,-36.8 L-299.8,-34.2 L-300.2,-31.5 L-300.5,-28.9 L-300.9,-26.3 L-301.2,-23.7 L-301.5,-21.1 L-301.7,-18.5 L-302.0,-15.8 L-302.2,-13.2 L-302.3,-10.6 L-302.5,-7.9 L-302.6,-5.3 L-302.7,-2.6 L-302.7,-0.0 L-302.7,2.6 L-302.7,5.3 L-302.7,7.9 L-302.6,10.6 L-302.5,13.2 L-302.4,15.8 L-302.3,18.5 L-302.1,21.1 L-302.0,23.8 L-301.7,26.4 L-301.5,29.0 L-301.3,31.7 L-301.0,34.3 L-300.7,36.9 L-300.4,39.5 L-300.0,42.2 L-299.7,44.8 L-299.3,47.4 L-298.9,50.0 L-298.4,52.6 L-298.0,55.2 L-297.5,57.8 L-297.0,60.4 L-296.4,63.0 L-295.9,65.6 L-295.3,68.2 L-294.7,70.8 L-294.1,73.3 L-293.5,75.9 L-292.8,78.5 L-292.1,81.0 L-291.4,83.6 L-290.7,86.1 L-289.9,88.6 L-289.2,91.2 L-288.4,93.7 L-287.6,96.2 L-286.7,98.7 L-285.9,101.2 L-285.0,103.7 L-284.1,106.2 L-283.2,108.7 L-282.2,111.2 L-281.3,113.6 L-280.3,116.1 L-279.3,118.6 L-278.3,121.0 L-277.3,123.5 L-276.3,125.9 L-275.2,128.3 L-274.2,130.8 L-273.1,133.2 L-272.0,135.6 L-270.9,138.0 L-269.8,140.4 L-268.6,142.8 L-267.5,145.2 L-266.3,147.6 L-265.1,150.0 L-263.9,152.4 L-262.7,154.7 L-261.5,157.1 L-260.2,159.4 L-258.9,161.8 L-257.6,164.1 L-256.3,166.4 L-254.9,168.7 L-253.6,171.0 L-252.2,173.3 L-250.8,175.6 L-249.4,177.9 L-247.9,180.1 L-246.4,182.4 L-244.9,184.6 L-243.4,186.8 L-241.9,189.0 L-240.3,191.2 L-238.7,193.3 L-237.1,195.5 L-235.5,197.6 L-233.8,199.7 L-232.1,201.8 L-230.4,203.8 L-228.7,205.9 L-226.9,207.9 L-225.1,209.9 L-223.3,211.9 L-221.5,213.9 L-219.6,215.8 L-217.7,217.7 L-215.8,219.6 L-213.9,221.5 L-211.9,223.3 L-209.9,225.1 L-207.9,226.9 L-205.9,228.6 L-203.8,230.4 L-201.7,232.1 L-199.6,233.8 L-197.5,235.4 L-195.4,237.0 L-193.2,238.6 L-191.1,240.2 L-188.9,241.8 L-186.7,243.3 L-184.5,244.8 L-182.3,246.3 L-180.0,247.8 L-177.7,249.2 L-175.5,250.6 L-173.2,252.0 L-170.9,253.4 L-168.6,254.7 L-166.3,256.1 L-164.0,257.4 L-161.6,258.7 L-159.3,259.9 L-156.9,261.2 L-154.6,262.4 L-152.2,263.6 L-149.8,264.8 L-147.5,266.0 L-145.1,267.2 L-142.7,268.3 L-140.3,269.5 L-137.9,270.6 L-135.5,271.7 L-133.0,272.8 L-130.6,273.9 L-128.2,274.9 L-125.8,276.0 L-123.3,277.0 L-120.9,278.1 L-118.5,279.1 L-116.0,280.1 L-113.6,281.1 L-111.1,282.1 L-108.7,283.1 L-106.2,284.0 L-103.7,284.9 L-101.2,285.8 L-98.7,286.7 L-96.2,287.6 L-93.7,288.4 L-91.2,289.2 L-88.7,290.0 L-86.1,290.8 L-83.6,291.5 L-81.0,292.2 L-78.5,292.9 L-75.9,293.6 L-73.4,294.3 L-70.8,294.9 L-68.2,295.5 L-65.7,296.1 L-63.1,296.7 L-60.5,297.3 L-57.9,297.8 L-55.3,298.3 L-52.7,298.8 L-50.1,299.2 L-47.5,299.7 L-44.8,300.1 L-42.2,300.5 L-39.6,300.8 L-37.0,301.2 L-34.4,301.5 L-31.7,301.8 L-29.1,302.1 L-26.4,302.3 L-23.8,302.5 L-21.2,302.7 L-18.5,302.9 L-15.9,303.1 L-13.2,303.2 L-10.6,303.3 L-7.9,303.4 L-5.3,303.5 L-2.6,303.5 L-0.0,303.5 L2.6,303.5 L5.3,303.4 L7.9,303.4 L10.6,303.3 L13.2,303.2 L15.9,303.0 L18.5,302.8 L21.2,302.7 L23.8,302.4 L26.4,302.2 L29.1,301.9 L31.7,301.6 L34.3,301.3 L37.0,300.9 L39.6,300.6 L42.2,300.2 L44.8,299.8 L47.4,299.3 L50.0,298.8 L52.6,298.4 L55.2,297.8 L57.8,297.3 L60.4,296.7 L63.0,296.2 L65.5,295.6 L68.1,294.9 L70.7,294.3 L73.2,293.6 L75.8,292.9 L78.3,292.2 L80.8,291.5 L83.4,290.7 L85.9,290.0 L88.4,289.2 L90.9,288.4 L93.4,287.5 L95.9,286.7 L98.4,285.8 L100.9,284.9 L103.4,284.0 L105.8,283.1 L108.3,282.1 L110.8,281.2 L113.2,280.2 L115.6,279.2 L118.1,278.2 L120.5,277.2 L122.9,276.1 L125.3,275.1 L127.8,274.0 L130.2,272.9 L132.6,271.8 L135.0,270.7 L137.3,269.6 L139.7,268.4 L142.1,267.3 L144.5,266.1 L146.8,264.9 L149.2,263.7 L151.5,262.5 L153.9,261.2 L156.2,260.0 L158.5,258.7 L160.9,257.4 L163.2,256.1 L165.5,254.8 L167.8,253.5 L170.0,252.1 L172.3,250.7 L174.6,249.3 L176.8,247.9 L179.1,246.5 L181.3,245.0 L183.6,243.6 L185.8,242.1 L188.0,240.6 L190.2,239.1 L192.3,237.5 L194.5,236.0 L196.7,234.4 L198.8,232.8 L201.0,231.2 L203.1,229.5 L205.2,227.9 L207.3,226.2 L209.3,224.5 L211.4,222.8 L213.5,221.0 L215.5,219.3 L217.5,217.5 L219.5,215.7 L221.5,213.9 L223.5,212.1 L225.5,210.3 L227.4,208.4 L229.4,206.6 L231.4,204.7 L233.3,202.8 L235.2,200.9 L237.1,199.0 L239.0,197.1 L240.9,195.1 L242.8,193.1 L244.7,191.2 L246.5,189.2 L248.4,187.2 L250.2,185.1 L252.0,183.1 L253.8,181.1 L255.6,179.0 L257.4,176.9 L259.1,174.8 L260.9,172.7 L262.6,170.5 L264.3,168.4 L265.9,166.2 L267.6,164.0 L269.2,161.8 L270.9,159.6 L272.5,157.3 L274.0,155.0 L275.6,152.8 L277.1,150.5 L278.7,148.2 L280.1,145.8 L281.6,143.5 L283.0,141.1 L284.5,138.7 L285.8,136.3 L287.2,133.9 L288.5,131.5 L289.9,129.1 L291.1,126.6 L292.4,124.1 L293.6,121.6 L294.8,119.1 L296.0,116.6 L297.1,114.1 L298.3,111.5 L299.4,109.0 L300.5,106.4 L301.6,103.8 L302.6,101.3 L303.7,98.7 L304.7,96.1 L305.7,93.4 L306.6,90.8 L307.6,88.2 L308.5,85.5 L309.4,82.9 L310.2,80.2 L311.1,77.6 L311.9,74.9 L312.7,72.2 L313.5,69.5 L314.2,66.8 L314.9,64.1 L315.6,61.3 L316.3,58.6 L316.9,55.9 L317.5,53.1 L318.1,50.4 L318.6,47.6 L319.2,44.9 L319.6,42.1 L320.1,39.3 L320.5,36.5 L320.9,33.7 L321.3,30.9 L321.7,28.1 L322.0,25.3 L322.2,22.5 L322.5,19.7 L322.7,16.9 L322.9,14.1 L323.0,11.3 L323.1,8.5 L323.2,5.6 L323.3,2.8Z" fill="#fee7c5"/>
<path d="M276.8,-0.0 L276.8,-2.4 L276.7,-4.8 L276.6,-7.2 L276.5,-9.7 L276.4,-12.1 L276.2,-14.5 L276.0,-16.9 L275.8,-19.3 L275.5,-21.7 L275.2,-24.1 L274.9,-26.5 L274.5,-28.9 L274.1,-31.2 L273.7,-33.6 L273.3,-36.0 L272.8,-38.3 L272.4,-40.7 L271.9,-43.1 L271.3,-45.4 L270.8,-47.7 L270.2,-50.1 L269.6,-52.4 L269.0,-54.7 L268.4,-57.0 L267.7,-59.4 L267.1,-61.7 L266.4,-63.9 L265.7,-66.2 L264.9,-68.5 L264.2,-70.8 L263.4,-73.1 L262.7,-75.3 L261.9,-77.6 L261.1,-79.8 L260.3,-82.1 L259.5,-84.3 L258.6,-86.5 L257.8,-88.8 L256.9,-91.0 L256.1,-93.2 L255.2,-95.4 L254.3,-97.6 L253.4,-99.8 L252.5,-102.0 L251.6,-104.2 L250.6,-106.4 L249.7,-108.6 L248.7,-110.7 L247.8,-112.9 L246.8,-115.1 L245.7,-117.2 L244.7,-119.3 L243.6,-121.5 L242.6,-123.6 L241.5,-125.7 L240.4,-127.8 L239.2,-129.9 L238.1,-132.0 L236.9,-134.0 L235.7,-136.1 L234.5,-138.1 L233.3,-140.2 L232.1,-142.2 L230.8,-144.2 L229.5,-146.2 L228.3,-148.2 L226.9,-150.2 L225.6,-152.2 L224.3,-154.1 L222.9,-156.1 L221.6,-158.0 L220.2,-160.0 L218.8,-161.9 L217.3,-163.8 L215.9,-165.7 L214.4,-167.5 L213.0,-169.4 L211.5,-171.2 L210.0,-173.1 L208.4,-174.9 L206.9,-176.7 L205.4,-178.5 L203.8,-180.3 L202.2,-182.1 L200.6,-183.8 L199.0,-185.6 L197.4,-187.3 L195.7,-189.0 L194.1,-190.7 L192.4,-192.4 L190.7,-194.1 L189.0,-195.7 L187.3,-197.4 L185.6,-199.0 L183.8,-200.6 L182.1,-202.2 L180.3,-203.8 L178.5,-205.4 L176.7,-206.9 L174.9,-208.5 L173.1,-210.0 L171.3,-211.5 L169.4,-213.0 L167.5,-214.5 L165.7,-215.9 L163.8,-217.4 L161.9,-218.8 L160.0,-220.2 L158.1,-221.6 L156.1,-223.0 L154.2,-224.3 L152.2,-225.7 L150.2,-227.0 L148.3,-228.3 L146.3,-229.6 L144.3,-230.9 L142.3,-232.1 L140.2,-233.4 L138.2,-234.6 L136.1,-235.8 L134.1,-237.0 L132.0,-238.2 L129.9,-239.3 L127.9,-240.5 L125.8,-241.6 L123.7,-242.7 L121.5,-243.8 L119.4,-244.8 L117.3,-245.9 L115.1,-246.9 L113.0,-247.9 L110.8,-248.9 L108.6,-249.9 L106.5,-250.8 L104.3,-251.8 L102.1,-252.7 L99.9,-253.6 L97.7,-254.5 L95.5,-255.4 L93.3,-256.2 L91.0,-257.1 L88.8,-257.9 L86.6,-258.7 L84.3,-259.5 L82.1,-260.3 L79.8,-261.1 L77.6,-261.8 L75.3,-262.6 L73.0,-263.3 L70.7,-264.0 L68.5,-264.7 L66.2,-265.4 L63.9,-266.0 L61.6,-266.7 L59.3,-267.3 L56.9,-267.9 L54.6,-268.4 L52.3,-269.0 L50.0,-269.5 L47.6,-270.0 L45.3,-270.5 L42.9,-271.0 L40.6,-271.5 L38.2,-271.9 L35.8,-272.3 L33.5,-272.7 L31.1,-273.0 L28.7,-273.3 L26.3,-273.6 L24.0,-273.9 L21.6,-274.2 L19.2,-274.4 L16.8,-274.6 L14.4,-274.8 L12.0,-274.9 L9.6,-275.1 L7.2,-275.2 L4.8,-275.2 L2.4,-275.3 L0.0,-275.3 L-2.4,-275.3 L-4.8,-275.3 L-7.2,-275.2 L-9.6,-275.1 L-12.0,-275.0 L-14.4,-274.9 L-16.8,-274.8 L-19.2,-274.6 L-21.6,-274.4 L-24.0,-274.2 L-26.4,-274.0 L-28.8,-273.7 L-31.2,-273.5 L-33.5,-273.2 L-35.9,-272.8 L-38.3,-272.5 L-40.7,-272.1 L-43.0,-271.8 L-45.4,-271.4 L-47.8,-270.9 L-50.1,-270.5 L-52.5,-270.0 L-54.8,-269.6 L-57.2,-269.1 L-59.5,-268.5 L-61.9,-268.0 L-64.2,-267.4 L-66.5,-266.8 L-68.8,-266.2 L-71.2,-265.6 L-73.5,-264.9 L-75.8,-264.3 L-78.1,-263.6 L-80.4,-262.9 L-82.7,-262.2 L-84.9,-261.4 L-87.2,-260.6 L-89.5,-259.8 L-91.7,-259.0 L-94.0,-258.2 L-96.2,-257.4 L-98.5,-256.5 L-100.7,-255.6 L-102.9,-254.7 L-105.1,-253.8 L-107.3,-252.8 L-109.5,-251.9 L-111.7,-250.9 L-113.9,-249.9 L-116.1,-248.9 L-118.2,-247.9 L-120.4,-246.8 L-122.5,-245.7 L-124.6,-244.6 L-126.8,-243.5 L-128.9,-242.4 L-131.0,-241.2 L-133.1,-240.1 L-135.2,-238.9 L-137.2,-237.7 L-139.3,-236.5 L-141.3,-235.2 L-143.4,-234.0 L-145.4,-232.7 L-147.4,-231.4 L-149.4,-230.1 L-151.4,-228.8 L-153.4,-227.4 L-155.4,-226.1 L-157.3,-224.7 L-159.3,-223.3 L-161.2,-221.9 L-163.1,-220.4 L-165.0,-219.0 L-166.9,-217.5 L-168.8,-216.0 L-170.7,-214.5 L-172.5,-213.0 L-174.3,-211.5 L-176.2,-209.9 L-178.0,-208.4 L-179.8,-206.8 L-181.6,-205.2 L-183.3,-203.6 L-185.1,-202.0 L-186.8,-200.3 L-188.5,-198.7 L-190.2,-197.0 L-191.9,-195.3 L-193.6,-193.6 L-195.3,-191.9 L-196.9,-190.2 L-198.5,-188.4 L-200.1,-186.6 L-201.7,-184.9 L-203.3,-183.1 L-204.9,-181.3 L-206.4,-179.4 L-207.9,-177.6 L-209.5,-175.8 L-210.9,-173.9 L-212.4,-172.0 L-213.9,-170.1 L-215.3,-168.2 L-216.7,-166.3 L-218.1,-164.4 L-219.5,-162.4 L-220.9,-160.5 L-222.2,-158.5 L-223.6,-156.5 L-224.9,-154.5 L-226.1,-152.5 L-227.4,-150.5 L-228.7,-148.5 L-229.9,-146.5 L-231.1,-144.4 L-232.3,-142.4 L-233.5,-140.3 L-234.6,-138.2 L-235.8,-136.1 L-236.9,-134.0 L-238.0,-131.9 L-239.1,-129.8 L-240.1,-127.7 L-241.1,-125.5 L-242.2,-123.4 L-243.2,-121.2 L-244.1,-119.1 L-245.1,-116.9 L-246.0,-114.7 L-246.9,-112.5 L-247.8,-110.3 L-248.7,-108.1 L-249.5,-105.9 L-250.4,-103.7 L-251.2,-101.5 L-251.9,-99.2 L-252.7,-97.0 L-253.4,-94.7 L-254.1,-92.5 L-254.7,-90.2 L-255.3,-87.9 L-255.9,-85.6 L-256.4,-83.3 L-257.0,-81.0 L-257.5,-78.7 L-257.9,-76.4 L-258.4,-74.1 L-258.8,-71.8 L-259.2,-69.4 L-259.5,-67.1 L-259.9,-64.8 L-260.2,-62.5 L-260.5,-60.1 L-260.8,-57.8 L-261.0,-55.5 L-261.3,-53.2 L-261.5,-50.8 L-261.7,-48.5 L-261.8,-46.2 L-262.0,-43.8 L-262.1,-41.5 L-262.3,-39.2 L-262.4,-36.9 L-262.5,-34.6 L-262.5,-32.2 L-262.6,-29.9 L-262.7,-27.6 L-262.7,-25.3 L-262.8,-23.0 L-262.8,-20.7 L-262.8,-18.4 L-262.8,-16.1 L-262.8,-13.8 L-262.8,-11.5 L-262.8,-9.2 L-262.8,-6.9 L-262.8,-4.6 L-262.7,-2.3 L-262.7,-0.0 L-262.7,2.3 L-262.6,4.6 L-262.5,6.9 L-262.4,9.2 L-262.3,11.5 L-262.2,13.7 L-262.0,16.0 L-261.8,18.3 L-261.7,20.6 L-261.4,22.9 L-261.2,25.2 L-261.0,27.4 L-260.7,29.7 L-260.4,32.0 L-260.1,34.2 L-259.8,36.5 L-259.4,38.8 L-259.0,41.0 L-258.7,43.3 L-258.2,45.5 L-257.8,47.8 L-257.4,50.0 L-256.9,52.3 L-256.4,54.5 L-255.9,56.7 L-255.4,59.0 L-254.9,61.2 L-254.3,63.4 L-253.7,65.6 L-253.2,67.8 L-252.5,70.0 L-251.9,72.2 L-251.3,74.4 L-250.6,76.6 L-249.9,78.8 L-249.2,81.0 L-248.5,83.1 L-247.7,85.3 L-247.0,87.5 L-246.2,89.6 L-245.4,91.8 L-244.6,93.9 L-243.8,96.0 L-242.9,98.1 L-242.1,100.3 L-241.2,102.4 L-240.3,104.5 L-239.4,106.6 L-238.4,108.7 L-237.5,110.7 L-236.5,112.8 L-235.5,114.9 L-234.5,116.9 L-233.5,119.0 L-232.4,121.0 L-231.4,123.0 L-230.3,125.1 L-229.2,127.1 L-228.1,129.1 L-227.0,131.1 L-225.9,133.0 L-224.7,135.0 L-223.5,137.0 L-222.3,138.9 L-221.1,140.9 L-219.9,142.8 L-218.7,144.7 L-217.4,146.7 L-216.1,148.6 L-214.9,150.4 L-213.6,152.3 L-212.2,154.2 L-210.9,156.1 L-209.6,157.9 L-208.2,159.7 L-206.8,161.6 L-205.4,163.4 L-204.0,165.2 L-202.6,167.0 L-201.1,168.8 L-199.7,170.5 L-198.2,172.3 L-196.7,174.0 L-195.2,175.7 L-193.7,177.5 L-192.1,179.2 L-190.6,180.8 L-189.0,182.5 L-187.4,184.2 L-185.8,185.8 L-184.2,187.5 L-182.6,189.1 L-181.0,190.7 L-179.3,192.3 L-177.7,193.9 L-176.0,195.5 L-174.3,197.1 L-172.7,198.6 L-171.0,200.2 L-169.2,201.7 L-167.5,203.2 L-165.8,204.7 L-164.0,206.2 L-162.3,207.7 L-160.5,209.2 L-158.7,210.6 L-156.9,212.1 L-155.1,213.5 L-153.3,214.9 L-151.5,216.3 L-149.6,217.7 L-147.7,219.0 L-145.9,220.4 L-144.0,221.7 L-142.1,223.0 L-140.2,224.3 L-138.3,225.6 L-136.3,226.9 L-134.4,228.1 L-132.4,229.3 L-130.4,230.5 L-128.4,231.7 L-126.5,232.9 L-124.4,234.0 L-122.4,235.2 L-120.4,236.3 L-118.3,237.3 L-116.3,238.4 L-114.2,239.4 L-112.1,240.5 L-110.0,241.5 L-107.9,242.4 L-105.8,243.4 L-103.7,244.3 L-101.6,245.2 L-99.4,246.1 L-97.3,246.9 L-95.1,247.7 L-92.9,248.5 L-90.7,249.2 L-88.5,249.9 L-86.3,250.6 L-84.1,251.3 L-81.9,251.9 L-79.6,252.5 L-77.4,253.1 L-75.1,253.6 L-72.9,254.1 L-70.6,254.6 L-68.4,255.1 L-66.1,255.5 L-63.8,256.0 L-61.5,256.4 L-59.3,256.7 L-57.0,257.1 L-54.7,257.4 L-52.4,257.7 L-50.1,258.0 L-47.9,258.3 L-45.6,258.5 L-43.3,258.7 L-41.0,258.9 L-38.7,259.1 L-36.4,259.3 L-34.2,259.5 L-31.9,259.6 L-29.6,259.7 L-27.3,259.8 L-25.0,259.9 L-22.8,260.0 L-20.5,260.1 L-18.2,260.2 L-15.9,260.2 L-13.6,260.3 L-11.4,260.3 L-9.1,260.4 L-6.8,260.4 L-4.5,260.4 L-2.3,260.4 L-0.0,260.4 L2.3,260.4 L4.5,260.4 L6.8,260.4 L9.1,260.4 L11.4,260.4 L13.6,260.4 L15.9,260.4 L18.2,260.4 L20.5,260.3 L22.8,260.3 L25.1,260.3 L27.4,260.2 L29.6,260.2 L31.9,260.1 L34.2,260.1 L36.5,260.0 L38.8,259.9 L41.1,259.8 L43.5,259.7 L45.8,259.5 L48.1,259.4 L50.4,259.2 L52.7,259.0 L55.0,258.8 L57.3,258.6 L59.7,258.4 L62.0,258.1 L64.3,257.9 L66.6,257.6 L68.9,257.3 L71.2,256.9 L73.6,256.6 L75.9,256.2 L78.2,255.8 L80.5,255.3 L82.8,254.9 L85.1,254.4 L87.4,253.9 L89.7,253.3 L92.0,252.8 L94.3,252.2 L96.5,251.5 L98.8,250.9 L101.1,250.2 L103.3,249.4 L105.6,248.7 L107.8,247.9 L110.0,247.2 L112.3,246.4 L114.5,245.5 L116.7,244.7 L118.9,243.9 L121.2,243.0 L123.4,242.1 L125.6,241.2 L127.8,240.3 L129.9,239.3 L132.1,238.4 L134.3,237.4 L136.5,236.4 L138.6,235.3 L140.8,234.3 L142.9,233.2 L145.1,232.1 L147.2,231.0 L149.3,229.9 L151.4,228.7 L153.5,227.6 L155.6,226.4 L157.6,225.1 L159.7,223.9 L161.7,222.6 L163.8,221.3 L165.8,220.0 L167.8,218.7 L169.8,217.3 L171.8,215.9 L173.7,214.5 L175.6,213.1 L177.6,211.6 L179.5,210.1 L181.4,208.6 L183.2,207.1 L185.1,205.5 L186.9,204.0 L188.7,202.4 L190.5,200.7 L192.3,199.1 L194.0,197.4 L195.7,195.7 L197.4,194.0 L199.1,192.3 L200.8,190.5 L202.4,188.8 L204.1,187.0 L205.7,185.2 L207.3,183.4 L208.9,181.6 L210.5,179.8 L212.0,177.9 L213.6,176.1 L215.1,174.2 L216.6,172.3 L218.1,170.4 L219.6,168.5 L221.1,166.6 L222.5,164.6 L223.9,162.7 L225.3,160.7 L226.7,158.8 L228.1,156.8 L229.5,154.8 L230.8,152.8 L232.1,150.8 L233.5,148.7 L234.7,146.7 L236.0,144.6 L237.3,142.6 L238.5,140.5 L239.7,138.4 L240.9,136.3 L242.1,134.2 L243.3,132.1 L244.4,129.9 L245.5,127.8 L246.6,125.7 L247.7,123.5 L248.8,121.3 L249.8,119.2 L250.9,117.0 L251.9,114.8 L252.9,112.6 L253.8,110.4 L254.8,108.2 L255.7,105.9 L256.6,103.7 L257.5,101.4 L258.4,99.2 L259.3,96.9 L260.1,94.7 L260.9,92.4 L261.7,90.1 L262.5,87.8 L263.3,85.5 L264.0,83.2 L264.7,80.9 L265.4,78.6 L266.1,76.3 L266.7,74.0 L267.4,71.6 L268.0,69.3 L268.6,67.0 L269.2,64.6 L269.7,62.3 L270.2,59.9 L270.8,57.5 L271.2,55.2 L271.7,52.8 L272.2,50.4 L272.6,48.1 L273.0,45.7 L273.4,43.3 L273.8,40.9 L274.1,38.5 L274.4,36.1 L274.7,33.7 L275.0,31.3 L275.3,28.9 L275.5,26.5 L275.7,24.1 L275.9,21.7 L276.1,19.3 L276.3,16.9 L276.4,14.5 L276.5,12.1 L276.6,9.7 L276.7,7.2 L276.8,4.8 L276.8,2.4Z" fill="#fff2e0"/>
<path d="M-376.9,-328.8 L-383.7,-312.1 L-389.6,-292.6 L-393.5,-273.0 L-399.4,-253.4 L-408.3,-235.3 L-412.2,-220.6 L-416.1,-205.9 L-420.0,-193.2 L-423.9,-183.4 L-427.9,-174.6 L-433.7,-167.8 L-443.4,-164.8 L-452.6,-162.4 L-463.7,-160.0 L-473.9,-158.0 L-489.5,-155.3 L-495.6,-157.3 L-489.9,-174.5 L-483.5,-191.5 L-476.5,-208.2 L-468.9,-224.7 L-460.8,-240.9 L-452.1,-256.9 L-442.9,-272.5 L-433.1,-287.8 L-422.8,-302.7 L-412.0,-317.3 L-400.6,-331.5Z" fill="#b50302"/>
<path d="M-412.1,-282.8 L-415.0,-268.1 L-419.9,-253.4 L-425.8,-236.8 L-426.9,-235.3 L-430.8,-220.6 L-433.7,-205.9 L-437.6,-194.2 L-443.5,-184.4 L-449.4,-176.6 L-454.3,-171.7 L-465.0,-167.8 L-473.8,-165.8 L-489.5,-163.3 L-493.3,-164.6 L-487.2,-181.7 L-480.6,-198.6 L-473.4,-215.2 L-465.6,-231.6 L-457.2,-247.7 L-448.3,-263.5 L-438.8,-279.0 L-428.8,-294.2Z" fill="#910000"/>
<path d="M11.0,500.7 L19.2,494.5 L35.4,490.1 L57.4,485.0 L72.0,485.0 L78.0,490.7 L82.0,506.7 L11.0,512.7Z" fill="#910000"/></g>
</g>
<g clip-path="url(#cd3)"><circle cx="1393.75" cy="1856.05" r="502.95" fill="#f7f6f6"/>
<g transform="translate(1393.6,1855.4)"><path d="M-279.4,-408.3 -269.0,-398.0 -255.8,-392.3 -244.4,-383.8 -227.5,-386.6 -229.4,-375.3 -214.3,-371.6 -197.3,-367.8 -180.3,-364.0 -168.6,-356.5 -157.3,-357.4 -149.7,-365.9 -138.4,-374.4 -127.1,-379.1 -111.1,-381.0 -98.8,-393.2 -89.4,-398.9 -76.1,-397.0 -62.9,-398.0 -49.7,-397.0 -40.3,-393.2 -25.2,-396.1 -8.2,-398.0 8.8,-394.2 17.2,-382.9 22.0,-371.6 31.4,-364.0 46.5,-356.5 55.9,-366.8 74.8,-375.3 88.0,-382.9 89.9,-405.5 76.7,-406.5 67.2,-406.5 57.8,-413.1 50.3,-422.5 54.0,-435.7 52.2,-445.1 40.8,-449.9 31.4,-454.6 25.7,-459.3 31.4,-477.2 38.9,-492.3 40.5,-512.4 13.7,-513.8 -13.1,-513.8 -39.9,-512.4 -66.6,-509.7 -93.1,-505.5 -119.4,-499.9 -145.3,-493.0 -170.9,-484.8 -195.9,-475.2 -220.5,-464.3 -244.4,-452.2 -267.7,-438.8 -290.2,-424.2Z" fill="#d4e6f1"/>
<path d="M-244.4,-418.7 -235.0,-426.3 -219.0,-431.0 -223.7,-409.3 -236.9,-413.1Z" fill="#f7f6f6"/>
<path d="M-213.3,-420.6 -202.9,-434.8 -193.5,-440.4 -180.3,-434.8 -183.1,-424.4 -189.7,-414.9 -203.9,-412.1Z" fill="#f7f6f6"/>
<path d="M171.4,-462.1 176.1,-450.8 186.5,-442.3 196.9,-428.2 194.0,-411.2 190.3,-394.2 188.4,-381.9 197.8,-374.4 201.6,-364.9 207.2,-358.3 213.9,-367.8 213.9,-381.0 217.6,-392.3 229.9,-400.8 248.8,-401.7 263.9,-404.6 268.6,-414.9 279.3,-431.5 260.1,-443.3 240.4,-454.3 220.3,-464.4 199.7,-473.6 178.7,-481.9Z" fill="#d4e6f1"/>
<path d="M-472.3,-148.9 -459.6,-144.9 -444.9,-141.0 -430.2,-138.1 -415.5,-136.1 -400.9,-136.1 -391.1,-138.1 -381.3,-141.0 -371.5,-144.0 -362.7,-144.9 -356.8,-141.0 -354.9,-136.1 -357.8,-127.3 -366.6,-117.6 -376.4,-109.7 -386.2,-103.9 -396.0,-98.0 -405.8,-90.2 -415.5,-84.3 -415.2,-80.6 -415.2,-73.1 -410.5,-64.6 -418.0,-54.2 -424.6,-42.9 -431.2,-50.4 -436.0,-57.0 -446.3,-62.7 -457.7,-65.5 -467.1,-61.7 -458.6,-52.3 -445.4,-48.5 -447.3,-37.2 -445.4,-29.7 -452.9,-22.1 -461.4,-12.7 -468.0,-1.4 -475.6,9.0 -476.5,19.4 -475.6,30.7 -470.9,40.1 -453.9,39.2 -435.0,38.3 -433.1,47.7 -436.0,55.2 -437.8,64.7 -442.6,74.1 -448.2,79.8 -453.9,87.3 -455.8,96.8 -458.6,106.2 -457.7,115.6 -458.6,126.9 -456.7,138.3 -453.9,145.8 -447.3,151.5 -450.1,157.1 -456.7,160.9 -460.5,172.6 -452.0,189.6 -433.1,185.8 -424.6,179.2 -410.5,183.9 -393.5,192.4 -382.2,186.8 -359.5,183.0 -355.8,172.6 -363.3,168.4 -372.8,164.7 -378.4,153.4 -380.3,143.9 -376.5,136.4 -372.8,126.9 -361.4,126.0 -355.8,119.4 -353.9,110.0 -348.2,100.5 -342.6,89.2 -338.8,79.8 -335.0,66.6 -337.8,51.5 -327.5,45.8 -314.3,39.2 -308.6,41.1 -305.8,46.8 -314.3,53.4 -315.2,58.1 -308.6,62.8 -300.1,65.6 -294.4,74.1 -291.6,83.5 -289.7,94.9 -284.1,100.5 -276.5,104.3 -273.7,111.8 -277.5,121.3 -286.0,124.1 -292.6,126.0 -293.5,138.3 -294.4,145.8 -286.0,153.4 -276.5,162.8 -267.1,166.6 -244.4,166.6 -235.0,172.6 -233.1,180.1 -238.8,189.6 -240.7,210.3 -235.0,223.5 -234.1,234.9 -229.4,246.2 -225.6,255.6 -219.9,266.9 -214.3,276.4 -209.5,287.7 -208.6,304.7 -218.0,312.2 -219.9,323.5 -225.6,333.9 -244.4,333.0 -257.7,339.6 -270.9,329.2 -282.2,317.9 -291.6,310.3 -302.9,302.8 -319.9,300.9 -331.2,295.2 -342.6,289.6 -359.5,289.6 -369.9,285.8 -367.1,274.5 -366.1,268.8 -375.6,265.1 -380.3,278.3 -387.8,287.7 -397.3,293.4 -413.5,305.3 -428.9,283.3 -443.1,260.5 -456.1,237.0 -467.9,212.8 -478.4,188.0 -487.5,162.8 -495.4,137.1 -501.9,111.0 -507.0,84.6 -510.7,58.0 -513.1,31.2 -514.0,4.3 -513.5,-22.5 -511.6,-49.3 -508.3,-76.0 -503.7,-102.5 -497.6,-128.7 -490.2,-154.5Z" fill="#d4e6f1"/>
<path d="M-390.7,225.8 -382.2,212.6 -372.8,216.0 -373.7,227.7Z" fill="#f7f6f6"/>
<path d="M-433.1,225.8 -430.3,222.0 -424.6,222.0 -425.6,228.3Z" fill="#f7f6f6"/>
<path d="M-437.8,233.0 -428.4,234.9 -430.3,244.3 -436.0,238.6Z" fill="#f7f6f6"/>
<path d="M-247.3,429.2 -244.4,425.4 -236.9,419.8 -227.5,410.3 -225.6,399.0 -227.5,385.8 -232.2,370.7 -227.5,362.2 -214.3,361.3 -202.9,368.8 -199.2,385.8 -197.3,402.8 -202.0,408.4 -209.5,411.3 -202.9,425.4 -199.2,431.1 -184.1,433.9 -168.6,435.8 -149.7,439.6 -145.0,450.0 -142.2,463.2 -139.4,475.4 -144.6,493.2 -167.8,485.8 -190.7,477.3 -213.2,467.7 -235.2,457.1 -256.6,445.4Z" fill="#d4e6f1"/>
<path d="M351.6,-14.6 341.2,-12.7 331.8,-5.1 322.3,6.2 316.7,17.5 315.7,32.6 317.6,51.5 310.1,62.8 303.5,76.0 296.9,91.1 292.2,106.2 282.7,119.4 274.2,127.9 268.6,138.3 260.1,149.6 250.6,160.9 248.8,172.6 256.3,185.8 275.2,183.9 284.6,172.6 292.2,159.0 303.5,149.6 320.5,138.3 331.8,141.1 341.2,147.7 352.5,148.6 363.9,157.1 378.9,164.7 390.3,172.6 397.8,182.0 406.3,189.6 392.2,195.2 386.5,202.8 378.9,209.4 368.6,213.2 363.9,223.5 360.1,231.1 347.8,233.0 339.3,238.6 349.7,246.2 352.5,259.4 345.0,274.5 339.3,285.8 341.2,300.9 342.2,314.1 335.6,325.4 326.1,333.0 311.0,340.5 306.3,350.0 304.4,363.2 295.9,369.8 286.5,371.7 274.2,368.8 273.3,359.4 265.7,348.1 252.5,341.5 241.2,338.6 240.3,327.3 231.8,317.9 222.3,311.3 209.1,311.3 195.9,310.0 189.9,317.9 193.1,327.3 201.6,334.9 218.6,339.6 230.8,345.2 225.2,355.6 222.3,365.1 208.2,374.5 212.0,382.0 226.1,385.8 233.7,393.4 236.5,406.6 229.9,416.0 228.0,425.4 235.6,434.9 244.8,452.0 267.5,438.9 289.5,424.7 310.7,409.5 331.1,393.1 350.7,375.8 369.4,357.4 387.1,338.2 403.8,318.0 419.4,297.1 434.0,275.4 447.5,252.9 459.8,229.8 470.8,206.1 480.7,181.9 489.4,157.2 496.7,132.1 502.8,106.7 507.6,81.0 511.0,55.0 513.2,29.0 494.0,27.9 480.8,18.4 471.4,8.1 462.0,0.5 448.8,0.1 435.6,-1.4 424.2,1.5 418.6,9.0 416.7,21.3 418.6,36.4 412.9,39.2 403.5,36.4 390.3,38.3 378.9,45.8 369.5,40.1 358.2,42.0 353.5,49.6 357.2,61.8 352.5,72.2 344.0,85.4 333.7,102.4 320.5,109.6 318.6,96.8 319.5,81.7 326.1,64.7 327.1,49.6 335.6,32.6 345.0,19.4 350.6,-1.4Z" fill="#d4e6f1"/>
<path d="M390.3,226.4 395.9,217.9 405.4,216.4 416.7,221.7 419.5,230.1 409.1,236.8 393.1,239.0Z" fill="#f7f6f6"/>
<path d="M-286.9,-271.6 -277.5,-276.8 -269.0,-272.5 -268.0,-266.8 -286.0,-266.8Z" fill="#d4e6f1"/>
<path d="M-259.5,-271.6 -249.2,-277.2 -242.6,-276.3 -238.8,-270.6 -245.4,-263.1 -257.7,-266.8Z" fill="#d4e6f1"/>
<path d="M63.5,-343.2 70.1,-342.9 76.7,-339.9 69.1,-341.0Z" fill="#d4e6f1"/>
<path d="M-410.5,123.2 -402.9,111.8 -390.7,106.2 -384.1,111.8 -388.8,119.4 -394.4,129.8 -404.8,132.6Z" fill="#d4e6f1"/>
<path d="M320.5,-148.5 328.0,-154.2 337.4,-156.5 346.9,-151.4 349.7,-142.9 348.8,-127.8 329.9,-127.4 324.2,-133.4 319.5,-141.0Z" fill="#d4e6f1"/>
<path d="M400.6,-165.5 407.2,-167.4 414.8,-165.5 414.8,-154.2 408.2,-153.2 402.5,-158.0Z" fill="#d4e6f1"/>
<path d="M467.6,-61.7 478.0,-63.6 484.6,-54.2 489.9,-42.9 482.7,-30.0 475.2,-44.8Z" fill="#d4e6f1"/>
<path d="M350.6,-60.8 354.4,-65.5 362.0,-59.9 367.6,-50.4 369.5,-35.3 366.7,-27.8 359.1,-19.3 355.4,-24.0 355.4,-39.1 352.5,-50.4Z" fill="#d4e6f1"/>
<path d="M383.7,8.1 394.0,3.7 407.2,9.0 400.6,16.6 393.1,18.4 388.4,14.7Z" fill="#d4e6f1"/>
<path d="M294.0,234.9 301.6,223.5 305.4,206.6 307.2,197.1 315.7,194.9 312.0,208.4 314.8,221.7 322.3,233.0 329.9,242.4 322.3,247.1 307.2,247.1 297.8,241.5Z" fill="#d4e6f1"/>
<path d="M185.6,383.9 192.2,379.2 197.8,377.9 190.3,384.3Z" fill="#d4e6f1"/>
<path d="M171.4,416.0 178.9,423.5 194.0,422.6 207.2,423.5 215.7,432.6 205.4,440.5 195.9,445.2 182.7,434.9 171.4,429.2Z" fill="#d4e6f1"/>
<path d="M161.6,417.9 171.4,416.0 171.4,429.2 163.5,427.3Z" fill="#d4e6f1"/>
<path d="M38.9,425.4 45.6,423.5 52.2,434.9 50.3,455.6 44.6,440.5Z" fill="#d4e6f1"/>
<path d="M152.2,338.6 155.0,331.1 163.5,329.6 167.2,333.0 161.6,338.3Z" fill="#d4e6f1"/>
<path d="M398.8,-167.4 402.5,-169.7 406.3,-167.4Z" fill="#d4e6f1"/>
<path d="M-302.0,-391.4 -291.6,-382.9 -279.4,-380.0 -279.4,-365.9 -274.6,-355.5 -259.5,-354.6 -246.3,-350.8 -236.9,-353.6 -219.0,-352.7 -219.9,-344.2 -235.0,-333.8 -250.1,-327.2 -267.1,-332.9 -276.5,-324.4 -289.7,-314.9 -308.6,-310.2 -314.3,-303.6 -311.4,-290.4 -312.4,-264.0 -308.6,-248.9 -299.2,-235.7 -297.3,-226.3 -299.2,-219.7 -285.0,-216.8 -279.4,-207.4 -269.9,-204.6 -265.2,-214.0 -257.7,-224.4 -244.4,-239.5 -235.0,-247.0 -214.3,-252.7 -197.3,-258.3 -196.3,-271.6 -198.2,-286.6 -191.6,-301.7 -188.8,-313.1 -180.3,-320.6 -168.6,-323.4 -157.3,-322.5 -144.1,-317.8 -145.0,-307.4 -148.8,-292.3 -155.4,-281.0 -168.6,-269.7 -187.8,-258.3 -195.4,-253.6 -197.3,-235.7 -199.2,-218.7 -214.3,-198.0 -229.4,-182.9 -235.0,-167.4 -248.2,-156.1 -253.9,-142.9 -255.8,-129.7 -253.9,-112.7 -252.0,-95.7 -250.1,-84.4 -253.9,-74.9 -261.4,-68.3 -267.1,-64.0 -276.5,-70.2 -282.2,-82.5 -291.6,-93.8 -301.1,-105.1 -310.5,-114.6 -316.1,-121.2 -327.5,-115.5 -342.6,-111.7 -343.5,-125.9 -348.2,-133.4 -348.0,-141.0 -347.0,-146.9 -350.0,-146.9 -354.9,-144.9 -364.7,-146.4 -376.4,-145.7 -388.1,-144.5 -396.0,-141.0 -405.8,-138.6 -415.5,-138.1 -430.2,-139.6 -444.9,-142.5 -459.6,-146.4 -470.8,-151.3 -489.4,-157.3 -480.8,-181.6 -471.1,-205.5 -460.2,-228.9 -448.1,-251.7 -434.9,-273.9 -420.6,-295.4 -405.3,-316.1 -388.9,-336.1 -371.5,-355.2 -353.2,-373.4 -334.0,-390.7 -314.0,-406.9Z" fill="#fdddcb"/>
<path d="M-303.9,-167.4 -293.5,-175.3 -285.0,-172.5 -282.2,-167.4 -286.0,-156.1 -299.2,-146.6 -308.6,-140.0 -316.1,-150.4 -314.3,-167.4Z" fill="#f7f6f6"/>
<path d="M302.5,-390.4 302.5,-375.3 290.3,-372.5 286.5,-360.2 263.9,-363.1 261.6,-347.0 262.9,-326.3 263.5,-305.5 254.4,-304.6 244.0,-306.5 250.6,-292.3 256.3,-279.1 263.9,-265.9 274.2,-260.6 284.6,-266.8 299.7,-274.4 322.3,-273.8 337.4,-277.2 354.4,-284.8 362.0,-278.2 371.4,-268.7 382.7,-262.1 394.0,-255.5 404.4,-246.1 401.6,-233.8 402.5,-220.6 407.2,-207.4 412.9,-192.3 422.3,-181.9 434.6,-185.7 433.7,-196.1 428.0,-209.3 428.0,-222.5 437.4,-231.0 454.5,-240.0 448.0,-252.0 441.2,-263.8 424.2,-253.6 407.2,-265.9 388.4,-286.6 383.7,-306.5 367.6,-309.3 352.5,-308.3 344.0,-316.8 341.2,-333.8 337.4,-352.7 331.8,-367.8 344.3,-381.7 329.8,-394.2 314.8,-406.3Z" fill="#fdddcb"/>
<path d="M204.4,-227.2 212.0,-223.4 224.2,-224.4 226.1,-216.8 233.7,-214.9 248.8,-199.9 252.5,-188.5 262.0,-175.3 269.5,-167.4 277.1,-154.2 284.6,-141.9 290.3,-129.7 281.8,-118.7 274.2,-127.8 263.9,-139.1 256.3,-150.4 246.9,-167.4 235.6,-182.9 226.1,-198.0 216.7,-209.3 212.0,-218.7Z" fill="#fdddcb"/>
<path d="M-152.6,375.4 -144.1,365.1 -130.9,359.4 -121.4,350.0 -104.4,350.9 -83.7,350.0 -66.7,347.7 -61.1,349.0 -51.6,359.4 -42.2,367.9 -38.4,361.3 -33.7,349.0 -27.1,341.5 -17.7,338.6 -8.2,340.5 -0.7,353.7 10.6,361.3 20.1,366.9 28.6,369.8 24.8,381.1 17.2,383.9 8.8,380.1 -0.7,379.2 -1.6,383.9 5.0,397.1 9.7,408.4 9.7,436.8 18.2,446.2 27.6,453.7 38.9,465.1 50.3,470.7 60.6,467.9 64.4,455.6 66.3,436.8 74.8,425.4 84.2,421.7 92.7,415.1 103.1,415.1 114.4,423.5 125.7,433.0 137.1,433.9 148.4,432.6 163.5,438.6 171.4,442.4 180.8,450.0 191.2,456.6 198.6,474.1 173.6,483.8 148.2,492.2 122.4,499.2 96.2,504.9 69.8,509.2 43.2,512.2 16.5,513.7 -10.3,513.9 -37.0,512.7 -63.6,510.0 -90.1,506.0 -116.3,500.7 -112.0,482.0 -121.4,474.5 -127.1,465.1 -112.9,455.6 -112.0,447.1 -121.4,438.6 -129.0,425.4 -135.6,416.0 -133.7,404.7 -132.8,389.6 -140.3,382.0Z" fill="#fdddcb"/>
<path d="M-62.9,400.0 -53.5,397.1 -44.1,400.9 -34.6,401.8 -36.5,414.1 -46.0,417.9 -57.3,412.2Z" fill="#f7f6f6"/>
<path d="M-79.9,444.3 -76.1,436.8 -66.7,435.8 -65.8,444.3 -70.5,458.4 -80.9,454.7Z" fill="#f7f6f6"/>
<path d="M75.7,499.0 80.5,482.0 89.9,472.6 103.1,474.5 114.4,476.4 112.5,493.4Z" fill="#f7f6f6"/>
<path d="M44.6,316.0 48.4,311.3 61.6,311.3 71.0,319.8 82.3,328.3 91.8,331.1 103.1,332.0 112.5,338.6 122.0,348.1 122.0,363.2 110.6,370.7 101.2,378.3 91.8,374.5 78.6,365.1 71.0,364.1 57.8,359.4 46.5,352.8 43.7,359.4 43.7,368.8 50.3,376.4 59.7,377.3 69.1,385.8 66.3,395.2 62.5,403.2 41.8,402.8 40.8,391.5 36.1,382.0 35.2,372.6 36.1,366.9 29.5,359.4 33.3,354.7 38.9,350.9 41.8,340.5 43.7,325.4Z" fill="#fdddcb"/>
<path d="M47.4,389.6 49.9,383.9 52.2,391.5 48.4,392.4Z" fill="#f7f6f6"/>
<path d="M-376.5,321.7 -365.2,316.9 -344.4,315.1 -331.2,318.8 -321.8,324.5 -308.6,325.4 -299.2,332.0 -294.4,338.6 -292.6,348.1 -279.4,358.4 -265.2,370.7 -248.2,385.8 -245.4,402.8 -255.8,402.4 -269.0,393.4 -282.2,389.6 -295.4,390.5 -302.9,392.4 -314.1,406.9 -334.7,390.1 -354.3,372.3 -373.1,353.6 -390.8,333.9Z" fill="#fdddcb"/>
<path d="M-168.6,376.4 -178.4,378.3 -183.1,385.8 -180.3,397.1 -179.4,408.4 -174.6,417.9 -168.6,419.8 -155.4,421.7 -152.6,410.3 -155.4,395.2 -161.1,383.9 -168.6,377.3Z" fill="#fdddcb"/>
<path d="M74.8,-488.5 84.2,-488.9 91.8,-485.7 84.2,-484.4Z" fill="#fdddcb"/>
<path d="M111.6,-481.0 131.4,-477.2 124.8,-466.8Z" fill="#fdddcb"/>
<path d="M-129.9,-312.1 -119.5,-318.7 -111.1,-319.7 -115.8,-314.0 -125.2,-311.6Z" fill="#fdddcb"/>
<path d="M-384.1,-34.4 -376.5,-41.9 -367.1,-47.6 -363.3,-39.1 -363.3,-30.6 -369.9,-25.9 -378.4,-27.8Z" fill="#fdddcb"/>
<path d="M-441.6,10.0 -436.0,0.5 -426.5,-5.5 -412.4,-0.4 -423.7,10.0Z" fill="#fdddcb"/>
<path d="M-463.3,13.7 -448.2,11.8 -443.5,19.4 -459.5,26.0Z" fill="#fdddcb"/>
<path d="M-438.8,96.8 -429.4,83.5 -408.6,70.7 -403.9,79.8 -404.8,93.0 -423.7,106.2Z" fill="#fdddcb"/>
<path d="M427.1,-136.3 433.7,-136.3 438.4,-127.8 431.8,-119.9 426.1,-124.0Z" fill="#fdddcb"/>
<path d="M423.3,-64.6 431.8,-71.6 439.3,-64.6 445.0,-50.4 454.4,-41.0 459.7,-31.6 458.2,-27.8 447.8,-24.9 437.4,-31.6 428.0,-38.2 423.3,-50.4Z" fill="#fdddcb"/>
<path d="M236.5,295.2 243.1,283.9 258.2,279.8 265.7,285.8 268.0,293.4 264.8,302.8 259.1,309.4 246.9,302.8 238.4,299.0Z" fill="#fdddcb"/>
<path d="M208.2,449.0 216.7,443.4 224.2,440.5 218.6,445.8Z" fill="#fdddcb"/>
<path d="M-85.6,260.3 -76.1,258.4 -69.5,260.3 -64.8,267.9 -76.1,269.8 -81.8,266.0Z" fill="#fdddcb"/>
<path d="M-56.3,258.4 -46.0,257.5 -38.4,259.8 -46.0,263.5Z" fill="#fdddcb"/>
<path d="M-36.5,251.5 -23.3,250.0 -12.9,253.7 -23.3,257.5 -34.6,258.4Z" fill="#fdddcb"/>
<path d="M5.0,253.7 16.3,251.5 25.7,252.8 31.4,263.2 30.5,273.5 23.9,275.4 12.5,265.1Z" fill="#fdddcb"/>
<path d="M-35.6,-468.7 -30.9,-477.2 -17.7,-478.2 -6.3,-475.3 1.2,-470.6 2.2,-460.2 -1.6,-448.9 -8.2,-445.5 -19.5,-446.1 -28.0,-452.7 -33.7,-461.2Z" fill="#9dcbe1"/>
<path d="M-157.3,-431.9 -148.8,-434.8 -137.5,-431.9 -125.6,-430.4 -132.8,-422.5 -153.5,-421.6Z" fill="#9dcbe1"/>
<path d="M-61.1,-422.5 -55.4,-426.3 -46.9,-423.4 -55.4,-419.7Z" fill="#9dcbe1"/>
<path d="M-162.9,-466.8 -149.7,-471.6 -140.3,-474.4 -146.0,-468.7 -155.4,-465.9Z" fill="#9dcbe1"/>
<path d="M221.4,-442.3 226.1,-433.8 235.6,-426.3 246.9,-421.0 257.2,-422.1 260.1,-416.8 228.0,-445.1Z" fill="#9dcbe1"/>
<path d="M-497.3,-41.0 -482.2,-41.4 -469.5,-31.6 -474.6,-18.3 -484.1,-5.1 -490.7,6.2 -498.2,13.7Z" fill="#9dcbe1"/>
<path d="M-490.7,77.9 -478.4,84.5 -473.7,94.9 -475.6,104.3 -480.3,121.3 -484.1,106.2 -487.8,93.0Z" fill="#9dcbe1"/>
<path d="M446.9,45.8 462.0,53.4 478.9,60.9 482.7,74.1 488.4,79.8 485.6,100.5 480.8,119.4 469.5,128.8 463.9,138.3 462.9,153.4 458.2,164.7 450.6,171.3 441.2,160.9 435.6,149.6 422.3,143.9 401.6,135.4 407.2,115.6 409.1,96.8 405.4,81.7 420.5,77.9 431.8,62.8Z" fill="#9dcbe1"/>
<path d="M-349.2,213.2 -345.4,205.6 -338.8,201.8 -323.7,200.9 -309.5,185.8 -291.6,185.8 -285.0,192.4 -282.2,204.7 -274.6,219.8 -267.1,231.1 -264.3,242.4 -254.8,254.7 -289.7,255.2 -297.3,242.4 -303.9,233.0 -312.4,230.1 -331.2,231.1 -342.6,229.2 -346.3,219.8Z" fill="#9dcbe1"/>
<path d="M-327.5,273.5 -321.4,264.1 -316.5,266.6 -319.9,270.7 -326.5,274.5Z" fill="#9dcbe1"/>
<path d="M357.2,286.8 363.9,282.4 373.3,285.8 388.4,287.7 389.3,306.6 394.0,308.4 369.5,333.0 368.6,329.2 362.0,316.0 361.0,302.8Z" fill="#9dcbe1"/>
<path d="M404.4,266.6 406.3,260.3 416.7,255.6 429.5,246.6 435.6,246.2 418.6,270.7 415.9,268.8Z" fill="#9dcbe1"/>
<path d="M245.9,432.0 247.8,428.3 252.5,416.0 260.1,404.7 264.8,395.2 277.1,388.6 292.2,381.1 303.5,379.8 317.6,380.1 322.3,382.0Z" fill="#9dcbe1"/>
<path d="M431.8,89.2 443.1,75.1 454.4,69.4 461.0,79.8 463.5,92.0 458.2,100.5 445.0,106.2 434.6,112.8 431.4,102.4Z" fill="#59a1ca"/>
<path d="M277.1,412.2 278.9,408.4 284.6,398.1 294.0,389.6 309.1,386.8 312.9,388.6Z" fill="#59a1ca"/>
<path d="M-366.1,-331.9 -359.5,-322.5 -357.7,-303.6 -356.7,-284.8 -352.0,-275.3 -345.4,-267.8 -342.6,-256.5 -337.8,-247.0 -333.1,-235.7 -327.5,-224.4 -322.8,-209.3 -321.8,-198.0 -323.7,-182.9 -329.4,-167.4 -329.4,-167.4 -337.3,-157.7 -343.1,-153.8 -347.0,-151.8 -356.8,-147.9 -371.5,-147.9 -386.2,-149.6 -396.0,-148.9 -406.7,-147.9 -412.6,-144.9 -419.5,-142.0 -425.3,-142.0 -435.1,-143.5 -444.9,-145.4 -458.6,-148.9 -470.3,-153.8 -488.6,-159.7 -480.6,-182.4 -471.5,-204.6 -461.5,-226.4 -450.4,-247.7 -438.3,-268.5 -425.3,-288.6 -411.4,-308.2 -396.5,-327.1 -380.8,-345.2Z" fill="#f6af8e"/>
<path d="M-402.0,-288.5 -393.5,-282.9 -387.8,-271.6 -386.0,-264.0 -380.3,-258.3 -369.0,-257.4 -359.5,-254.6 -352.0,-247.0 -350.1,-239.5 -352.0,-230.0 -354.8,-224.4 -354.8,-213.1 -357.7,-205.5 -348.2,-205.5 -344.4,-198.0 -343.5,-188.5 -346.3,-179.1 -355.8,-169.7 -356.8,-166.5 -366.6,-161.6 -376.4,-161.6 -388.1,-164.5 -396.0,-168.4 -401.8,-172.3 -409.7,-176.3 -415.5,-178.2 -420.4,-186.0 -426.3,-195.8 -433.1,-204.6 -441.0,-205.6 -448.8,-209.5 -465.7,-217.4 -455.1,-238.8 -443.6,-259.7 -431.0,-280.0 -417.6,-299.7Z" fill="#de735c"/>
<path d="M-389.6,-191.9 -385.2,-197.8 -377.4,-199.3 -366.6,-196.3 -362.7,-189.5 -364.7,-183.1 -370.5,-178.2 -376.4,-174.3 -382.3,-176.8 -387.2,-181.2 -388.6,-187.0Z" fill="#be3036"/>
<path d="M-464.5,-175.3 -457.6,-176.8 -448.8,-175.3 -439.0,-172.3 -431.2,-166.5 -425.3,-157.7 -425.3,-152.8 -429.2,-146.9 -435.1,-145.9 -444.9,-147.9 -456.6,-151.8 -470.3,-154.7 -488.3,-160.6 -484.7,-171.1 -480.9,-181.5Z" fill="#de735c"/>
<path d="M-465.4,-171.4 -456.6,-171.4 -446.8,-168.4 -439.0,-164.5 -433.6,-157.7 -437.1,-148.9 -441.0,-147.9 -450.8,-150.8 -461.5,-154.2 -469.8,-157.2 -487.4,-163.1 -485.0,-170.4 -482.3,-177.6Z" fill="#be3036"/>
<path d="M-465.9,-168.4 -457.6,-167.5 -448.8,-163.5 -443.9,-159.6 -443.9,-149.8 -452.7,-152.8 -461.5,-155.7 -469.4,-158.6 -486.9,-164.6 -485.2,-169.7 -483.4,-174.7Z" fill="#870a24"/>
<path d="M-321.8,349.0 -319.0,346.2 -312.4,348.1 -306.7,352.8 -303.9,361.3 -308.6,371.7 -313.3,374.5 -322.8,367.9Z" fill="#f6af8e"/>
<path d="M-107.3,378.3 -100.7,376.4 -89.4,378.3 -80.9,383.9 -85.6,395.2 -86.5,416.0 -93.1,423.5 -102.6,421.7 -111.1,413.2 -109.2,399.0Z" fill="#f6af8e"/>
<path d="M-34.6,482.0 -31.8,470.3 -19.5,476.4 -10.1,472.6 -2.6,480.1 8.8,487.7 17.2,482.0 19.7,470.3 29.5,482.0 48.4,484.9 57.8,492.4 20.1,498.1 -23.3,498.1Z" fill="#f6af8e"/>
<path d="M-90.3,486.8 -84.6,481.7 -80.9,487.7 -85.6,491.5Z" fill="#f6af8e"/>
<path d="M78.6,452.8 95.6,449.0 108.8,444.3 113.5,446.2 112.5,453.7 99.3,452.8 80.5,457.5Z" fill="#f6af8e"/>
<path d="M160.6,453.7 165.4,450.0 171.4,451.8 176.7,459.4 171.4,468.8 167.2,466.0Z" fill="#f6af8e"/>
<path d="M-274.6,-141.9 -269.9,-146.3 -271.8,-139.1Z" fill="#f6af8e"/>
<path d="M-473.3,-146.9 -462.5,-143.0 -448.8,-139.1 -435.1,-136.1 -420.4,-134.2 -405.8,-133.2 -396.0,-134.2 -386.2,-137.1 -376.4,-140.1 -366.6,-142.5 -363.7,-138.1 -365.6,-131.3 -371.5,-125.4 -378.4,-119.5 -386.2,-114.6 -396.0,-108.7 -405.8,-103.9 -415.5,-99.9 -423.4,-98.0 -432.2,-98.0 -442.9,-100.4 -452.7,-99.9 -461.5,-100.9 -469.4,-105.8 -476.2,-109.7 -482.6,-110.7 -501.0,-114.9 -496.3,-133.7 -490.9,-152.4Z" fill="#9dcbe1"/>
<path d="M-474.2,-143.0 -464.5,-139.1 -452.7,-136.1 -439.0,-133.2 -425.3,-131.3 -410.6,-129.3 -402.8,-126.4 -398.4,-122.9 -400.9,-117.6 -405.8,-112.7 -415.5,-109.7 -425.3,-108.3 -435.1,-107.8 -444.9,-108.7 -454.7,-111.7 -464.5,-116.6 -472.3,-121.5 -480.1,-124.4 -497.6,-128.9 -494.9,-138.7 -492.1,-148.4Z" fill="#59a1ca"/>
<path d="M-475.2,-138.1 -468.4,-137.1 -460.5,-134.2 -448.8,-133.2 -435.1,-129.3 -425.3,-127.3 -417.5,-123.4 -413.6,-119.5 -417.5,-115.6 -423.4,-112.7 -431.2,-111.7 -441.0,-113.6 -448.8,-116.6 -456.6,-120.5 -464.5,-125.4 -471.3,-129.3 -477.7,-132.2 -495.4,-137.1 -494.5,-140.3 -493.6,-143.4Z" fill="#2c75b4"/>
<path d="M-456.6,-131.7 -448.8,-131.3 -440.0,-128.3 -431.2,-126.4 -425.3,-123.4 -421.4,-121.0 -426.3,-117.6 -429.2,-115.1 -435.1,-115.6 -442.9,-119.5 -448.8,-122.4 -454.7,-127.3Z" fill="#114781"/></g>
</g>
<g clip-path="url(#cp1)"><use href="#coast" x="734.0" y="595.3"/></g>
<circle cx="734.35" cy="596.0" r="502.95" fill="none" stroke="#000" stroke-width="3.33"/>
<g clip-path="url(#cp2)"><use href="#coast" x="2052.6" y="595.3"/></g>
<circle cx="2052.95" cy="596.0" r="502.95" fill="none" stroke="#000" stroke-width="3.33"/>
<g clip-path="url(#cp3)"><use href="#coast" x="1393.4" y="1855.35"/></g>
<circle cx="1393.75" cy="1856.05" r="502.95" fill="none" stroke="#000" stroke-width="3.33"/>
<rect x="2607.70" y="966.79" width="49.90" height="83.01" fill="#fff2e0"/><rect x="2607.70" y="884.38" width="49.90" height="83.01" fill="#fee7c5"/><rect x="2607.70" y="801.97" width="49.90" height="83.01" fill="#fdd8a6"/><rect x="2607.70" y="719.56" width="49.90" height="83.01" fill="#fdc690"/><rect x="2607.70" y="637.15" width="49.90" height="83.01" fill="#fdaf79"/><rect x="2607.70" y="554.75" width="49.90" height="83.01" fill="#fc8c59"/><rect x="2607.70" y="472.34" width="49.90" height="83.01" fill="#f2704c"/><rect x="2607.70" y="389.93" width="49.90" height="83.01" fill="#e44d35"/><rect x="2607.70" y="307.52" width="49.90" height="83.01" fill="#d12719"/><rect x="2607.70" y="225.11" width="49.90" height="83.01" fill="#b50302"/><rect x="2607.70" y="142.70" width="49.90" height="83.01" fill="#910000"/><rect x="2607.70" y="143.00" width="49.90" height="906.50" fill="none" stroke="#000" stroke-width="3.33"/><line x1="2657.60" x2="2672.20" y1="1049.50" y2="1049.50" stroke="#000" stroke-width="3.33"/><text x="2686.70" y="1065.30" class="t10">0.00</text><line x1="2657.60" x2="2672.20" y1="884.68" y2="884.68" stroke="#000" stroke-width="3.33"/><text x="2686.70" y="900.48" class="t10">17.82</text><line x1="2657.60" x2="2672.20" y1="719.86" y2="719.86" stroke="#000" stroke-width="3.33"/><text x="2686.70" y="735.66" class="t10">35.64</text><line x1="2657.60" x2="2672.20" y1="555.05" y2="555.05" stroke="#000" stroke-width="3.33"/><text x="2686.70" y="570.85" class="t10">53.45</text><line x1="2657.60" x2="2672.20" y1="390.23" y2="390.23" stroke="#000" stroke-width="3.33"/><text x="2686.70" y="406.03" class="t10">71.27</text><line x1="2657.60" x2="2672.20" y1="225.41" y2="225.41" stroke="#000" stroke-width="3.33"/><text x="2686.70" y="241.21" class="t10">89.09</text>
<rect x="1947.70" y="2226.48" width="50.60" height="82.92" fill="#114781"/><rect x="1947.70" y="2144.16" width="50.60" height="82.92" fill="#2c75b4"/><rect x="1947.70" y="2061.85" width="50.60" height="82.92" fill="#59a1ca"/><rect x="1947.70" y="1979.53" width="50.60" height="82.92" fill="#9dcbe1"/><rect x="1947.70" y="1897.21" width="50.60" height="82.92" fill="#d4e6f1"/><rect x="1947.70" y="1814.89" width="50.60" height="82.92" fill="#f7f6f6"/><rect x="1947.70" y="1732.57" width="50.60" height="82.92" fill="#fdddcb"/><rect x="1947.70" y="1650.25" width="50.60" height="82.92" fill="#f6af8e"/><rect x="1947.70" y="1567.94" width="50.60" height="82.92" fill="#de735c"/><rect x="1947.70" y="1485.62" width="50.60" height="82.92" fill="#be3036"/><rect x="1947.70" y="1403.30" width="50.60" height="82.92" fill="#870a24"/><rect x="1947.70" y="1403.60" width="50.60" height="905.50" fill="none" stroke="#000" stroke-width="3.33"/><line x1="1998.30" x2="2012.90" y1="2226.78" y2="2226.78" stroke="#000" stroke-width="3.33"/><text x="2027.50" y="2242.58" class="t10">−5.04</text><line x1="1998.30" x2="2012.90" y1="2062.15" y2="2062.15" stroke="#000" stroke-width="3.33"/><text x="2027.50" y="2077.95" class="t10">−2.80</text><line x1="1998.30" x2="2012.90" y1="1897.51" y2="1897.51" stroke="#000" stroke-width="3.33"/><text x="2027.50" y="1913.31" class="t10">−0.56</text><line x1="1998.30" x2="2012.90" y1="1732.87" y2="1732.87" stroke="#000" stroke-width="3.33"/><text x="2027.50" y="1748.67" class="t10">1.68</text><line x1="1998.30" x2="2012.90" y1="1568.24" y2="1568.24" stroke="#000" stroke-width="3.33"/><text x="2027.50" y="1584.04" class="t10">3.92</text><line x1="1998.30" x2="2012.90" y1="1403.60" y2="1403.60" stroke="#000" stroke-width="3.33"/><text x="2027.50" y="1419.40" class="t10">6.16</text>
<text x="734.35" y="67.7" class="t12" text-anchor="middle">FSNT [none]</text>
<text x="2052.95" y="67.7" class="t12" text-anchor="middle">FSNT [none]</text>
<text x="1110.1" y="1327.8" class="t12" text-anchor="middle">Difference [none]</text>
<text x="30.3" y="1102.7" class="t10" xml:space="preserve">Mean: 200.22</text><text x="30.3" y="1150.6" class="t10" xml:space="preserve">Max: 93.22</text><text x="30.3" y="1200.6" class="t10" xml:space="preserve">Min:  0.00</text>
<text x="1348.9" y="1102.7" class="t10" xml:space="preserve">Mean: 201.35</text><text x="1348.9" y="1150.6" class="t10" xml:space="preserve">Max: 92.34</text><text x="1348.9" y="1200.6" class="t10" xml:space="preserve">Min:  0.00</text>
<text x="689.5" y="2362.7" class="t10" xml:space="preserve">Mean: -1.13</text><text x="689.5" y="2410.6" class="t10" xml:space="preserve">Max:  2.82</text><text x="689.5" y="2460.6" class="t10" xml:space="preserve">Min: -3.66</text>
</svg></body></html>
